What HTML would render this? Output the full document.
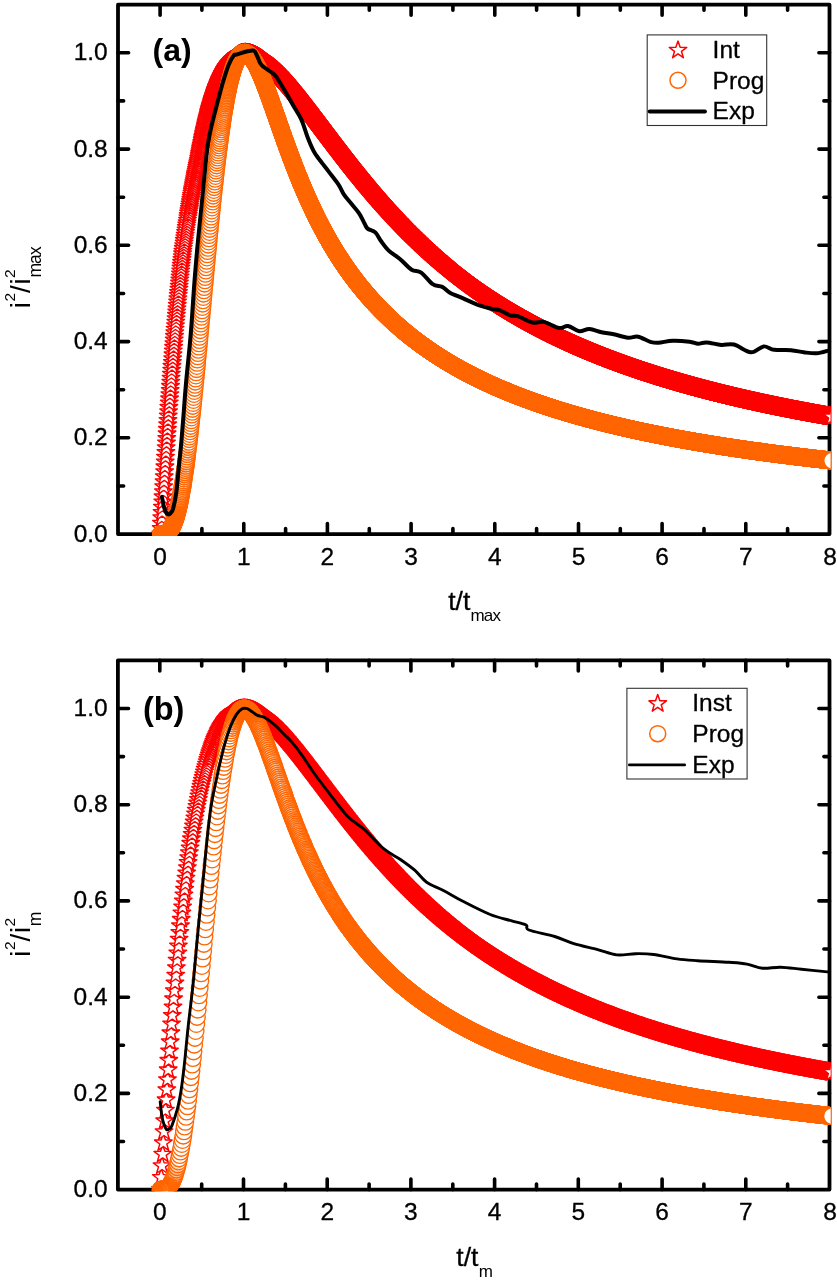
<!DOCTYPE html>
<html lang="en"><head><meta charset="utf-8"><title>Figure</title>
<style>html,body{margin:0;padding:0;background:#fff}svg{display:block}text{font-family:"Liberation Sans", Arial, sans-serif}.mi{fill:none;stroke:none;marker-start:url(#ms);marker-mid:url(#ms);marker-end:url(#ms)}.mp{fill:none;stroke:none;marker-start:url(#mc);marker-mid:url(#mc);marker-end:url(#mc)}.mi2{fill:none;stroke:none;marker-start:url(#ms2);marker-mid:url(#ms2);marker-end:url(#ms2)}.mp2{fill:none;stroke:none;marker-start:url(#mc2);marker-mid:url(#mc2);marker-end:url(#mc2)}.mi3{fill:none;stroke:none;marker-start:url(#ms3);marker-mid:url(#ms3);marker-end:url(#ms3)}.mp3{fill:none;stroke:none;marker-start:url(#mc3);marker-mid:url(#mc3);marker-end:url(#mc3)}</style></head><body>
<svg width="837" height="1280" viewBox="0 0 837 1280">
<rect width="837" height="1280" fill="#fff"/>
<defs>
<g id="gs"><path d="M0.00 -9.20L2.16 -2.98L8.75 -2.84L3.50 1.14L5.41 7.44L0.00 3.68L-5.41 7.44L-3.50 1.14L-8.75 -2.84L-2.16 -2.98Z" fill="#fff" stroke="#f00" stroke-width="1.45" stroke-linejoin="round"/></g>
<g id="gc"><circle r="8.3" fill="#fff" stroke="#f60" stroke-width="1.35"/></g>
<marker id="ms" markerUnits="userSpaceOnUse" markerWidth="24" markerHeight="24" refX="12" refY="12" viewBox="0 0 24 24"><path d="M12.00 2.80L14.16 9.02L20.75 9.16L15.50 13.14L17.41 19.44L12.00 15.68L6.59 19.44L8.50 13.14L3.25 9.16L9.84 9.02Z" fill="#fff" stroke="#f00" stroke-width="1.45" stroke-linejoin="round"/></marker>
<marker id="mc" markerUnits="userSpaceOnUse" markerWidth="24" markerHeight="24" refX="12" refY="12" viewBox="0 0 24 24"><circle cx="12" cy="12" r="8.3" fill="#fff" stroke="#f60" stroke-width="1.35"/></marker>
<marker id="ms2" markerUnits="userSpaceOnUse" markerWidth="24" markerHeight="24" refX="12" refY="12" viewBox="0 0 24 24"><path d="M12.00 2.80L14.16 9.02L20.75 9.16L15.50 13.14L17.41 19.44L12.00 15.68L6.59 19.44L8.50 13.14L3.25 9.16L9.84 9.02Z" fill="none" stroke="#f00" stroke-opacity="0.85" stroke-width="1.45" stroke-linejoin="round"/></marker>
<marker id="mc2" markerUnits="userSpaceOnUse" markerWidth="24" markerHeight="24" refX="12" refY="12" viewBox="0 0 24 24"><circle cx="12" cy="12" r="8.3" fill="none" stroke="#f60" stroke-opacity="0.85" stroke-width="1.35"/></marker>
<marker id="ms3" markerUnits="userSpaceOnUse" markerWidth="24" markerHeight="24" refX="12" refY="12" viewBox="0 0 24 24"><path d="M12.00 2.80L14.16 9.02L20.75 9.16L15.50 13.14L17.41 19.44L12.00 15.68L6.59 19.44L8.50 13.14L3.25 9.16L9.84 9.02Z" fill="none" stroke="#f00" stroke-opacity="0.4" stroke-width="1.45" stroke-linejoin="round"/></marker>
<marker id="mc3" markerUnits="userSpaceOnUse" markerWidth="24" markerHeight="24" refX="12" refY="12" viewBox="0 0 24 24"><circle cx="12" cy="12" r="8.3" fill="none" stroke="#f60" stroke-opacity="0.4" stroke-width="1.35"/></marker>
<path id="star" d="M12.00 2.80L14.16 9.02L20.75 9.16L15.50 13.14L17.41 19.44L12.00 15.68L6.59 19.44L8.50 13.14L3.25 9.16L9.84 9.02Z" fill="#fff" stroke="#f00" stroke-width="1.5" stroke-linejoin="round"/>
</defs>
<rect x="118.0" y="4.7" width="711.5" height="529.4" fill="none" stroke="#000" stroke-width="3.8" stroke-linejoin="round"/>
<path d="M160.1 534.1v-10.6M160.1 4.7v10.6M201.9 534.1v-5.6M201.9 4.7v5.6M243.8 534.1v-10.6M243.8 4.7v10.6M285.6 534.1v-5.6M285.6 4.7v5.6M327.4 534.1v-10.6M327.4 4.7v10.6M369.3 534.1v-5.6M369.3 4.7v5.6M411.1 534.1v-10.6M411.1 4.7v10.6M452.9 534.1v-5.6M452.9 4.7v5.6M494.8 534.1v-10.6M494.8 4.7v10.6M536.6 534.1v-5.6M536.6 4.7v5.6M578.5 534.1v-10.6M578.5 4.7v10.6M620.3 534.1v-5.6M620.3 4.7v5.6M662.1 534.1v-10.6M662.1 4.7v10.6M704.0 534.1v-5.6M704.0 4.7v5.6M745.8 534.1v-10.6M745.8 4.7v10.6M787.6 534.1v-5.6M787.6 4.7v5.6M118.0 486.0h5.6M829.5 486.0h-5.6M118.0 437.8h10.6M829.5 437.8h-10.6M118.0 389.7h5.6M829.5 389.7h-5.6M118.0 341.6h10.6M829.5 341.6h-10.6M118.0 293.5h5.6M829.5 293.5h-5.6M118.0 245.3h10.6M829.5 245.3h-10.6M118.0 197.2h5.6M829.5 197.2h-5.6M118.0 149.1h10.6M829.5 149.1h-10.6M118.0 100.9h5.6M829.5 100.9h-5.6M118.0 52.8h10.6M829.5 52.8h-10.6" stroke="#000" stroke-width="3.6" stroke-linecap="round" fill="none"/>
<g font-size="24.5" fill="#000" stroke="#000" stroke-width="0.3">
<text x="160.1" y="564.8" text-anchor="middle">0</text>
<text x="243.8" y="564.8" text-anchor="middle">1</text>
<text x="327.4" y="564.8" text-anchor="middle">2</text>
<text x="411.1" y="564.8" text-anchor="middle">3</text>
<text x="494.8" y="564.8" text-anchor="middle">4</text>
<text x="578.5" y="564.8" text-anchor="middle">5</text>
<text x="662.1" y="564.8" text-anchor="middle">6</text>
<text x="745.8" y="564.8" text-anchor="middle">7</text>
<text x="830.1" y="564.8" text-anchor="middle">8</text>
<text x="107.7" y="541.5" text-anchor="end">0.0</text>
<text x="107.7" y="445.2" text-anchor="end">0.2</text>
<text x="107.7" y="349.0" text-anchor="end">0.4</text>
<text x="107.7" y="252.7" text-anchor="end">0.6</text>
<text x="107.7" y="156.5" text-anchor="end">0.8</text>
<text x="107.7" y="60.2" text-anchor="end">1.0</text>
</g>
<clipPath id="clip1"><rect x="118.0" y="4.7" width="712.5" height="531.1"/></clipPath>
<g clip-path="url(#clip1)">
<polyline class="mi" points="160.9,534.1 161.2,528.6 161.5,523.2 161.8,517.8 162.1,512.5 162.4,507.3 162.8,502 163.1,496.9 163.4,491.8 163.7,486.7 164,481.7 164.3,476.7 164.6,471.7 164.9,466.9 165.2,462 165.5,457.2 165.9,452.5 166.2,447.8 166.5,443.1 166.8,438.5 167.1,433.9 167.4,429.4 167.7,424.9 168,420.5 168.3,416.1 168.6,411.7 168.9,407.4 169.3,403.1 169.6,398.9 169.9,394.7 170.2,390.5 170.5,386.4 170.8,382.3 171.1,378.3 171.4,374.3 171.7,370.3 172,366.4 172.4,362.5 172.7,358.7 173,354.9 173.3,351.1 173.6,347.4 173.9,343.7 174.2,340 174.5,336.4 174.8,332.8 175.1,329.3 175.5,325.8 175.8,322.3 176.1,318.8 176.4,315.4 176.7,312 177,308.7 177.3,305.4 177.6,302.1 177.9,298.8 178.2,295.6 178.5,292.5 178.9,289.3 179.2,286.2 179.5,283.1 179.8,280 180.1,277 180.4,274 180.7,271.1 181,268.1 181.3,265.2 181.6,262.4 182,259.5 182.3,256.7 182.6,253.9 182.9,251.2 183.3,248.4 183.7,245.7 184.1,243.1 184.4,240.4 184.8,237.8 185.2,235.2 185.6,232.6 186,230.1 186.3,227.6 186.7,225.1 187.1,222.7 187.5,220.2 187.9,217.8 188.2,215.5 188.6,213.1 189,210.8 189.4,208.5 189.8,206.2 190.1,204 190.5,201.7 190.9,199.5 191.3,197.3 191.6,195.2 192,193.1 192.4,190.9 192.8,188.9 193.2,186.8 193.5,184.8 193.9,182.7 194.3,180.7 194.7,178.8 195.1,176.8 195.4,174.9 195.8,173 196.2,171.1 196.6,169.2 197,167.4 197.3,165.6 197.7,163.8 198.1,162 198.5,160.2 198.8,158.5 199.2,156.8 199.5,155.1 199.8,153.4 200.1,151.7 200.4,150.1 200.7,148.5 201,146.9 201.4,145.3 201.7,143.7 202,142.2 202.3,140.6 202.6,139.1 202.9,137.6 203.2,136.2 203.5,134.7 203.8,133.3 204.1,131.8 204.5,130.4 204.8,129.1 205.1,127.7 205.4,126.3 205.7,125 206,123.7 206.3,122.4 206.6,121.1 206.9,119.8 207.2,118.6 207.6,117.3 207.9,116.1 208.2,114.9 208.5,113.7 208.8,112.5 209.1,111.4 209.4,110.2 209.7,109.1 210,108 210.3,106.9 210.6,105.8 211,104.8 211.3,103.7 211.6,102.7 211.9,101.6 212.2,100.6 212.5,99.6 212.8,98.6 213.1,97.7 213.4,96.7 213.7,95.8 214.1,94.8 214.4,93.9 214.7,93 215,92.1 215.3,91.2 215.6,90.4 215.9,89.5 216.2,88.7 216.5,87.9 216.8,87 217.1,86.2 217.5,85.5 217.8,84.7 218.1,83.9 218.4,83.2 218.7,82.4 219,81.7 219.3,81 219.6,80.3 219.9,79.6 220.2,78.9 220.6,78.2 220.9,77.5 221.2,76.9 221.5,76.2 221.8,75.6 222.1,75 222.4,74.4 222.7,73.8 223,73.2 223.3,72.6 223.6,72 224,71.5 224.3,70.9 224.6,70.4 224.9,69.9 225.2,69.4 225.5,68.8 225.8,68.3 226.1,67.9 226.4,67.4 226.7,66.9 227.1,66.4 227.4,66 227.7,65.5 228,65.1 228.3,64.7 228.6,64.3 228.9,63.9 229.2,63.5 229.5,63.1 229.8,62.7 230.1,62.3 230.5,62 230.8,61.6 231.1,61.3 231.4,60.9 231.7,60.6 232,60.3 232.3,59.9 232.6,59.6 232.9,59.3 233.2,59 233.6,58.8 233.9,58.5 234.2,58.2 234.5,57.9 234.8,57.7 235.1,57.4 235.3,57.2 235.6,57 235.9,56.7 236.1,56.5 236.4,56.3 236.6,56.1 236.9,55.9 237.1,55.7 237.4,55.5 237.6,55.3 237.9,55.2 238.1,55 238.4,54.9 238.6,54.7 238.9,54.6 239.2,54.4 239.4,54.3 239.7,54.2 239.9,54 240.2,53.9 240.4,53.8 240.7,53.7 240.9,53.6 241.2,53.5 241.4,53.4 241.7,53.4 241.9,53.3 242.2,53.2 242.5,53.2 242.7,53.1 243,53.1 243.2,53 243.5,53 243.7,52.9 244,52.9 244.2,52.9 244.5,52.9 244.7,52.8 245,52.8 245.3,52.8 245.5,52.8 245.8,52.8 246,52.8 246.3,52.9 246.5,52.9 246.8,52.9 247,52.9 247.3,53 247.5,53 247.8,53.1 248,53.1 248.3,53.2 248.6,53.2 248.8,53.3 249.1,53.3 249.4,53.4 249.7,53.5 250.1,53.6 250.4,53.7 250.7,53.7 251,53.8 251.3,53.9 251.6,54 251.9,54.1 252.2,54.2 252.5,54.3 252.8,54.5 253.2,54.6 253.5,54.7 253.8,54.8 254.1,55 254.4,55.1 254.7,55.2 255,55.4 255.3,55.5 255.6,55.7 255.9,55.8 256.3,56 256.6,56.1 256.9,56.3 257.2,56.5 257.5,56.6 257.8,56.8 258.1,57 258.4,57.2 258.7,57.3 259,57.5 259.3,57.7 259.7,57.9 260,58.1 260.3,58.3 260.6,58.5 260.9,58.7 261.2,58.9 261.5,59.1 261.8,59.3 262.1,59.5 262.4,59.8 262.8,60 263.1,60.2 263.4,60.4 263.7,60.7 264,60.9 264.3,61.1 264.6,61.4 264.9,61.6 265.2,61.8 265.5,62.1 265.8,62.3 266.2,62.6 266.5,62.8 266.8,63.1 267.1,63.3 267.4,63.6 267.7,63.9 268,64.1 268.3,64.4 268.6,64.7 268.9,64.9 269.3,65.2 269.6,65.5 269.9,65.8 270.2,66 270.5,66.3 270.8,66.6 271.1,66.9 271.4,67.2 271.7,67.5 272,67.8 272.3,68 272.7,68.3 273,68.6 273.3,68.9 273.6,69.2 273.9,69.5 274.2,69.8 274.5,70.2 274.8,70.5 275.1,70.8 275.4,71.1 275.8,71.4 276.1,71.7 276.4,72 276.7,72.3 277,72.7 277.3,73 277.6,73.3 277.9,73.6 278.2,74 278.5,74.3 278.8,74.6 279.2,74.9 279.5,75.3 279.8,75.6 280.1,75.9 280.4,76.3 280.7,76.6 281,77 281.3,77.3 281.6,77.6 281.9,78 282.3,78.3 282.6,78.7 282.9,79 283.2,79.4 283.5,79.7 283.8,80.1 284.1,80.4 284.4,80.8 284.7,81.1 285,81.5 285.4,81.9 285.7,82.2 286,82.6 286.3,82.9 286.6,83.3 286.9,83.7 287.2,84 287.5,84.4 287.8,84.7 288.1,85.1 288.4,85.5 288.8,85.9 289.1,86.2 289.4,86.6 289.7,87 290,87.3 290.3,87.7 290.6,88.1 290.9,88.5 291.2,88.8 291.5,89.2 291.9,89.6 292.2,90 292.5,90.4 292.8,90.7 293.1,91.1 293.4,91.5 293.7,91.9 294,92.3 294.3,92.6 294.6,93 294.9,93.4 295.3,93.8 295.6,94.2 295.9,94.6 296.2,95 296.5,95.4 296.8,95.7 297.1,96.1 297.4,96.5 297.7,96.9 298,97.3 298.4,97.7 298.7,98.1 299,98.5 299.3,98.9 299.6,99.3 299.9,99.7 300.2,100.1 300.5,100.5 300.8,100.9 301.1,101.3 301.4,101.7 301.8,102.1 302.1,102.5 302.4,102.9 302.7,103.3 303,103.7 303.3,104.1 303.6,104.5 303.9,104.9 304.2,105.3 304.5,105.7 304.9,106.1 305.2,106.5 305.5,106.9 305.8,107.3 306.1,107.7 306.4,108.1 306.7,108.5 307,108.9 307.3,109.3 307.6,109.7 308,110.1 308.3,110.5 308.6,110.9 308.9,111.3 309.2,111.7 309.5,112.1 309.8,112.5 310.1,113 310.4,113.4 310.7,113.8 311,114.2 311.4,114.6 311.7,115 312,115.4 312.3,115.8 312.6,116.2 312.9,116.6 313.2,117 313.5,117.4 313.8,117.9 314.1,118.3 314.5,118.7 314.8,119.1 315.1,119.5 315.4,119.9 315.7,120.3 316,120.7 316.3,121.1 316.6,121.5 316.9,122 317.2,122.4 317.5,122.8 317.9,123.2 318.2,123.6 318.5,124 318.8,124.4 319.1,124.8 319.4,125.2 319.7,125.7 320,126.1 320.3,126.5 320.6,126.9 321,127.3 321.3,127.7 321.6,128.1 321.9,128.5 322.2,128.9 322.5,129.4 322.8,129.8 323.1,130.2 323.4,130.6 323.7,131 324,131.4 324.4,131.8 324.7,132.2 325,132.6 325.3,133 325.6,133.5 325.9,133.9 326.2,134.3 326.5,134.7 326.8,135.1 327.1,135.5 327.5,135.9 327.8,136.3 328.1,136.7 328.4,137.1 328.7,137.6 329,138 329.3,138.4 329.6,138.8 329.9,139.2 330.2,139.6 330.5,140 330.9,140.4 331.2,140.8 331.5,141.2 331.8,141.6 332.1,142 332.4,142.4 332.7,142.9 333,143.3 333.3,143.7 333.6,144.1 334,144.5 334.3,144.9 334.6,145.3 334.9,145.7 335.2,146.1 335.5,146.5 335.8,146.9 336.1,147.3 336.4,147.7 336.7,148.1 337.1,148.5 337.4,148.9 337.7,149.3 338,149.7 338.3,150.1 338.6,150.5 338.9,150.9 339.2,151.3 339.5,151.8 339.8,152.2 340.1,152.6 340.5,153 340.8,153.4 341.1,153.8 341.4,154.2 341.7,154.6 342,155 342.3,155.4 342.6,155.8 342.9,156.2 343.2,156.6 343.6,156.9 343.9,157.3 344.2,157.7 344.5,158.1 344.8,158.5 345.1,158.9 345.4,159.3 345.7,159.7 346,160.1 346.3,160.5 346.6,160.9 347,161.3 347.3,161.7 347.6,162.1 347.9,162.5 348.2,162.9 348.5,163.3 348.8,163.7 349.1,164.1 349.4,164.5 349.7,164.8 350.1,165.2 350.4,165.6 350.7,166 351,166.4 351.3,166.8 351.6,167.2 351.9,167.6 352.2,168 352.5,168.3 352.8,168.7 353.1,169.1 353.5,169.5 353.8,169.9 354.1,170.3 354.4,170.7 354.7,171.1 355,171.4 355.3,171.8 355.6,172.2 355.9,172.6 356.2,173 356.6,173.4 356.9,173.7 357.2,174.1 357.5,174.5 357.8,174.9 358.1,175.3 358.4,175.7 358.7,176 359,176.4 359.3,176.8 359.6,177.2 360,177.6 360.3,177.9 360.6,178.3 360.9,178.7 361.2,179.1 361.5,179.4 361.8,179.8 362.1,180.2 362.4,180.6 362.7,180.9 363.1,181.3 363.4,181.7 363.7,182.1 364,182.4 364.3,182.8 364.6,183.2 364.9,183.6 365.2,183.9 365.5,184.3 365.8,184.7 366.2,185 366.5,185.4 366.8,185.8 367.1,186.2 367.4,186.5 367.7,186.9 368,187.3 368.3,187.6 368.6,188 368.9,188.4 369.2,188.7 369.6,189.1 369.9,189.5 370.2,189.8 370.5,190.2 370.8,190.6 371.1,190.9 371.4,191.3 371.7,191.6 372,192 372.3,192.4 372.7,192.7 373,193.1 373.3,193.5 373.6,193.8 373.9,194.2 374.2,194.5 374.5,194.9 374.8,195.3 375.1,195.6 375.4,196 375.7,196.3 376.1,196.7 376.4,197 376.7,197.4 377,197.7 377.3,198.1 377.6,198.5 377.9,198.8 378.2,199.2 378.5,199.5 378.8,199.9 379.2,200.2 379.5,200.6 379.8,200.9 380.1,201.3 380.4,201.6 380.7,202 381,202.3 381.3,202.7 381.6,203 381.9,203.4 382.2,203.7 382.6,204.1 382.9,204.4 383.2,204.8 383.5,205.1 383.8,205.4 384.1,205.8 384.4,206.1 384.7,206.5 385,206.8 385.3,207.2 385.7,207.5 386,207.9 386.3,208.2 386.6,208.5 386.9,208.9 387.2,209.2 387.5,209.6 387.8,209.9 388.1,210.2 388.4,210.6 388.8,210.9 389.1,211.2 389.4,211.6 389.7,211.9 390,212.3 390.3,212.6 390.6,212.9 390.9,213.3 391.2,213.6 391.5,213.9 391.8,214.3 392.2,214.6 392.5,214.9 392.8,215.3 393.1,215.6 393.4,215.9 393.7,216.3 394,216.6 394.3,216.9 394.6,217.2 394.9,217.6 395.3,217.9 395.6,218.2 395.9,218.6 396.2,218.9 396.5,219.2 396.8,219.5 397.1,219.9 397.4,220.2 397.7,220.5 398,220.8 398.3,221.2 398.7,221.5 399,221.8 399.3,222.1 399.6,222.4 399.9,222.8 400.2,223.1 400.5,223.4 400.8,223.7 401.1,224 401.4,224.4 401.8,224.7 402.1,225 402.4,225.3 402.7,225.6 403,226 403.3,226.3 403.6,226.6 403.9,226.9 404.2,227.2 404.5,227.5 404.8,227.8 405.2,228.2 405.5,228.5 405.8,228.8 406.1,229.1 406.4,229.4 406.7,229.7 407,230 407.3,230.3 407.6,230.6 407.9,231 408.3,231.3 408.6,231.6 408.9,231.9 409.2,232.2 409.5,232.5 409.8,232.8 410.1,233.1 410.4,233.4 410.7,233.7 411,234 411.3,234.3 411.7,234.6 412,234.9 412.3,235.2 412.6,235.5 412.9,235.8 413.2,236.1 413.5,236.4 413.8,236.7 414.1,237 414.4,237.3 414.8,237.6 415.1,237.9 415.4,238.2 415.7,238.5 416,238.8 416.3,239.1 416.6,239.4 416.9,239.7 417.2,240 417.5,240.3 417.9,240.6 418.2,240.9 418.5,241.2 418.8,241.5 419.1,241.8 419.4,242.1 419.7,242.4 420,242.7 420.3,243 420.6,243.3 420.9,243.5 421.3,243.8 421.6,244.1 421.9,244.4 422.2,244.7 422.5,245 422.8,245.3 423.1,245.6 423.4,245.9 423.7,246.1 424,246.4 424.4,246.7 424.7,247 425,247.3 425.3,247.6 425.6,247.9 425.9,248.1 426.2,248.4 426.5,248.7 426.8,249 427.1,249.3 427.4,249.5 427.8,249.8 428.1,250.1 428.4,250.4 428.7,250.7 429,250.9 429.3,251.2 429.6,251.5 429.9,251.8 430.2,252.1 430.5,252.3 430.9,252.6 431.2,252.9 431.5,253.2 431.8,253.4 432.1,253.7 432.4,254 432.7,254.3 433,254.5 433.3,254.8 433.6,255.1 433.9,255.4 434.3,255.6 434.6,255.9 434.9,256.2 435.2,256.4 435.5,256.7 435.8,257 436.1,257.3 436.4,257.5 436.7,257.8 437,258.1 437.4,258.3 437.7,258.6 438,258.9 438.3,259.1 438.6,259.4 438.9,259.7 439.2,259.9 439.5,260.2 439.8,260.5 440.1,260.7 440.4,261 440.8,261.3 441.1,261.5 441.4,261.8 441.7,262 442,262.3 442.3,262.6 442.6,262.8 442.9,263.1 443.2,263.3 443.5,263.6 443.9,263.9 444.2,264.1 444.5,264.4 444.8,264.6 445.1,264.9 445.4,265.2 445.7,265.4 446,265.7 446.3,265.9 446.6,266.2 447,266.4 447.3,266.7 447.6,266.9 447.9,267.2 448.2,267.5 448.5,267.7 448.8,268 449.1,268.2 449.4,268.5 449.7,268.7 450,269 450.4,269.2 450.7,269.5 451,269.7 451.3,270 451.6,270.2 451.9,270.5 452.2,270.7 452.5,271 452.8,271.2 453.1,271.5 453.5,271.7 453.8,272 454.1,272.2 454.4,272.5 454.7,272.7 455,272.9 455.3,273.2 455.6,273.4 455.9,273.7 456.2,273.9 456.5,274.2 456.9,274.4 457.2,274.6 457.5,274.9 457.8,275.1 458.1,275.4 458.4,275.6 458.7,275.9 459,276.1 459.3,276.3 459.6,276.6 460,276.8 460.3,277.1 460.6,277.3 460.9,277.5 461.2,277.8 461.5,278 461.8,278.2 462.1,278.5 462.4,278.7 462.7,279 463,279.2 463.4,279.4 463.7,279.7 464,279.9 464.3,280.1 464.6,280.4 464.9,280.6 465.2,280.8 465.5,281.1 465.8,281.3 466.1,281.5 466.5,281.8 466.8,282 467.1,282.2 467.4,282.5 467.7,282.7 468,282.9 468.3,283.1 468.6,283.4 468.9,283.6 469.2,283.8 469.6,284.1 469.9,284.3 470.2,284.5 470.5,284.7 470.8,285 471.1,285.2 471.4,285.4 471.7,285.6 472,285.9 472.3,286.1 472.6,286.3 473,286.5 473.3,286.8 473.6,287 473.9,287.2 474.2,287.4 474.5,287.7 474.8,287.9 475.1,288.1 475.4,288.3 475.7,288.5 476.1,288.8 476.4,289 476.7,289.2 477,289.4 477.3,289.6 477.6,289.9 477.9,290.1 478.2,290.3 478.5,290.5 478.8,290.7 479.1,291 479.5,291.2 479.8,291.4 480.1,291.6 480.4,291.8 480.7,292 481,292.3 481.3,292.5 481.6,292.7 481.9,292.9 482.2,293.1 482.6,293.3 482.9,293.5 483.2,293.8 483.5,294 483.8,294.2 484.1,294.4 484.4,294.6 484.7,294.8 485,295 485.3,295.2 485.6,295.5 486,295.7 486.3,295.9 486.6,296.1 486.9,296.3 487.2,296.5 487.5,296.7 487.8,296.9 488.1,297.1 488.4,297.3 488.7,297.5 489.1,297.7 489.4,298 489.7,298.2 490,298.4 490.3,298.6 490.6,298.8 490.9,299 491.2,299.2 491.5,299.4 491.8,299.6 492.1,299.8 492.5,300 492.8,300.2 493.1,300.4 493.4,300.6 493.7,300.8 494,301 494.3,301.2 494.6,301.4 494.9,301.6 495.2,301.8 495.6,302 495.9,302.2 496.2,302.4 496.5,302.6 496.8,302.8 497.1,303 497.4,303.2 497.7,303.4 498,303.6 498.3,303.8 498.7,304 499,304.2 499.3,304.4 499.6,304.6 499.9,304.8 500.2,305 500.5,305.2 500.8,305.4 501.1,305.6 501.4,305.8 501.7,306 502.1,306.2 502.4,306.4 502.7,306.6 503,306.7 503.3,306.9 503.6,307.1 503.9,307.3 504.2,307.5 504.5,307.7 504.8,307.9 505.2,308.1 505.5,308.3 505.8,308.5 506.1,308.7 506.4,308.9 506.7,309 507,309.2 507.3,309.4 507.6,309.6 507.9,309.8 508.2,310 508.6,310.2 508.9,310.4 509.2,310.6 509.5,310.7 509.8,310.9 510.1,311.1 510.4,311.3 510.7,311.5 511,311.7 511.3,311.9 511.7,312 512,312.2 512.3,312.4 512.6,312.6 512.9,312.8 513.2,313 513.5,313.2 513.8,313.3 514.1,313.5 514.4,313.7 514.7,313.9 515.1,314.1 515.4,314.2 515.7,314.4 516,314.6 516.3,314.8 516.6,315 516.9,315.2 517.2,315.3 517.5,315.5 517.8,315.7 518.2,315.9 518.5,316.1 518.8,316.2 519.1,316.4 519.4,316.6 519.7,316.8 520,316.9 520.3,317.1 520.6,317.3 520.9,317.5 521.2,317.7 521.6,317.8 521.9,318 522.2,318.2 522.5,318.4 522.8,318.5 523.1,318.7 523.4,318.9 523.7,319.1 524,319.2 524.3,319.4 524.7,319.6 525,319.8 525.3,319.9 525.6,320.1 525.9,320.3 526.2,320.5 526.5,320.6 526.8,320.8 527.1,321 527.4,321.1 527.8,321.3 528.1,321.5 528.4,321.7 528.7,321.8 529,322 529.3,322.2 529.6,322.3 529.9,322.5 530.2,322.7 530.5,322.8 530.8,323 531.2,323.2 531.5,323.4 531.8,323.5 532.1,323.7 532.4,323.9 532.7,324 533,324.2 533.3,324.4 533.6,324.5 533.9,324.7 534.3,324.9 534.6,325 534.9,325.2 535.2,325.4 535.5,325.5 535.8,325.7 536.1,325.9 536.4,326 536.7,326.2 537,326.4 537.3,326.5 537.7,326.7 538,326.8 538.3,327 538.6,327.2 538.9,327.3 539.2,327.5 539.5,327.7 539.8,327.8 540.1,328 540.4,328.1 540.8,328.3 541.1,328.5 541.4,328.6 541.7,328.8 542,328.9 542.3,329.1 542.6,329.3 542.9,329.4 543.2,329.6 543.5,329.7 543.8,329.9 544.2,330.1 544.5,330.2 544.8,330.4 545.1,330.5 545.4,330.7 545.7,330.9 546,331 546.3,331.2 546.6,331.3 546.9,331.5 547.3,331.6 547.6,331.8 547.9,332 548.2,332.1 548.5,332.3 548.8,332.4 549.1,332.6 549.4,332.7 549.7,332.9 550,333 550.4,333.2 550.7,333.3 551,333.5 551.3,333.7 551.6,333.8 551.9,334 552.2,334.1 552.5,334.3 552.8,334.4 553.1,334.6 553.4,334.7 553.8,334.9 554.1,335 554.4,335.2 554.7,335.3 555,335.5 555.3,335.6 555.6,335.8 555.9,335.9 556.2,336.1 556.5,336.2 556.9,336.4 557.2,336.5 557.5,336.7 557.8,336.8 558.1,337 558.4,337.1 558.7,337.3 559,337.4 559.3,337.6 559.6,337.7 559.9,337.9 560.3,338 560.6,338.2 560.9,338.3 561.2,338.5 561.5,338.6 561.8,338.8 562.1,338.9 562.4,339 562.7,339.2 563,339.3 563.4,339.5 563.7,339.6 564,339.8 564.3,339.9 564.6,340.1 564.9,340.2 565.2,340.4 565.5,340.5 565.8,340.6 566.1,340.8 566.4,340.9 566.8,341.1 567.1,341.2 567.4,341.4 567.7,341.5 568,341.6 568.3,341.8 568.6,341.9 568.9,342.1 569.2,342.2 569.5,342.4 569.9,342.5 570.2,342.6 570.5,342.8 570.8,342.9 571.1,343.1 571.4,343.2 571.7,343.3 572,343.5 572.3,343.6 572.6,343.8 572.9,343.9 573.3,344 573.6,344.2 573.9,344.3 574.2,344.5 574.5,344.6 574.8,344.7 575.1,344.9 575.4,345 575.7,345.1 576,345.3 576.4,345.4 576.7,345.6 577,345.7 577.3,345.8 577.6,346 577.9,346.1 578.2,346.2 578.5,346.4 578.8,346.5 579.1,346.6 579.5,346.8 579.8,346.9 580.1,347 580.4,347.2 580.7,347.3 581,347.5 581.3,347.6 581.6,347.7 581.9,347.9 582.2,348 582.5,348.1 582.9,348.3 583.2,348.4 583.5,348.5 583.8,348.7 584.1,348.8 584.4,348.9 584.7,349.1 585,349.2 585.3,349.3 585.6,349.4 586,349.6 586.3,349.7 586.6,349.8 586.9,350 587.2,350.1 587.5,350.2 587.8,350.4 588.1,350.5 588.4,350.6 588.7,350.8 589,350.9 589.4,351 589.7,351.1 590,351.3 590.3,351.4 590.6,351.5 590.9,351.7 591.2,351.8 591.5,351.9 591.8,352 592.1,352.2 592.5,352.3 592.8,352.4 593.1,352.6 593.4,352.7 593.7,352.8 594,352.9 594.3,353.1 594.6,353.2 594.9,353.3 595.2,353.4 595.5,353.6 595.9,353.7 596.2,353.8 596.5,353.9 596.8,354.1 597.1,354.2 597.4,354.3 597.7,354.5 598,354.6 598.3,354.7 598.6,354.8 599,354.9 599.3,355.1 599.6,355.2 599.9,355.3 600.2,355.4 600.5,355.6 600.8,355.7 601.1,355.8 601.4,355.9 601.7,356.1 602.1,356.2 602.4,356.3 602.7,356.4 603,356.6 603.3,356.7 603.6,356.8 603.9,356.9 604.2,357 604.5,357.2 604.8,357.3 605.1,357.4 605.5,357.5 605.8,357.6 606.1,357.8 606.4,357.9 606.7,358 607,358.1 607.3,358.2 607.6,358.4 607.9,358.5 608.2,358.6 608.6,358.7 608.9,358.8 609.2,359 609.5,359.1 609.8,359.2 610.1,359.3 610.4,359.4 610.7,359.6 611,359.7 611.3,359.8 611.6,359.9 612,360 612.3,360.1 612.6,360.3 612.9,360.4 613.2,360.5 613.5,360.6 613.8,360.7 614.1,360.8 614.4,361 614.7,361.1 615.1,361.2 615.4,361.3 615.7,361.4 616,361.5 616.3,361.7 616.6,361.8 616.9,361.9 617.2,362 617.5,362.1 617.8,362.2 618.1,362.4 618.5,362.5 618.8,362.6 619.1,362.7 619.4,362.8 619.7,362.9 620,363 620.3,363.1 620.6,363.3 620.9,363.4 621.2,363.5 621.6,363.6 621.9,363.7 622.2,363.8 622.5,363.9 622.8,364.1 623.1,364.2 623.4,364.3 623.7,364.4 624,364.5 624.3,364.6 624.6,364.7 625,364.8 625.3,364.9 625.6,365.1 625.9,365.2 626.2,365.3 626.5,365.4 626.8,365.5 627.1,365.6 627.4,365.7 627.7,365.8 628.1,365.9 628.4,366.1 628.7,366.2 629,366.3 629.3,366.4 629.6,366.5 629.9,366.6 630.2,366.7 630.5,366.8 630.8,366.9 631.2,367 631.5,367.1 631.8,367.3 632.1,367.4 632.4,367.5 632.7,367.6 633,367.7 633.3,367.8 633.6,367.9 633.9,368 634.2,368.1 634.6,368.2 634.9,368.3 635.2,368.4 635.5,368.5 635.8,368.7 636.1,368.8 636.4,368.9 636.7,369 637,369.1 637.3,369.2 637.7,369.3 638,369.4 638.3,369.5 638.6,369.6 638.9,369.7 639.2,369.8 639.5,369.9 639.8,370 640.1,370.1 640.4,370.2 640.7,370.3 641.1,370.4 641.4,370.5 641.7,370.7 642,370.8 642.3,370.9 642.6,371 642.9,371.1 643.2,371.2 643.5,371.3 643.8,371.4 644.2,371.5 644.5,371.6 644.8,371.7 645.1,371.8 645.4,371.9 645.7,372 646,372.1 646.3,372.2 646.6,372.3 646.9,372.4 647.2,372.5 647.6,372.6 647.9,372.7 648.2,372.8 648.5,372.9 648.8,373 649.1,373.1 649.4,373.2 649.7,373.3 650,373.4 650.3,373.5 650.7,373.6 651,373.7 651.3,373.8 651.6,373.9 651.9,374 652.2,374.1 652.5,374.2 652.8,374.3 653.1,374.4 653.4,374.5 653.7,374.6 654.1,374.7 654.4,374.8 654.7,374.9 655,375 655.3,375.1 655.6,375.2 655.9,375.3 656.2,375.4 656.5,375.5 656.8,375.6 657.2,375.7 657.5,375.8 657.8,375.9 658.1,376 658.4,376.1 658.7,376.2 659,376.3 659.3,376.4 659.6,376.5 659.9,376.6 660.3,376.7 660.6,376.8 660.9,376.9 661.2,377 661.5,377.1 661.8,377.2 662.1,377.3 662.4,377.4 662.7,377.4 663,377.5 663.3,377.6 663.7,377.7 664,377.8 664.3,377.9 664.6,378 664.9,378.1 665.2,378.2 665.5,378.3 665.8,378.4 666.1,378.5 666.4,378.6 666.8,378.7 667.1,378.8 667.4,378.9 667.7,379 668,379.1 668.3,379.2 668.6,379.2 668.9,379.3 669.2,379.4 669.5,379.5 669.8,379.6 670.2,379.7 670.5,379.8 670.8,379.9 671.1,380 671.4,380.1 671.7,380.2 672,380.3 672.3,380.4 672.6,380.5 672.9,380.5 673.3,380.6 673.6,380.7 673.9,380.8 674.2,380.9 674.5,381 674.8,381.1 675.1,381.2 675.4,381.3 675.7,381.4 676,381.5 676.3,381.6 676.7,381.6 677,381.7 677.3,381.8 677.6,381.9 677.9,382 678.2,382.1 678.5,382.2 678.8,382.3 679.1,382.4 679.4,382.5 679.8,382.6 680.1,382.6 680.4,382.7 680.7,382.8 681,382.9 681.3,383 681.6,383.1 681.9,383.2 682.2,383.3 682.5,383.4 682.9,383.4 683.2,383.5 683.5,383.6 683.8,383.7 684.1,383.8 684.4,383.9 684.7,384 685,384.1 685.3,384.2 685.6,384.2 685.9,384.3 686.3,384.4 686.6,384.5 686.9,384.6 687.2,384.7 687.5,384.8 687.8,384.9 688.1,384.9 688.4,385 688.7,385.1 689,385.2 689.4,385.3 689.7,385.4 690,385.5 690.3,385.5 690.6,385.6 690.9,385.7 691.2,385.8 691.5,385.9 691.8,386 692.1,386.1 692.4,386.1 692.8,386.2 693.1,386.3 693.4,386.4 693.7,386.5 694,386.6 694.3,386.7 694.6,386.7 694.9,386.8 695.2,386.9 695.5,387 695.9,387.1 696.2,387.2 696.5,387.3 696.8,387.3 697.1,387.4 697.4,387.5 697.7,387.6 698,387.7 698.3,387.8 698.6,387.8 698.9,387.9 699.3,388 699.6,388.1 699.9,388.2 700.2,388.3 700.5,388.3 700.8,388.4 701.1,388.5 701.4,388.6 701.7,388.7 702,388.8 702.4,388.8 702.7,388.9 703,389 703.3,389.1 703.6,389.2 703.9,389.3 704.2,389.3 704.5,389.4 704.8,389.5 705.1,389.6 705.4,389.7 705.8,389.7 706.1,389.8 706.4,389.9 706.7,390 707,390.1 707.3,390.2 707.6,390.2 707.9,390.3 708.2,390.4 708.5,390.5 708.9,390.6 709.2,390.6 709.5,390.7 709.8,390.8 710.1,390.9 710.4,391 710.7,391 711,391.1 711.3,391.2 711.6,391.3 712,391.4 712.3,391.4 712.6,391.5 712.9,391.6 713.2,391.7 713.5,391.8 713.8,391.8 714.1,391.9 714.4,392 714.7,392.1 715,392.2 715.4,392.2 715.7,392.3 716,392.4 716.3,392.5 716.6,392.5 716.9,392.6 717.2,392.7 717.5,392.8 717.8,392.9 718.1,392.9 718.5,393 718.8,393.1 719.1,393.2 719.4,393.3 719.7,393.3 720,393.4 720.3,393.5 720.6,393.6 720.9,393.6 721.2,393.7 721.5,393.8 721.9,393.9 722.2,393.9 722.5,394 722.8,394.1 723.1,394.2 723.4,394.3 723.7,394.3 724,394.4 724.3,394.5 724.6,394.6 725,394.6 725.3,394.7 725.6,394.8 725.9,394.9 726.2,394.9 726.5,395 726.8,395.1 727.1,395.2 727.4,395.2 727.7,395.3 728,395.4 728.4,395.5 728.7,395.5 729,395.6 729.3,395.7 729.6,395.8 729.9,395.8 730.2,395.9 730.5,396 730.8,396.1 731.1,396.1 731.5,396.2 731.8,396.3 732.1,396.4 732.4,396.4 732.7,396.5 733,396.6 733.3,396.7 733.6,396.7 733.9,396.8 734.2,396.9 734.5,397 734.9,397 735.2,397.1 735.5,397.2 735.8,397.3 736.1,397.3 736.4,397.4 736.7,397.5 737,397.6 737.3,397.6 737.6,397.7 738,397.8 738.3,397.8 738.6,397.9 738.9,398 739.2,398.1 739.5,398.1 739.8,398.2 740.1,398.3 740.4,398.4 740.7,398.4 741.1,398.5 741.4,398.6 741.7,398.6 742,398.7 742.3,398.8 742.6,398.9 742.9,398.9 743.2,399 743.5,399.1 743.8,399.1 744.1,399.2 744.5,399.3 744.8,399.4 745.1,399.4 745.4,399.5 745.7,399.6 746,399.6 746.3,399.7 746.6,399.8 746.9,399.9 747.2,399.9 747.6,400 747.9,400.1 748.2,400.1 748.5,400.2 748.8,400.3 749.1,400.3 749.4,400.4 749.7,400.5 750,400.6 750.3,400.6 750.6,400.7 751,400.8 751.3,400.8 751.6,400.9 751.9,401 752.2,401 752.5,401.1 752.8,401.2 753.1,401.3 753.4,401.3 753.7,401.4 754.1,401.5 754.4,401.5 754.7,401.6 755,401.7 755.3,401.7 755.6,401.8 755.9,401.9 756.2,401.9 756.5,402 756.8,402.1 757.1,402.1 757.5,402.2 757.8,402.3 758.1,402.4 758.4,402.4 758.7,402.5 759,402.6 759.3,402.6 759.6,402.7 759.9,402.8 760.2,402.8 760.6,402.9 760.9,403 761.2,403 761.5,403.1 761.8,403.2 762.1,403.2 762.4,403.3 762.7,403.4 763,403.4 763.3,403.5 763.7,403.6 764,403.6 764.3,403.7 764.6,403.8 764.9,403.8 765.2,403.9 765.5,404 765.8,404 766.1,404.1 766.4,404.2 766.7,404.2 767.1,404.3 767.4,404.4 767.7,404.4 768,404.5 768.3,404.6 768.6,404.6 768.9,404.7 769.2,404.8 769.5,404.8 769.8,404.9 770.2,405 770.5,405 770.8,405.1 771.1,405.2 771.4,405.2 771.7,405.3 772,405.4 772.3,405.4 772.6,405.5 772.9,405.5 773.2,405.6 773.6,405.7 773.9,405.7 774.2,405.8 774.5,405.9 774.8,405.9 775.1,406 775.4,406.1 775.7,406.1 776,406.2 776.3,406.3 776.7,406.3 777,406.4 777.3,406.4 777.6,406.5 777.9,406.6 778.2,406.6 778.5,406.7 778.8,406.8 779.1,406.8 779.4,406.9 779.7,407 780.1,407 780.4,407.1 780.7,407.1 781,407.2 781.3,407.3 781.6,407.3 781.9,407.4 782.2,407.5 782.5,407.5 782.8,407.6 783.2,407.7 783.5,407.7 783.8,407.8 784.1,407.8 784.4,407.9 784.7,408 785,408 785.3,408.1 785.6,408.2 785.9,408.2 786.2,408.3 786.6,408.3 786.9,408.4 787.2,408.5 787.5,408.5 787.8,408.6 788.1,408.6 788.4,408.7 788.7,408.8 789,408.8 789.3,408.9 789.7,409 790,409 790.3,409.1 790.6,409.1 790.9,409.2 791.2,409.3 791.5,409.3 791.8,409.4 792.1,409.4 792.4,409.5 792.8,409.6 793.1,409.6 793.4,409.7 793.7,409.8 794,409.8 794.3,409.9 794.6,409.9 794.9,410 795.2,410.1 795.5,410.1 795.8,410.2 796.2,410.2 796.5,410.3 796.8,410.4 797.1,410.4 797.4,410.5 797.7,410.5 798,410.6 798.3,410.7 798.6,410.7 798.9,410.8 799.3,410.8 799.6,410.9 799.9,411 800.2,411 800.5,411.1 800.8,411.1 801.1,411.2 801.4,411.3 801.7,411.3 802,411.4 802.3,411.4 802.7,411.5 803,411.5 803.3,411.6 803.6,411.7 803.9,411.7 804.2,411.8 804.5,411.8 804.8,411.9 805.1,412 805.4,412 805.8,412.1 806.1,412.1 806.4,412.2 806.7,412.3 807,412.3 807.3,412.4 807.6,412.4 807.9,412.5 808.2,412.5 808.5,412.6 808.8,412.7 809.2,412.7 809.5,412.8 809.8,412.8 810.1,412.9 810.4,412.9 810.7,413 811,413.1 811.3,413.1 811.6,413.2 811.9,413.2 812.3,413.3 812.6,413.4 812.9,413.4 813.2,413.5 813.5,413.5 813.8,413.6 814.1,413.6 814.4,413.7 814.7,413.8 815,413.8 815.4,413.9 815.7,413.9 816,414 816.3,414 816.6,414.1 816.9,414.1 817.2,414.2 817.5,414.3 817.8,414.3 818.1,414.4 818.4,414.4 818.8,414.5 819.1,414.5 819.4,414.6 819.7,414.7 820,414.7 820.3,414.8 820.6,414.8 820.9,414.9 821.2,414.9 821.5,415 821.9,415 822.2,415.1 822.5,415.2 822.8,415.2 823.1,415.3 823.4,415.3 823.7,415.4 824,415.4 824.3,415.5 824.6,415.5 824.9,415.6 825.3,415.7 825.6,415.7 825.9,415.8 826.2,415.8 826.5,415.9 826.8,415.9 827.1,416 827.4,416 827.7,416.1 828,416.2 828.4,416.2 828.7,416.3 829,416.3 829.3,416.4 829.6,416.4 829.9,416.5 830.2,416.5 830.5,416.6 830.8,416.6 831.1,416.7 831.4,416.7 831.8,416.8 832.1,416.9"/>
<polyline class="mi2" points="208.8,112.5 209.1,111.4 209.4,110.2 209.7,109.1 210,108 210.3,106.9 210.6,105.8 211,104.8 211.3,103.7 211.6,102.7 211.9,101.6 212.2,100.6 212.5,99.6 212.8,98.6 213.1,97.7 213.4,96.7 213.7,95.8 214.1,94.8 214.4,93.9 214.7,93 215,92.1 215.3,91.2 215.6,90.4 215.9,89.5 216.2,88.7 216.5,87.9 216.8,87 217.1,86.2 217.5,85.5 217.8,84.7 218.1,83.9 218.4,83.2 218.7,82.4 219,81.7 219.3,81 219.6,80.3 219.9,79.6 220.2,78.9 220.6,78.2 220.9,77.5 221.2,76.9 221.5,76.2 221.8,75.6 222.1,75 222.4,74.4 222.7,73.8 223,73.2 223.3,72.6 223.6,72 224,71.5 224.3,70.9 224.6,70.4 224.9,69.9 225.2,69.4 225.5,68.8 225.8,68.3 226.1,67.9 226.4,67.4 226.7,66.9 227.1,66.4 227.4,66 227.7,65.5 228,65.1 228.3,64.7 228.6,64.3 228.9,63.9 229.2,63.5 229.5,63.1 229.8,62.7 230.1,62.3 230.5,62 230.8,61.6 231.1,61.3 231.4,60.9 231.7,60.6 232,60.3 232.3,59.9 232.6,59.6 232.9,59.3 233.2,59 233.6,58.8 233.9,58.5 234.2,58.2 234.5,57.9 234.8,57.7 235.1,57.4 235.3,57.2 235.6,57 235.9,56.7 236.1,56.5 236.4,56.3 236.6,56.1 236.9,55.9 237.1,55.7 237.4,55.5 237.6,55.3 237.9,55.2 238.1,55 238.4,54.9 238.6,54.7 238.9,54.6 239.2,54.4 239.4,54.3 239.7,54.2 239.9,54 240.2,53.9 240.4,53.8 240.7,53.7 240.9,53.6 241.2,53.5 241.4,53.4 241.7,53.4 241.9,53.3 242.2,53.2 242.5,53.2 242.7,53.1 243,53.1 243.2,53 243.5,53 243.7,52.9 244,52.9 244.2,52.9 244.5,52.9 244.7,52.8 245,52.8 245.3,52.8 245.5,52.8 245.8,52.8 246,52.8 246.3,52.9 246.5,52.9 246.8,52.9 247,52.9 247.3,53 247.5,53 247.8,53.1 248,53.1 248.3,53.2 248.6,53.2 248.8,53.3 249.1,53.3 249.4,53.4 249.7,53.5 250.1,53.6 250.4,53.7 250.7,53.7 251,53.8 251.3,53.9 251.6,54 251.9,54.1 252.2,54.2 252.5,54.3 252.8,54.5 253.2,54.6 253.5,54.7 253.8,54.8 254.1,55 254.4,55.1 254.7,55.2 255,55.4 255.3,55.5 255.6,55.7 255.9,55.8 256.3,56 256.6,56.1 256.9,56.3 257.2,56.5 257.5,56.6 257.8,56.8 258.1,57 258.4,57.2 258.7,57.3 259,57.5 259.3,57.7 259.7,57.9 260,58.1 260.3,58.3 260.6,58.5 260.9,58.7 261.2,58.9 261.5,59.1 261.8,59.3 262.1,59.5 262.4,59.8 262.8,60 263.1,60.2 263.4,60.4 263.7,60.7 264,60.9 264.3,61.1 264.6,61.4 264.9,61.6 265.2,61.8 265.5,62.1 265.8,62.3 266.2,62.6 266.5,62.8 266.8,63.1 267.1,63.3 267.4,63.6 267.7,63.9 268,64.1 268.3,64.4 268.6,64.7 268.9,64.9 269.3,65.2 269.6,65.5 269.9,65.8 270.2,66 270.5,66.3 270.8,66.6 271.1,66.9 271.4,67.2 271.7,67.5 272,67.8 272.3,68 272.7,68.3 273,68.6 273.3,68.9 273.6,69.2 273.9,69.5 274.2,69.8 274.5,70.2 274.8,70.5 275.1,70.8 275.4,71.1 275.8,71.4 276.1,71.7 276.4,72 276.7,72.3 277,72.7 277.3,73 277.6,73.3 277.9,73.6 278.2,74 278.5,74.3 278.8,74.6 279.2,74.9 279.5,75.3 279.8,75.6 280.1,75.9 280.4,76.3 280.7,76.6 281,77 281.3,77.3 281.6,77.6 281.9,78 282.3,78.3 282.6,78.7 282.9,79 283.2,79.4 283.5,79.7 283.8,80.1 284.1,80.4 284.4,80.8 284.7,81.1 285,81.5 285.4,81.9 285.7,82.2 286,82.6 286.3,82.9 286.6,83.3 286.9,83.7 287.2,84 287.5,84.4 287.8,84.7 288.1,85.1 288.4,85.5 288.8,85.9 289.1,86.2 289.4,86.6 289.7,87 290,87.3 290.3,87.7 290.6,88.1 290.9,88.5 291.2,88.8 291.5,89.2 291.9,89.6 292.2,90 292.5,90.4 292.8,90.7 293.1,91.1 293.4,91.5 293.7,91.9 294,92.3 294.3,92.6 294.6,93 294.9,93.4 295.3,93.8 295.6,94.2 295.9,94.6 296.2,95 296.5,95.4 296.8,95.7 297.1,96.1 297.4,96.5 297.7,96.9 298,97.3 298.4,97.7 298.7,98.1 299,98.5 299.3,98.9 299.6,99.3 299.9,99.7 300.2,100.1 300.5,100.5 300.8,100.9 301.1,101.3 301.4,101.7 301.8,102.1 302.1,102.5 302.4,102.9 302.7,103.3 303,103.7 303.3,104.1 303.6,104.5 303.9,104.9 304.2,105.3 304.5,105.7 304.9,106.1 305.2,106.5 305.5,106.9 305.8,107.3 306.1,107.7 306.4,108.1 306.7,108.5 307,108.9 307.3,109.3 307.6,109.7 308,110.1 308.3,110.5 308.6,110.9 308.9,111.3 309.2,111.7 309.5,112.1 309.8,112.5 310.1,113 310.4,113.4 310.7,113.8 311,114.2 311.4,114.6 311.7,115 312,115.4 312.3,115.8 312.6,116.2 312.9,116.6 313.2,117 313.5,117.4 313.8,117.9 314.1,118.3 314.5,118.7 314.8,119.1 315.1,119.5 315.4,119.9 315.7,120.3 316,120.7 316.3,121.1 316.6,121.5 316.9,122 317.2,122.4 317.5,122.8 317.9,123.2 318.2,123.6 318.5,124 318.8,124.4 319.1,124.8 319.4,125.2 319.7,125.7 320,126.1 320.3,126.5 320.6,126.9 321,127.3 321.3,127.7 321.6,128.1 321.9,128.5 322.2,128.9 322.5,129.4 322.8,129.8 323.1,130.2 323.4,130.6 323.7,131 324,131.4 324.4,131.8 324.7,132.2 325,132.6 325.3,133 325.6,133.5 325.9,133.9 326.2,134.3 326.5,134.7 326.8,135.1 327.1,135.5 327.5,135.9 327.8,136.3 328.1,136.7 328.4,137.1 328.7,137.6 329,138 329.3,138.4 329.6,138.8 329.9,139.2 330.2,139.6 330.5,140 330.9,140.4 331.2,140.8 331.5,141.2 331.8,141.6 332.1,142 332.4,142.4 332.7,142.9 333,143.3 333.3,143.7 333.6,144.1 334,144.5 334.3,144.9 334.6,145.3 334.9,145.7 335.2,146.1 335.5,146.5 335.8,146.9 336.1,147.3 336.4,147.7 336.7,148.1 337.1,148.5 337.4,148.9 337.7,149.3 338,149.7 338.3,150.1 338.6,150.5 338.9,150.9 339.2,151.3 339.5,151.8 339.8,152.2 340.1,152.6 340.5,153 340.8,153.4 341.1,153.8 341.4,154.2 341.7,154.6 342,155 342.3,155.4 342.6,155.8 342.9,156.2 343.2,156.6 343.6,156.9 343.9,157.3 344.2,157.7 344.5,158.1 344.8,158.5 345.1,158.9 345.4,159.3 345.7,159.7 346,160.1 346.3,160.5 346.6,160.9 347,161.3 347.3,161.7 347.6,162.1 347.9,162.5 348.2,162.9 348.5,163.3 348.8,163.7 349.1,164.1 349.4,164.5 349.7,164.8 350.1,165.2 350.4,165.6 350.7,166 351,166.4 351.3,166.8 351.6,167.2 351.9,167.6 352.2,168 352.5,168.3 352.8,168.7 353.1,169.1 353.5,169.5 353.8,169.9 354.1,170.3 354.4,170.7 354.7,171.1 355,171.4 355.3,171.8 355.6,172.2 355.9,172.6 356.2,173 356.6,173.4 356.9,173.7 357.2,174.1 357.5,174.5 357.8,174.9 358.1,175.3 358.4,175.7 358.7,176 359,176.4 359.3,176.8 359.6,177.2 360,177.6 360.3,177.9 360.6,178.3 360.9,178.7 361.2,179.1 361.5,179.4 361.8,179.8 362.1,180.2 362.4,180.6 362.7,180.9 363.1,181.3 363.4,181.7 363.7,182.1 364,182.4 364.3,182.8 364.6,183.2 364.9,183.6 365.2,183.9 365.5,184.3 365.8,184.7 366.2,185 366.5,185.4 366.8,185.8 367.1,186.2 367.4,186.5 367.7,186.9 368,187.3 368.3,187.6 368.6,188 368.9,188.4 369.2,188.7 369.6,189.1 369.9,189.5 370.2,189.8 370.5,190.2 370.8,190.6 371.1,190.9 371.4,191.3 371.7,191.6 372,192 372.3,192.4 372.7,192.7 373,193.1 373.3,193.5 373.6,193.8 373.9,194.2 374.2,194.5 374.5,194.9 374.8,195.3 375.1,195.6 375.4,196 375.7,196.3 376.1,196.7 376.4,197 376.7,197.4 377,197.7 377.3,198.1 377.6,198.5 377.9,198.8 378.2,199.2 378.5,199.5 378.8,199.9 379.2,200.2 379.5,200.6 379.8,200.9 380.1,201.3 380.4,201.6 380.7,202 381,202.3 381.3,202.7 381.6,203 381.9,203.4 382.2,203.7 382.6,204.1 382.9,204.4 383.2,204.8 383.5,205.1 383.8,205.4 384.1,205.8 384.4,206.1 384.7,206.5 385,206.8 385.3,207.2 385.7,207.5 386,207.9 386.3,208.2 386.6,208.5 386.9,208.9 387.2,209.2 387.5,209.6 387.8,209.9 388.1,210.2 388.4,210.6 388.8,210.9 389.1,211.2 389.4,211.6 389.7,211.9 390,212.3 390.3,212.6 390.6,212.9 390.9,213.3 391.2,213.6 391.5,213.9 391.8,214.3 392.2,214.6 392.5,214.9 392.8,215.3 393.1,215.6 393.4,215.9 393.7,216.3 394,216.6 394.3,216.9 394.6,217.2 394.9,217.6 395.3,217.9 395.6,218.2 395.9,218.6 396.2,218.9 396.5,219.2 396.8,219.5 397.1,219.9 397.4,220.2 397.7,220.5 398,220.8 398.3,221.2 398.7,221.5 399,221.8 399.3,222.1 399.6,222.4 399.9,222.8 400.2,223.1 400.5,223.4 400.8,223.7 401.1,224 401.4,224.4 401.8,224.7 402.1,225 402.4,225.3 402.7,225.6 403,226 403.3,226.3 403.6,226.6 403.9,226.9 404.2,227.2 404.5,227.5 404.8,227.8 405.2,228.2 405.5,228.5 405.8,228.8 406.1,229.1 406.4,229.4 406.7,229.7 407,230 407.3,230.3 407.6,230.6 407.9,231 408.3,231.3 408.6,231.6 408.9,231.9 409.2,232.2 409.5,232.5 409.8,232.8 410.1,233.1 410.4,233.4 410.7,233.7 411,234 411.3,234.3 411.7,234.6 412,234.9 412.3,235.2 412.6,235.5 412.9,235.8 413.2,236.1 413.5,236.4 413.8,236.7 414.1,237 414.4,237.3 414.8,237.6 415.1,237.9 415.4,238.2 415.7,238.5 416,238.8 416.3,239.1 416.6,239.4 416.9,239.7 417.2,240 417.5,240.3 417.9,240.6 418.2,240.9 418.5,241.2 418.8,241.5 419.1,241.8 419.4,242.1 419.7,242.4 420,242.7 420.3,243 420.6,243.3 420.9,243.5 421.3,243.8 421.6,244.1 421.9,244.4 422.2,244.7 422.5,245 422.8,245.3 423.1,245.6 423.4,245.9 423.7,246.1 424,246.4 424.4,246.7 424.7,247 425,247.3 425.3,247.6 425.6,247.9 425.9,248.1 426.2,248.4 426.5,248.7 426.8,249 427.1,249.3 427.4,249.5 427.8,249.8 428.1,250.1 428.4,250.4 428.7,250.7 429,250.9 429.3,251.2 429.6,251.5 429.9,251.8 430.2,252.1 430.5,252.3 430.9,252.6 431.2,252.9 431.5,253.2 431.8,253.4 432.1,253.7 432.4,254 432.7,254.3 433,254.5 433.3,254.8 433.6,255.1 433.9,255.4 434.3,255.6 434.6,255.9 434.9,256.2 435.2,256.4 435.5,256.7 435.8,257 436.1,257.3 436.4,257.5 436.7,257.8 437,258.1 437.4,258.3 437.7,258.6 438,258.9 438.3,259.1 438.6,259.4 438.9,259.7 439.2,259.9 439.5,260.2 439.8,260.5 440.1,260.7 440.4,261 440.8,261.3 441.1,261.5 441.4,261.8 441.7,262 442,262.3 442.3,262.6 442.6,262.8 442.9,263.1 443.2,263.3 443.5,263.6 443.9,263.9 444.2,264.1 444.5,264.4 444.8,264.6 445.1,264.9 445.4,265.2 445.7,265.4 446,265.7 446.3,265.9 446.6,266.2 447,266.4 447.3,266.7 447.6,266.9 447.9,267.2 448.2,267.5 448.5,267.7 448.8,268 449.1,268.2 449.4,268.5 449.7,268.7 450,269 450.4,269.2 450.7,269.5 451,269.7 451.3,270 451.6,270.2 451.9,270.5 452.2,270.7 452.5,271 452.8,271.2 453.1,271.5 453.5,271.7 453.8,272 454.1,272.2 454.4,272.5 454.7,272.7 455,272.9 455.3,273.2 455.6,273.4 455.9,273.7 456.2,273.9 456.5,274.2 456.9,274.4 457.2,274.6 457.5,274.9 457.8,275.1 458.1,275.4 458.4,275.6 458.7,275.9 459,276.1 459.3,276.3 459.6,276.6 460,276.8 460.3,277.1 460.6,277.3 460.9,277.5 461.2,277.8 461.5,278 461.8,278.2 462.1,278.5 462.4,278.7 462.7,279 463,279.2 463.4,279.4 463.7,279.7 464,279.9 464.3,280.1 464.6,280.4 464.9,280.6 465.2,280.8 465.5,281.1 465.8,281.3 466.1,281.5 466.5,281.8 466.8,282 467.1,282.2 467.4,282.5 467.7,282.7 468,282.9 468.3,283.1 468.6,283.4 468.9,283.6 469.2,283.8 469.6,284.1 469.9,284.3 470.2,284.5 470.5,284.7 470.8,285 471.1,285.2 471.4,285.4 471.7,285.6 472,285.9 472.3,286.1 472.6,286.3 473,286.5 473.3,286.8 473.6,287 473.9,287.2 474.2,287.4 474.5,287.7 474.8,287.9 475.1,288.1 475.4,288.3 475.7,288.5 476.1,288.8 476.4,289 476.7,289.2 477,289.4 477.3,289.6 477.6,289.9 477.9,290.1 478.2,290.3 478.5,290.5 478.8,290.7 479.1,291 479.5,291.2 479.8,291.4 480.1,291.6 480.4,291.8 480.7,292 481,292.3 481.3,292.5 481.6,292.7 481.9,292.9 482.2,293.1 482.6,293.3 482.9,293.5 483.2,293.8 483.5,294 483.8,294.2 484.1,294.4 484.4,294.6 484.7,294.8 485,295 485.3,295.2 485.6,295.5 486,295.7 486.3,295.9 486.6,296.1 486.9,296.3 487.2,296.5 487.5,296.7 487.8,296.9 488.1,297.1 488.4,297.3 488.7,297.5 489.1,297.7 489.4,298 489.7,298.2 490,298.4 490.3,298.6 490.6,298.8 490.9,299 491.2,299.2 491.5,299.4 491.8,299.6 492.1,299.8 492.5,300 492.8,300.2 493.1,300.4 493.4,300.6 493.7,300.8 494,301 494.3,301.2 494.6,301.4 494.9,301.6 495.2,301.8 495.6,302 495.9,302.2 496.2,302.4 496.5,302.6 496.8,302.8 497.1,303 497.4,303.2 497.7,303.4 498,303.6 498.3,303.8 498.7,304 499,304.2 499.3,304.4 499.6,304.6 499.9,304.8 500.2,305 500.5,305.2 500.8,305.4 501.1,305.6 501.4,305.8 501.7,306 502.1,306.2 502.4,306.4 502.7,306.6 503,306.7 503.3,306.9 503.6,307.1 503.9,307.3 504.2,307.5 504.5,307.7 504.8,307.9 505.2,308.1 505.5,308.3 505.8,308.5 506.1,308.7 506.4,308.9 506.7,309 507,309.2 507.3,309.4 507.6,309.6 507.9,309.8 508.2,310 508.6,310.2 508.9,310.4 509.2,310.6 509.5,310.7 509.8,310.9 510.1,311.1 510.4,311.3 510.7,311.5 511,311.7 511.3,311.9 511.7,312 512,312.2 512.3,312.4 512.6,312.6 512.9,312.8 513.2,313 513.5,313.2 513.8,313.3 514.1,313.5 514.4,313.7 514.7,313.9 515.1,314.1 515.4,314.2 515.7,314.4 516,314.6 516.3,314.8 516.6,315 516.9,315.2 517.2,315.3 517.5,315.5 517.8,315.7 518.2,315.9 518.5,316.1 518.8,316.2 519.1,316.4 519.4,316.6 519.7,316.8 520,316.9 520.3,317.1 520.6,317.3 520.9,317.5 521.2,317.7 521.6,317.8 521.9,318 522.2,318.2 522.5,318.4 522.8,318.5 523.1,318.7 523.4,318.9 523.7,319.1 524,319.2 524.3,319.4 524.7,319.6 525,319.8 525.3,319.9 525.6,320.1 525.9,320.3 526.2,320.5 526.5,320.6 526.8,320.8 527.1,321 527.4,321.1 527.8,321.3 528.1,321.5 528.4,321.7 528.7,321.8 529,322 529.3,322.2 529.6,322.3 529.9,322.5 530.2,322.7 530.5,322.8 530.8,323 531.2,323.2 531.5,323.4 531.8,323.5 532.1,323.7 532.4,323.9 532.7,324 533,324.2 533.3,324.4 533.6,324.5 533.9,324.7 534.3,324.9 534.6,325 534.9,325.2 535.2,325.4 535.5,325.5 535.8,325.7 536.1,325.9 536.4,326 536.7,326.2 537,326.4 537.3,326.5 537.7,326.7 538,326.8 538.3,327 538.6,327.2 538.9,327.3 539.2,327.5 539.5,327.7 539.8,327.8 540.1,328 540.4,328.1 540.8,328.3 541.1,328.5 541.4,328.6 541.7,328.8 542,328.9 542.3,329.1 542.6,329.3 542.9,329.4 543.2,329.6 543.5,329.7 543.8,329.9 544.2,330.1 544.5,330.2 544.8,330.4 545.1,330.5 545.4,330.7 545.7,330.9 546,331 546.3,331.2 546.6,331.3 546.9,331.5 547.3,331.6 547.6,331.8 547.9,332 548.2,332.1 548.5,332.3 548.8,332.4 549.1,332.6 549.4,332.7 549.7,332.9 550,333 550.4,333.2 550.7,333.3 551,333.5 551.3,333.7 551.6,333.8 551.9,334 552.2,334.1 552.5,334.3 552.8,334.4 553.1,334.6 553.4,334.7 553.8,334.9 554.1,335 554.4,335.2 554.7,335.3 555,335.5 555.3,335.6 555.6,335.8 555.9,335.9 556.2,336.1 556.5,336.2 556.9,336.4 557.2,336.5 557.5,336.7 557.8,336.8 558.1,337 558.4,337.1 558.7,337.3 559,337.4 559.3,337.6 559.6,337.7 559.9,337.9 560.3,338 560.6,338.2 560.9,338.3 561.2,338.5 561.5,338.6 561.8,338.8 562.1,338.9 562.4,339 562.7,339.2 563,339.3 563.4,339.5 563.7,339.6 564,339.8 564.3,339.9 564.6,340.1 564.9,340.2 565.2,340.4 565.5,340.5 565.8,340.6 566.1,340.8 566.4,340.9 566.8,341.1 567.1,341.2 567.4,341.4 567.7,341.5 568,341.6 568.3,341.8 568.6,341.9 568.9,342.1 569.2,342.2 569.5,342.4 569.9,342.5 570.2,342.6 570.5,342.8 570.8,342.9 571.1,343.1 571.4,343.2 571.7,343.3 572,343.5 572.3,343.6 572.6,343.8 572.9,343.9 573.3,344 573.6,344.2 573.9,344.3 574.2,344.5 574.5,344.6 574.8,344.7 575.1,344.9 575.4,345 575.7,345.1 576,345.3 576.4,345.4 576.7,345.6 577,345.7 577.3,345.8 577.6,346 577.9,346.1 578.2,346.2 578.5,346.4 578.8,346.5 579.1,346.6 579.5,346.8 579.8,346.9 580.1,347 580.4,347.2 580.7,347.3 581,347.5 581.3,347.6 581.6,347.7 581.9,347.9 582.2,348 582.5,348.1 582.9,348.3 583.2,348.4 583.5,348.5 583.8,348.7 584.1,348.8 584.4,348.9 584.7,349.1 585,349.2 585.3,349.3 585.6,349.4 586,349.6 586.3,349.7 586.6,349.8 586.9,350 587.2,350.1 587.5,350.2 587.8,350.4 588.1,350.5 588.4,350.6 588.7,350.8 589,350.9 589.4,351 589.7,351.1 590,351.3 590.3,351.4 590.6,351.5 590.9,351.7 591.2,351.8 591.5,351.9 591.8,352 592.1,352.2 592.5,352.3 592.8,352.4 593.1,352.6 593.4,352.7 593.7,352.8 594,352.9 594.3,353.1 594.6,353.2 594.9,353.3 595.2,353.4 595.5,353.6 595.9,353.7 596.2,353.8 596.5,353.9 596.8,354.1 597.1,354.2 597.4,354.3 597.7,354.5 598,354.6 598.3,354.7 598.6,354.8 599,354.9 599.3,355.1 599.6,355.2 599.9,355.3 600.2,355.4 600.5,355.6 600.8,355.7 601.1,355.8 601.4,355.9 601.7,356.1 602.1,356.2 602.4,356.3 602.7,356.4 603,356.6 603.3,356.7 603.6,356.8 603.9,356.9 604.2,357 604.5,357.2 604.8,357.3 605.1,357.4 605.5,357.5 605.8,357.6 606.1,357.8 606.4,357.9 606.7,358 607,358.1 607.3,358.2 607.6,358.4 607.9,358.5 608.2,358.6 608.6,358.7 608.9,358.8 609.2,359 609.5,359.1 609.8,359.2 610.1,359.3 610.4,359.4 610.7,359.6 611,359.7 611.3,359.8 611.6,359.9 612,360 612.3,360.1 612.6,360.3 612.9,360.4 613.2,360.5 613.5,360.6 613.8,360.7 614.1,360.8 614.4,361 614.7,361.1 615.1,361.2 615.4,361.3 615.7,361.4 616,361.5 616.3,361.7 616.6,361.8 616.9,361.9 617.2,362 617.5,362.1 617.8,362.2 618.1,362.4 618.5,362.5 618.8,362.6 619.1,362.7 619.4,362.8 619.7,362.9 620,363 620.3,363.1 620.6,363.3 620.9,363.4 621.2,363.5 621.6,363.6 621.9,363.7 622.2,363.8 622.5,363.9 622.8,364.1 623.1,364.2 623.4,364.3 623.7,364.4 624,364.5 624.3,364.6 624.6,364.7 625,364.8 625.3,364.9 625.6,365.1 625.9,365.2 626.2,365.3 626.5,365.4 626.8,365.5 627.1,365.6 627.4,365.7 627.7,365.8 628.1,365.9 628.4,366.1 628.7,366.2 629,366.3 629.3,366.4 629.6,366.5 629.9,366.6 630.2,366.7 630.5,366.8 630.8,366.9 631.2,367 631.5,367.1 631.8,367.3 632.1,367.4 632.4,367.5 632.7,367.6 633,367.7 633.3,367.8 633.6,367.9 633.9,368 634.2,368.1 634.6,368.2 634.9,368.3 635.2,368.4 635.5,368.5 635.8,368.7 636.1,368.8 636.4,368.9 636.7,369 637,369.1 637.3,369.2 637.7,369.3 638,369.4 638.3,369.5 638.6,369.6 638.9,369.7 639.2,369.8 639.5,369.9 639.8,370 640.1,370.1 640.4,370.2 640.7,370.3 641.1,370.4 641.4,370.5 641.7,370.7 642,370.8 642.3,370.9 642.6,371 642.9,371.1 643.2,371.2 643.5,371.3 643.8,371.4 644.2,371.5 644.5,371.6 644.8,371.7 645.1,371.8 645.4,371.9 645.7,372 646,372.1 646.3,372.2 646.6,372.3 646.9,372.4 647.2,372.5 647.6,372.6 647.9,372.7 648.2,372.8 648.5,372.9 648.8,373 649.1,373.1 649.4,373.2 649.7,373.3 650,373.4 650.3,373.5 650.7,373.6 651,373.7 651.3,373.8 651.6,373.9 651.9,374 652.2,374.1 652.5,374.2 652.8,374.3 653.1,374.4 653.4,374.5 653.7,374.6 654.1,374.7 654.4,374.8 654.7,374.9 655,375 655.3,375.1 655.6,375.2 655.9,375.3 656.2,375.4 656.5,375.5 656.8,375.6 657.2,375.7 657.5,375.8 657.8,375.9 658.1,376 658.4,376.1 658.7,376.2 659,376.3 659.3,376.4 659.6,376.5 659.9,376.6 660.3,376.7 660.6,376.8 660.9,376.9 661.2,377 661.5,377.1 661.8,377.2 662.1,377.3 662.4,377.4 662.7,377.4 663,377.5 663.3,377.6 663.7,377.7 664,377.8 664.3,377.9 664.6,378 664.9,378.1 665.2,378.2 665.5,378.3 665.8,378.4 666.1,378.5 666.4,378.6 666.8,378.7 667.1,378.8 667.4,378.9 667.7,379 668,379.1 668.3,379.2 668.6,379.2 668.9,379.3 669.2,379.4 669.5,379.5 669.8,379.6 670.2,379.7 670.5,379.8 670.8,379.9 671.1,380 671.4,380.1 671.7,380.2 672,380.3 672.3,380.4 672.6,380.5 672.9,380.5 673.3,380.6 673.6,380.7 673.9,380.8 674.2,380.9 674.5,381 674.8,381.1 675.1,381.2 675.4,381.3 675.7,381.4 676,381.5 676.3,381.6 676.7,381.6 677,381.7 677.3,381.8 677.6,381.9 677.9,382 678.2,382.1 678.5,382.2 678.8,382.3 679.1,382.4 679.4,382.5 679.8,382.6 680.1,382.6 680.4,382.7 680.7,382.8 681,382.9 681.3,383 681.6,383.1 681.9,383.2 682.2,383.3 682.5,383.4 682.9,383.4 683.2,383.5 683.5,383.6 683.8,383.7 684.1,383.8 684.4,383.9 684.7,384 685,384.1 685.3,384.2 685.6,384.2 685.9,384.3 686.3,384.4 686.6,384.5 686.9,384.6 687.2,384.7 687.5,384.8 687.8,384.9 688.1,384.9 688.4,385 688.7,385.1 689,385.2 689.4,385.3 689.7,385.4 690,385.5 690.3,385.5 690.6,385.6 690.9,385.7 691.2,385.8 691.5,385.9 691.8,386 692.1,386.1 692.4,386.1 692.8,386.2 693.1,386.3 693.4,386.4 693.7,386.5 694,386.6 694.3,386.7 694.6,386.7 694.9,386.8 695.2,386.9 695.5,387 695.9,387.1 696.2,387.2 696.5,387.3 696.8,387.3 697.1,387.4 697.4,387.5 697.7,387.6 698,387.7 698.3,387.8 698.6,387.8 698.9,387.9 699.3,388 699.6,388.1 699.9,388.2 700.2,388.3 700.5,388.3 700.8,388.4 701.1,388.5 701.4,388.6 701.7,388.7 702,388.8 702.4,388.8 702.7,388.9 703,389 703.3,389.1 703.6,389.2 703.9,389.3 704.2,389.3 704.5,389.4 704.8,389.5 705.1,389.6 705.4,389.7 705.8,389.7 706.1,389.8 706.4,389.9 706.7,390 707,390.1 707.3,390.2 707.6,390.2 707.9,390.3 708.2,390.4 708.5,390.5 708.9,390.6 709.2,390.6 709.5,390.7 709.8,390.8 710.1,390.9 710.4,391 710.7,391 711,391.1 711.3,391.2 711.6,391.3 712,391.4 712.3,391.4 712.6,391.5 712.9,391.6 713.2,391.7 713.5,391.8 713.8,391.8 714.1,391.9 714.4,392 714.7,392.1 715,392.2 715.4,392.2 715.7,392.3 716,392.4 716.3,392.5 716.6,392.5 716.9,392.6 717.2,392.7 717.5,392.8 717.8,392.9 718.1,392.9 718.5,393 718.8,393.1 719.1,393.2 719.4,393.3 719.7,393.3 720,393.4 720.3,393.5 720.6,393.6 720.9,393.6 721.2,393.7 721.5,393.8 721.9,393.9 722.2,393.9 722.5,394 722.8,394.1 723.1,394.2 723.4,394.3 723.7,394.3 724,394.4 724.3,394.5 724.6,394.6 725,394.6 725.3,394.7 725.6,394.8 725.9,394.9 726.2,394.9 726.5,395 726.8,395.1 727.1,395.2 727.4,395.2 727.7,395.3 728,395.4 728.4,395.5 728.7,395.5 729,395.6 729.3,395.7 729.6,395.8 729.9,395.8 730.2,395.9 730.5,396 730.8,396.1 731.1,396.1 731.5,396.2 731.8,396.3 732.1,396.4 732.4,396.4 732.7,396.5 733,396.6 733.3,396.7 733.6,396.7 733.9,396.8 734.2,396.9 734.5,397 734.9,397 735.2,397.1 735.5,397.2 735.8,397.3 736.1,397.3 736.4,397.4 736.7,397.5 737,397.6 737.3,397.6 737.6,397.7 738,397.8 738.3,397.8 738.6,397.9 738.9,398 739.2,398.1 739.5,398.1 739.8,398.2 740.1,398.3 740.4,398.4 740.7,398.4 741.1,398.5 741.4,398.6 741.7,398.6 742,398.7 742.3,398.8 742.6,398.9 742.9,398.9 743.2,399 743.5,399.1 743.8,399.1 744.1,399.2 744.5,399.3 744.8,399.4 745.1,399.4 745.4,399.5 745.7,399.6 746,399.6 746.3,399.7 746.6,399.8 746.9,399.9 747.2,399.9 747.6,400 747.9,400.1 748.2,400.1 748.5,400.2 748.8,400.3 749.1,400.3 749.4,400.4 749.7,400.5 750,400.6 750.3,400.6 750.6,400.7 751,400.8 751.3,400.8 751.6,400.9 751.9,401 752.2,401 752.5,401.1 752.8,401.2 753.1,401.3 753.4,401.3 753.7,401.4 754.1,401.5 754.4,401.5 754.7,401.6 755,401.7 755.3,401.7 755.6,401.8 755.9,401.9 756.2,401.9 756.5,402 756.8,402.1 757.1,402.1 757.5,402.2 757.8,402.3 758.1,402.4 758.4,402.4 758.7,402.5 759,402.6 759.3,402.6 759.6,402.7 759.9,402.8 760.2,402.8 760.6,402.9 760.9,403 761.2,403 761.5,403.1 761.8,403.2 762.1,403.2 762.4,403.3 762.7,403.4 763,403.4 763.3,403.5 763.7,403.6 764,403.6 764.3,403.7 764.6,403.8 764.9,403.8 765.2,403.9 765.5,404 765.8,404 766.1,404.1 766.4,404.2 766.7,404.2 767.1,404.3 767.4,404.4 767.7,404.4 768,404.5 768.3,404.6 768.6,404.6 768.9,404.7 769.2,404.8 769.5,404.8 769.8,404.9 770.2,405 770.5,405 770.8,405.1 771.1,405.2 771.4,405.2 771.7,405.3 772,405.4 772.3,405.4 772.6,405.5 772.9,405.5 773.2,405.6 773.6,405.7 773.9,405.7 774.2,405.8 774.5,405.9 774.8,405.9 775.1,406 775.4,406.1 775.7,406.1 776,406.2 776.3,406.3 776.7,406.3 777,406.4 777.3,406.4 777.6,406.5 777.9,406.6 778.2,406.6 778.5,406.7 778.8,406.8 779.1,406.8 779.4,406.9 779.7,407 780.1,407 780.4,407.1 780.7,407.1 781,407.2 781.3,407.3 781.6,407.3 781.9,407.4 782.2,407.5 782.5,407.5 782.8,407.6 783.2,407.7 783.5,407.7 783.8,407.8 784.1,407.8 784.4,407.9 784.7,408 785,408 785.3,408.1 785.6,408.2 785.9,408.2 786.2,408.3 786.6,408.3 786.9,408.4 787.2,408.5 787.5,408.5 787.8,408.6 788.1,408.6 788.4,408.7 788.7,408.8 789,408.8 789.3,408.9 789.7,409 790,409 790.3,409.1 790.6,409.1 790.9,409.2 791.2,409.3 791.5,409.3 791.8,409.4 792.1,409.4 792.4,409.5 792.8,409.6 793.1,409.6 793.4,409.7 793.7,409.8 794,409.8 794.3,409.9 794.6,409.9 794.9,410 795.2,410.1 795.5,410.1 795.8,410.2 796.2,410.2 796.5,410.3 796.8,410.4 797.1,410.4 797.4,410.5 797.7,410.5 798,410.6 798.3,410.7 798.6,410.7 798.9,410.8 799.3,410.8 799.6,410.9 799.9,411 800.2,411 800.5,411.1 800.8,411.1 801.1,411.2 801.4,411.3 801.7,411.3 802,411.4 802.3,411.4 802.7,411.5 803,411.5 803.3,411.6 803.6,411.7 803.9,411.7 804.2,411.8 804.5,411.8 804.8,411.9 805.1,412 805.4,412 805.8,412.1 806.1,412.1 806.4,412.2 806.7,412.3 807,412.3 807.3,412.4 807.6,412.4 807.9,412.5 808.2,412.5 808.5,412.6 808.8,412.7 809.2,412.7 809.5,412.8 809.8,412.8 810.1,412.9 810.4,412.9 810.7,413 811,413.1 811.3,413.1 811.6,413.2 811.9,413.2 812.3,413.3 812.6,413.4 812.9,413.4 813.2,413.5 813.5,413.5 813.8,413.6 814.1,413.6 814.4,413.7 814.7,413.8 815,413.8 815.4,413.9 815.7,413.9 816,414 816.3,414 816.6,414.1 816.9,414.1 817.2,414.2 817.5,414.3 817.8,414.3 818.1,414.4 818.4,414.4 818.8,414.5 819.1,414.5 819.4,414.6 819.7,414.7 820,414.7 820.3,414.8 820.6,414.8 820.9,414.9 821.2,414.9 821.5,415 821.9,415 822.2,415.1 822.5,415.2 822.8,415.2 823.1,415.3 823.4,415.3 823.7,415.4 824,415.4 824.3,415.5 824.6,415.5 824.9,415.6 825.3,415.7 825.6,415.7 825.9,415.8 826.2,415.8 826.5,415.9 826.8,415.9 827.1,416 827.4,416 827.7,416.1 828,416.2 828.4,416.2 828.7,416.3 829,416.3 829.3,416.4 829.6,416.4 829.9,416.5 830.2,416.5 830.5,416.6 830.8,416.6 831.1,416.7 831.4,416.7 831.8,416.8"/>
<polyline class="mi3" points="188.2,215.5 188.6,213.1 189,210.8 189.4,208.5 189.8,206.2 190.1,204 190.5,201.7 190.9,199.5 191.3,197.3 191.6,195.2 192,193.1 192.4,190.9 192.8,188.9 193.2,186.8 193.5,184.8 193.9,182.7 194.3,180.7 194.7,178.8 195.1,176.8 195.4,174.9 195.8,173 196.2,171.1 196.6,169.2 197,167.4 197.3,165.6 197.7,163.8 198.1,162 198.5,160.2 198.8,158.5 199.2,156.8 199.5,155.1 199.8,153.4 200.1,151.7 200.4,150.1 200.7,148.5 201,146.9 201.4,145.3 201.7,143.7 202,142.2 202.3,140.6 202.6,139.1 202.9,137.6 203.2,136.2 203.5,134.7 203.8,133.3 204.1,131.8 204.5,130.4 204.8,129.1 205.1,127.7 205.4,126.3 205.7,125 206,123.7 206.3,122.4 206.6,121.1 206.9,119.8 207.2,118.6 207.6,117.3 207.9,116.1 208.2,114.9 208.5,113.7"/>
<use href="#gs" x="832.1" y="416.9"/>
<polyline class="mp" points="160.9,534.1 161.2,534.1 161.5,534.1 161.8,534.1 162.1,534.1 162.4,534.1 162.8,534.1 163.1,534 163.4,534 163.7,534 164,533.9 164.3,533.9 164.6,533.8 164.9,533.7 165.2,533.7 165.5,533.6 165.9,533.4 166.2,533.3 166.5,533.2 166.8,533 167.1,532.8 167.4,532.6 167.7,532.4 168,532.1 168.3,531.9 168.6,531.6 168.9,531.3 169.3,531 169.6,530.6 169.9,530.2 170.2,529.8 170.5,529.4 170.8,528.9 171.1,528.4 171.4,527.9 171.7,527.4 172,526.8 172.4,526.2 172.7,525.6 173,524.9 173.3,524.2 173.6,523.4 173.9,522.7 174.2,521.9 174.5,521 174.8,520.2 175.1,519.3 175.5,518.3 175.8,517.3 176.1,516.3 176.4,515.3 176.7,514.2 177,513.1 177.3,511.9 177.6,510.7 177.9,509.4 178.2,508.2 178.5,506.8 178.9,505.5 179.2,504.1 179.5,502.7 179.8,501.2 180.1,499.7 180.4,498.1 180.7,496.5 181,494.9 181.3,493.2 181.6,491.5 182,489.8 182.3,488 182.6,486.2 182.9,484.3 183.2,482.4 183.5,480.5 183.8,478.5 184.1,476.5 184.4,474.4 184.7,472.3 185,470.2 185.4,468 185.7,465.8 186,463.6 186.3,461.3 186.6,459 186.9,456.6 187.2,454.2 187.5,451.8 187.8,449.4 188.1,446.9 188.5,444.4 188.8,441.8 189.1,439.2 189.4,436.6 189.7,434 190,431.3 190.3,428.6 190.6,425.9 190.9,423.1 191.2,420.3 191.5,417.5 191.9,414.6 192.2,411.8 192.5,408.9 192.8,405.9 193.1,403 193.4,400 193.7,397 194,394 194.3,391 194.6,387.9 195,384.8 195.3,381.7 195.6,378.6 195.9,375.5 196.2,372.3 196.5,369.2 196.8,366 197.1,362.8 197.4,359.6 197.7,356.3 198,353.1 198.4,349.9 198.7,346.6 199,343.3 199.3,340.1 199.6,336.8 199.9,333.5 200.2,330.2 200.5,326.9 200.8,323.6 201.1,320.3 201.5,316.9 201.8,313.6 202.1,310.3 202.4,307 202.7,303.7 203,300.3 203.3,297 203.6,293.7 203.9,290.4 204.2,287.1 204.6,283.7 204.9,280.4 205.2,277.1 205.5,273.9 205.8,270.6 206.1,267.3 206.4,264 206.7,260.8 207,257.5 207.3,254.3 207.6,251.1 208,247.9 208.3,244.7 208.6,241.5 208.9,238.3 209.2,235.1 209.5,232 209.8,228.9 210.1,225.8 210.4,222.7 210.7,219.6 211.1,216.6 211.4,213.5 211.7,210.5 212,207.5 212.3,204.5 212.6,201.6 212.9,198.7 213.2,195.7 213.5,192.9 213.8,190 214.1,187.2 214.5,184.3 214.8,181.6 215.1,178.8 215.4,176 215.7,173.3 216,170.6 216.3,168 216.6,165.4 216.9,162.7 217.2,160.2 217.6,157.6 217.9,155.1 218.2,152.6 218.5,150.1 218.8,147.7 219.1,145.3 219.4,142.9 219.7,140.6 220,138.3 220.3,136 220.6,133.7 221,131.5 221.3,129.3 221.6,127.1 221.9,125 222.2,122.9 222.5,120.8 222.8,118.8 223.1,116.8 223.4,114.8 223.7,112.9 224.1,111 224.4,109.1 224.7,107.3 225,105.5 225.3,103.7 225.6,101.9 225.9,100.2 226.2,98.6 226.5,96.9 226.8,95.3 227.1,93.7 227.5,92.2 227.8,90.6 228.1,89.2 228.4,87.7 228.7,86.3 229,84.9 229.3,83.5 229.6,82.2 229.9,80.9 230.2,79.7 230.6,78.4 230.9,77.2 231.2,76.1 231.5,74.9 231.8,73.8 232.1,72.7 232.4,71.7 232.7,70.7 233,69.7 233.3,68.8 233.7,67.8 234,66.9 234.3,66.1 234.6,65.3 234.9,64.5 235.2,63.7 235.5,62.9 235.8,62.2 236.1,61.5 236.4,60.9 236.7,60.2 237.1,59.6 237.4,59.1 237.7,58.5 238,58 238.3,57.5 238.6,57 238.9,56.6 239.2,56.2 239.5,55.8 239.8,55.4 240.2,55.1 240.5,54.8 240.8,54.5 241.1,54.2 241.4,54 241.7,53.7 242,53.5 242.3,53.4 242.6,53.2 242.9,53.1 243.2,53 243.6,52.9 243.9,52.9 244.2,52.8 244.5,52.8 244.8,52.8 245.1,52.8 245.4,52.9 245.7,52.9 246,53 246.3,53.1 246.7,53.3 247,53.4 247.3,53.6 247.6,53.8 247.9,54 248.2,54.2 248.5,54.4 248.8,54.7 249.1,54.9 249.4,55.2 249.7,55.5 250.1,55.8 250.4,56.2 250.7,56.5 251,56.9 251.3,57.3 251.6,57.6 251.9,58.1 252.2,58.5 252.5,58.9 252.8,59.4 253.2,59.8 253.5,60.3 253.8,60.8 254.1,61.3 254.4,61.8 254.7,62.3 255,62.9 255.3,63.4 255.6,64 255.9,64.6 256.3,65.1 256.6,65.7 256.9,66.3 257.2,67 257.5,67.6 257.8,68.2 258.1,68.9 258.4,69.5 258.7,70.2 259,70.8 259.3,71.5 259.7,72.2 260,72.9 260.3,73.6 260.6,74.3 260.9,75 261.2,75.8 261.5,76.5 261.8,77.2 262.1,78 262.4,78.7 262.8,79.5 263.1,80.3 263.4,81 263.7,81.8 264,82.6 264.3,83.4 264.6,84.2 264.9,85 265.2,85.8 265.5,86.6 265.8,87.4 266.2,88.2 266.5,89 266.8,89.9 267.1,90.7 267.4,91.5 267.7,92.4 268,93.2 268.3,94 268.6,94.9 268.9,95.7 269.3,96.6 269.6,97.4 269.9,98.3 270.2,99.2 270.5,100 270.8,100.9 271.1,101.7 271.4,102.6 271.7,103.5 272,104.4 272.3,105.2 272.7,106.1 273,107 273.3,107.9 273.6,108.7 273.9,109.6 274.2,110.5 274.5,111.4 274.8,112.3 275.1,113.1 275.4,114 275.8,114.9 276.1,115.8 276.4,116.7 276.7,117.6 277,118.4 277.3,119.3 277.6,120.2 277.9,121.1 278.2,122 278.5,122.9 278.8,123.7 279.2,124.6 279.5,125.5 279.8,126.4 280.1,127.3 280.4,128.1 280.7,129 281,129.9 281.3,130.8 281.6,131.7 281.9,132.5 282.3,133.4 282.6,134.3 282.9,135.1 283.2,136 283.5,136.9 283.8,137.8 284.1,138.6 284.4,139.5 284.7,140.4 285,141.2 285.4,142.1 285.7,142.9 286,143.8 286.3,144.6 286.6,145.5 286.9,146.4 287.2,147.2 287.5,148.1 287.8,148.9 288.1,149.7 288.4,150.6 288.8,151.4 289.1,152.3 289.4,153.1 289.7,153.9 290,154.8 290.3,155.6 290.6,156.4 290.9,157.3 291.2,158.1 291.5,158.9 291.9,159.7 292.2,160.5 292.5,161.4 292.8,162.2 293.1,163 293.4,163.8 293.7,164.6 294,165.4 294.3,166.2 294.6,167 294.9,167.8 295.3,168.6 295.6,169.4 295.9,170.2 296.2,171 296.5,171.7 296.8,172.5 297.1,173.3 297.4,174.1 297.7,174.9 298,175.6 298.4,176.4 298.7,177.2 299,177.9 299.3,178.7 299.6,179.5 299.9,180.2 300.2,181 300.5,181.7 300.8,182.5 301.1,183.2 301.4,184 301.8,184.7 302.1,185.4 302.4,186.2 302.7,186.9 303,187.6 303.3,188.4 303.6,189.1 303.9,189.8 304.2,190.5 304.5,191.3 304.9,192 305.2,192.7 305.5,193.4 305.8,194.1 306.1,194.8 306.4,195.5 306.7,196.2 307,196.9 307.3,197.6 307.6,198.3 308,199 308.3,199.7 308.6,200.4 308.9,201.1 309.2,201.8 309.5,202.4 309.8,203.1 310.1,203.8 310.4,204.5 310.7,205.1 311,205.8 311.4,206.5 311.7,207.1 312,207.8 312.3,208.4 312.6,209.1 312.9,209.7 313.2,210.4 313.5,211 313.8,211.7 314.1,212.3 314.5,213 314.8,213.6 315.1,214.2 315.4,214.9 315.7,215.5 316,216.1 316.3,216.8 316.6,217.4 316.9,218 317.2,218.6 317.5,219.3 317.9,219.9 318.2,220.5 318.5,221.1 318.8,221.7 319.1,222.3 319.4,222.9 319.7,223.5 320,224.1 320.3,224.7 320.6,225.3 321,225.9 321.3,226.5 321.6,227.1 321.9,227.7 322.2,228.3 322.5,228.8 322.8,229.4 323.1,230 323.4,230.6 323.7,231.1 324,231.7 324.4,232.3 324.7,232.9 325,233.4 325.3,234 325.6,234.5 325.9,235.1 326.2,235.7 326.5,236.2 326.8,236.8 327.1,237.3 327.5,237.9 327.8,238.4 328.1,239 328.4,239.5 328.7,240.1 329,240.6 329.3,241.1 329.6,241.7 329.9,242.2 330.2,242.7 330.5,243.3 330.9,243.8 331.2,244.3 331.5,244.8 331.8,245.4 332.1,245.9 332.4,246.4 332.7,246.9 333,247.4 333.3,247.9 333.6,248.5 334,249 334.3,249.5 334.6,250 334.9,250.5 335.2,251 335.5,251.5 335.8,252 336.1,252.5 336.4,253 336.7,253.5 337.1,254 337.4,254.5 337.7,255 338,255.4 338.3,255.9 338.6,256.4 338.9,256.9 339.2,257.4 339.5,257.9 339.8,258.3 340.1,258.8 340.5,259.3 340.8,259.8 341.1,260.2 341.4,260.7 341.7,261.2 342,261.6 342.3,262.1 342.6,262.6 342.9,263 343.2,263.5 343.6,263.9 343.9,264.4 344.2,264.8 344.5,265.3 344.8,265.8 345.1,266.2 345.4,266.7 345.7,267.1 346,267.5 346.3,268 346.6,268.4 347,268.9 347.3,269.3 347.6,269.8 347.9,270.2 348.2,270.6 348.5,271.1 348.8,271.5 349.1,271.9 349.4,272.4 349.7,272.8 350.1,273.2 350.4,273.6 350.7,274.1 351,274.5 351.3,274.9 351.6,275.3 351.9,275.8 352.2,276.2 352.5,276.6 352.8,277 353.1,277.4 353.5,277.8 353.8,278.2 354.1,278.7 354.4,279.1 354.7,279.5 355,279.9 355.3,280.3 355.6,280.7 355.9,281.1 356.2,281.5 356.6,281.9 356.9,282.3 357.2,282.7 357.5,283.1 357.8,283.5 358.1,283.9 358.4,284.3 358.7,284.6 359,285 359.3,285.4 359.6,285.8 360,286.2 360.3,286.6 360.6,287 360.9,287.3 361.2,287.7 361.5,288.1 361.8,288.5 362.1,288.9 362.4,289.2 362.7,289.6 363.1,290 363.4,290.4 363.7,290.7 364,291.1 364.3,291.5 364.6,291.8 364.9,292.2 365.2,292.6 365.5,292.9 365.8,293.3 366.2,293.7 366.5,294 366.8,294.4 367.1,294.8 367.4,295.1 367.7,295.5 368,295.8 368.3,296.2 368.6,296.5 368.9,296.9 369.2,297.2 369.6,297.6 369.9,298 370.2,298.3 370.5,298.6 370.8,299 371.1,299.3 371.4,299.7 371.7,300 372,300.4 372.3,300.7 372.7,301.1 373,301.4 373.3,301.7 373.6,302.1 373.9,302.4 374.2,302.7 374.5,303.1 374.8,303.4 375.1,303.8 375.4,304.1 375.7,304.4 376.1,304.7 376.4,305.1 376.7,305.4 377,305.7 377.3,306.1 377.6,306.4 377.9,306.7 378.2,307 378.5,307.4 378.8,307.7 379.2,308 379.5,308.3 379.8,308.6 380.1,309 380.4,309.3 380.7,309.6 381,309.9 381.3,310.2 381.6,310.5 381.9,310.8 382.2,311.2 382.6,311.5 382.9,311.8 383.2,312.1 383.5,312.4 383.8,312.7 384.1,313 384.4,313.3 384.7,313.6 385,313.9 385.3,314.2 385.7,314.5 386,314.8 386.3,315.1 386.6,315.4 386.9,315.7 387.2,316 387.5,316.3 387.8,316.6 388.1,316.9 388.4,317.2 388.8,317.5 389.1,317.8 389.4,318.1 389.7,318.4 390,318.7 390.3,319 390.6,319.3 390.9,319.6 391.2,319.9 391.5,320.1 391.8,320.4 392.2,320.7 392.5,321 392.8,321.3 393.1,321.6 393.4,321.8 393.7,322.1 394,322.4 394.3,322.7 394.6,323 394.9,323.3 395.3,323.5 395.6,323.8 395.9,324.1 396.2,324.4 396.5,324.6 396.8,324.9 397.1,325.2 397.4,325.5 397.7,325.7 398,326 398.3,326.3 398.7,326.5 399,326.8 399.3,327.1 399.6,327.4 399.9,327.6 400.2,327.9 400.5,328.2 400.8,328.4 401.1,328.7 401.4,329 401.8,329.2 402.1,329.5 402.4,329.7 402.7,330 403,330.3 403.3,330.5 403.6,330.8 403.9,331 404.2,331.3 404.5,331.6 404.8,331.8 405.2,332.1 405.5,332.3 405.8,332.6 406.1,332.8 406.4,333.1 406.7,333.3 407,333.6 407.3,333.8 407.6,334.1 407.9,334.3 408.3,334.6 408.6,334.8 408.9,335.1 409.2,335.3 409.5,335.6 409.8,335.8 410.1,336.1 410.4,336.3 410.7,336.6 411,336.8 411.3,337.1 411.7,337.3 412,337.6 412.3,337.8 412.6,338 412.9,338.3 413.2,338.5 413.5,338.8 413.8,339 414.1,339.2 414.4,339.5 414.8,339.7 415.1,339.9 415.4,340.2 415.7,340.4 416,340.7 416.3,340.9 416.6,341.1 416.9,341.4 417.2,341.6 417.5,341.8 417.9,342.1 418.2,342.3 418.5,342.5 418.8,342.7 419.1,343 419.4,343.2 419.7,343.4 420,343.7 420.3,343.9 420.6,344.1 420.9,344.3 421.3,344.6 421.6,344.8 421.9,345 422.2,345.2 422.5,345.5 422.8,345.7 423.1,345.9 423.4,346.1 423.7,346.3 424,346.6 424.4,346.8 424.7,347 425,347.2 425.3,347.4 425.6,347.7 425.9,347.9 426.2,348.1 426.5,348.3 426.8,348.5 427.1,348.7 427.4,349 427.8,349.2 428.1,349.4 428.4,349.6 428.7,349.8 429,350 429.3,350.2 429.6,350.5 429.9,350.7 430.2,350.9 430.5,351.1 430.9,351.3 431.2,351.5 431.5,351.7 431.8,351.9 432.1,352.1 432.4,352.3 432.7,352.5 433,352.8 433.3,353 433.6,353.2 433.9,353.4 434.3,353.6 434.6,353.8 434.9,354 435.2,354.2 435.5,354.4 435.8,354.6 436.1,354.8 436.4,355 436.7,355.2 437,355.4 437.4,355.6 437.7,355.8 438,356 438.3,356.2 438.6,356.4 438.9,356.6 439.2,356.8 439.5,357 439.8,357.2 440.1,357.4 440.4,357.6 440.8,357.8 441.1,358 441.4,358.2 441.7,358.4 442,358.5 442.3,358.7 442.6,358.9 442.9,359.1 443.2,359.3 443.5,359.5 443.9,359.7 444.2,359.9 444.5,360.1 444.8,360.3 445.1,360.5 445.4,360.6 445.7,360.8 446,361 446.3,361.2 446.6,361.4 447,361.6 447.3,361.8 447.6,362 447.9,362.1 448.2,362.3 448.5,362.5 448.8,362.7 449.1,362.9 449.4,363.1 449.7,363.3 450,363.4 450.4,363.6 450.7,363.8 451,364 451.3,364.2 451.6,364.3 451.9,364.5 452.2,364.7 452.5,364.9 452.8,365.1 453.1,365.2 453.5,365.4 453.8,365.6 454.1,365.8 454.4,366 454.7,366.1 455,366.3 455.3,366.5 455.6,366.7 455.9,366.8 456.2,367 456.5,367.2 456.9,367.4 457.2,367.5 457.5,367.7 457.8,367.9 458.1,368.1 458.4,368.2 458.7,368.4 459,368.6 459.3,368.7 459.6,368.9 460,369.1 460.3,369.3 460.6,369.4 460.9,369.6 461.2,369.8 461.5,369.9 461.8,370.1 462.1,370.3 462.4,370.4 462.7,370.6 463,370.8 463.4,370.9 463.7,371.1 464,371.3 464.3,371.4 464.6,371.6 464.9,371.8 465.2,371.9 465.5,372.1 465.8,372.3 466.1,372.4 466.5,372.6 466.8,372.8 467.1,372.9 467.4,373.1 467.7,373.3 468,373.4 468.3,373.6 468.6,373.7 468.9,373.9 469.2,374.1 469.6,374.2 469.9,374.4 470.2,374.5 470.5,374.7 470.8,374.9 471.1,375 471.4,375.2 471.7,375.3 472,375.5 472.3,375.6 472.6,375.8 473,376 473.3,376.1 473.6,376.3 473.9,376.4 474.2,376.6 474.5,376.7 474.8,376.9 475.1,377.1 475.4,377.2 475.7,377.4 476.1,377.5 476.4,377.7 476.7,377.8 477,378 477.3,378.1 477.6,378.3 477.9,378.4 478.2,378.6 478.5,378.7 478.8,378.9 479.1,379 479.5,379.2 479.8,379.3 480.1,379.5 480.4,379.6 480.7,379.8 481,379.9 481.3,380.1 481.6,380.2 481.9,380.4 482.2,380.5 482.6,380.7 482.9,380.8 483.2,381 483.5,381.1 483.8,381.3 484.1,381.4 484.4,381.6 484.7,381.7 485,381.9 485.3,382 485.6,382.1 486,382.3 486.3,382.4 486.6,382.6 486.9,382.7 487.2,382.9 487.5,383 487.8,383.2 488.1,383.3 488.4,383.4 488.7,383.6 489.1,383.7 489.4,383.9 489.7,384 490,384.1 490.3,384.3 490.6,384.4 490.9,384.6 491.2,384.7 491.5,384.8 491.8,385 492.1,385.1 492.5,385.3 492.8,385.4 493.1,385.5 493.4,385.7 493.7,385.8 494,386 494.3,386.1 494.6,386.2 494.9,386.4 495.2,386.5 495.6,386.6 495.9,386.8 496.2,386.9 496.5,387.1 496.8,387.2 497.1,387.3 497.4,387.5 497.7,387.6 498,387.7 498.3,387.9 498.7,388 499,388.1 499.3,388.3 499.6,388.4 499.9,388.5 500.2,388.7 500.5,388.8 500.8,388.9 501.1,389.1 501.4,389.2 501.7,389.3 502.1,389.5 502.4,389.6 502.7,389.7 503,389.8 503.3,390 503.6,390.1 503.9,390.2 504.2,390.4 504.5,390.5 504.8,390.6 505.2,390.8 505.5,390.9 505.8,391 506.1,391.1 506.4,391.3 506.7,391.4 507,391.5 507.3,391.7 507.6,391.8 507.9,391.9 508.2,392 508.6,392.2 508.9,392.3 509.2,392.4 509.5,392.5 509.8,392.7 510.1,392.8 510.4,392.9 510.7,393 511,393.2 511.3,393.3 511.7,393.4 512,393.5 512.3,393.7 512.6,393.8 512.9,393.9 513.2,394 513.5,394.2 513.8,394.3 514.1,394.4 514.4,394.5 514.7,394.6 515.1,394.8 515.4,394.9 515.7,395 516,395.1 516.3,395.2 516.6,395.4 516.9,395.5 517.2,395.6 517.5,395.7 517.8,395.9 518.2,396 518.5,396.1 518.8,396.2 519.1,396.3 519.4,396.4 519.7,396.6 520,396.7 520.3,396.8 520.6,396.9 520.9,397 521.2,397.2 521.6,397.3 521.9,397.4 522.2,397.5 522.5,397.6 522.8,397.7 523.1,397.9 523.4,398 523.7,398.1 524,398.2 524.3,398.3 524.7,398.4 525,398.6 525.3,398.7 525.6,398.8 525.9,398.9 526.2,399 526.5,399.1 526.8,399.2 527.1,399.4 527.4,399.5 527.8,399.6 528.1,399.7 528.4,399.8 528.7,399.9 529,400 529.3,400.1 529.6,400.3 529.9,400.4 530.2,400.5 530.5,400.6 530.8,400.7 531.2,400.8 531.5,400.9 531.8,401 532.1,401.2 532.4,401.3 532.7,401.4 533,401.5 533.3,401.6 533.6,401.7 533.9,401.8 534.3,401.9 534.6,402 534.9,402.1 535.2,402.3 535.5,402.4 535.8,402.5 536.1,402.6 536.4,402.7 536.7,402.8 537,402.9 537.3,403 537.7,403.1 538,403.2 538.3,403.3 538.6,403.4 538.9,403.6 539.2,403.7 539.5,403.8 539.8,403.9 540.1,404 540.4,404.1 540.8,404.2 541.1,404.3 541.4,404.4 541.7,404.5 542,404.6 542.3,404.7 542.6,404.8 542.9,404.9 543.2,405 543.5,405.1 543.8,405.2 544.2,405.3 544.5,405.4 544.8,405.6 545.1,405.7 545.4,405.8 545.7,405.9 546,406 546.3,406.1 546.6,406.2 546.9,406.3 547.3,406.4 547.6,406.5 547.9,406.6 548.2,406.7 548.5,406.8 548.8,406.9 549.1,407 549.4,407.1 549.7,407.2 550,407.3 550.4,407.4 550.7,407.5 551,407.6 551.3,407.7 551.6,407.8 551.9,407.9 552.2,408 552.5,408.1 552.8,408.2 553.1,408.3 553.4,408.4 553.8,408.5 554.1,408.6 554.4,408.7 554.7,408.8 555,408.9 555.3,409 555.6,409.1 555.9,409.2 556.2,409.3 556.5,409.4 556.9,409.5 557.2,409.6 557.5,409.7 557.8,409.8 558.1,409.9 558.4,410 558.7,410.1 559,410.1 559.3,410.2 559.6,410.3 559.9,410.4 560.3,410.5 560.6,410.6 560.9,410.7 561.2,410.8 561.5,410.9 561.8,411 562.1,411.1 562.4,411.2 562.7,411.3 563,411.4 563.4,411.5 563.7,411.6 564,411.7 564.3,411.8 564.6,411.9 564.9,412 565.2,412 565.5,412.1 565.8,412.2 566.1,412.3 566.4,412.4 566.8,412.5 567.1,412.6 567.4,412.7 567.7,412.8 568,412.9 568.3,413 568.6,413.1 568.9,413.2 569.2,413.2 569.5,413.3 569.9,413.4 570.2,413.5 570.5,413.6 570.8,413.7 571.1,413.8 571.4,413.9 571.7,414 572,414.1 572.3,414.2 572.6,414.2 572.9,414.3 573.3,414.4 573.6,414.5 573.9,414.6 574.2,414.7 574.5,414.8 574.8,414.9 575.1,415 575.4,415.1 575.7,415.1 576,415.2 576.4,415.3 576.7,415.4 577,415.5 577.3,415.6 577.6,415.7 577.9,415.8 578.2,415.8 578.5,415.9 578.8,416 579.1,416.1 579.5,416.2 579.8,416.3 580.1,416.4 580.4,416.5 580.7,416.5 581,416.6 581.3,416.7 581.6,416.8 581.9,416.9 582.2,417 582.5,417.1 582.9,417.2 583.2,417.2 583.5,417.3 583.8,417.4 584.1,417.5 584.4,417.6 584.7,417.7 585,417.7 585.3,417.8 585.6,417.9 586,418 586.3,418.1 586.6,418.2 586.9,418.3 587.2,418.3 587.5,418.4 587.8,418.5 588.1,418.6 588.4,418.7 588.7,418.8 589,418.8 589.4,418.9 589.7,419 590,419.1 590.3,419.2 590.6,419.3 590.9,419.3 591.2,419.4 591.5,419.5 591.8,419.6 592.1,419.7 592.5,419.8 592.8,419.8 593.1,419.9 593.4,420 593.7,420.1 594,420.2 594.3,420.2 594.6,420.3 594.9,420.4 595.2,420.5 595.5,420.6 595.9,420.6 596.2,420.7 596.5,420.8 596.8,420.9 597.1,421 597.4,421 597.7,421.1 598,421.2 598.3,421.3 598.6,421.4 599,421.4 599.3,421.5 599.6,421.6 599.9,421.7 600.2,421.8 600.5,421.8 600.8,421.9 601.1,422 601.4,422.1 601.7,422.2 602.1,422.2 602.4,422.3 602.7,422.4 603,422.5 603.3,422.6 603.6,422.6 603.9,422.7 604.2,422.8 604.5,422.9 604.8,422.9 605.1,423 605.5,423.1 605.8,423.2 606.1,423.3 606.4,423.3 606.7,423.4 607,423.5 607.3,423.6 607.6,423.6 607.9,423.7 608.2,423.8 608.6,423.9 608.9,423.9 609.2,424 609.5,424.1 609.8,424.2 610.1,424.2 610.4,424.3 610.7,424.4 611,424.5 611.3,424.5 611.6,424.6 612,424.7 612.3,424.8 612.6,424.8 612.9,424.9 613.2,425 613.5,425.1 613.8,425.1 614.1,425.2 614.4,425.3 614.7,425.4 615.1,425.4 615.4,425.5 615.7,425.6 616,425.7 616.3,425.7 616.6,425.8 616.9,425.9 617.2,426 617.5,426 617.8,426.1 618.1,426.2 618.5,426.3 618.8,426.3 619.1,426.4 619.4,426.5 619.7,426.5 620,426.6 620.3,426.7 620.6,426.8 620.9,426.8 621.2,426.9 621.6,427 621.9,427 622.2,427.1 622.5,427.2 622.8,427.3 623.1,427.3 623.4,427.4 623.7,427.5 624,427.5 624.3,427.6 624.6,427.7 625,427.8 625.3,427.8 625.6,427.9 625.9,428 626.2,428 626.5,428.1 626.8,428.2 627.1,428.3 627.4,428.3 627.7,428.4 628.1,428.5 628.4,428.5 628.7,428.6 629,428.7 629.3,428.7 629.6,428.8 629.9,428.9 630.2,429 630.5,429 630.8,429.1 631.2,429.2 631.5,429.2 631.8,429.3 632.1,429.4 632.4,429.4 632.7,429.5 633,429.6 633.3,429.6 633.6,429.7 633.9,429.8 634.2,429.8 634.6,429.9 634.9,430 635.2,430.1 635.5,430.1 635.8,430.2 636.1,430.3 636.4,430.3 636.7,430.4 637,430.5 637.3,430.5 637.7,430.6 638,430.7 638.3,430.7 638.6,430.8 638.9,430.9 639.2,430.9 639.5,431 639.8,431.1 640.1,431.1 640.4,431.2 640.7,431.3 641.1,431.3 641.4,431.4 641.7,431.5 642,431.5 642.3,431.6 642.6,431.7 642.9,431.7 643.2,431.8 643.5,431.9 643.8,431.9 644.2,432 644.5,432.1 644.8,432.1 645.1,432.2 645.4,432.2 645.7,432.3 646,432.4 646.3,432.4 646.6,432.5 646.9,432.6 647.2,432.6 647.6,432.7 647.9,432.8 648.2,432.8 648.5,432.9 648.8,433 649.1,433 649.4,433.1 649.7,433.1 650,433.2 650.3,433.3 650.7,433.3 651,433.4 651.3,433.5 651.6,433.5 651.9,433.6 652.2,433.7 652.5,433.7 652.8,433.8 653.1,433.8 653.4,433.9 653.7,434 654.1,434 654.4,434.1 654.7,434.2 655,434.2 655.3,434.3 655.6,434.3 655.9,434.4 656.2,434.5 656.5,434.5 656.8,434.6 657.2,434.7 657.5,434.7 657.8,434.8 658.1,434.8 658.4,434.9 658.7,435 659,435 659.3,435.1 659.6,435.2 659.9,435.2 660.3,435.3 660.6,435.3 660.9,435.4 661.2,435.5 661.5,435.5 661.8,435.6 662.1,435.6 662.4,435.7 662.7,435.8 663,435.8 663.3,435.9 663.7,435.9 664,436 664.3,436.1 664.6,436.1 664.9,436.2 665.2,436.2 665.5,436.3 665.8,436.4 666.1,436.4 666.4,436.5 666.8,436.5 667.1,436.6 667.4,436.7 667.7,436.7 668,436.8 668.3,436.8 668.6,436.9 668.9,437 669.2,437 669.5,437.1 669.8,437.1 670.2,437.2 670.5,437.3 670.8,437.3 671.1,437.4 671.4,437.4 671.7,437.5 672,437.6 672.3,437.6 672.6,437.7 672.9,437.7 673.3,437.8 673.6,437.8 673.9,437.9 674.2,438 674.5,438 674.8,438.1 675.1,438.1 675.4,438.2 675.7,438.2 676,438.3 676.3,438.4 676.7,438.4 677,438.5 677.3,438.5 677.6,438.6 677.9,438.7 678.2,438.7 678.5,438.8 678.8,438.8 679.1,438.9 679.4,438.9 679.8,439 680.1,439 680.4,439.1 680.7,439.2 681,439.2 681.3,439.3 681.6,439.3 681.9,439.4 682.2,439.4 682.5,439.5 682.9,439.6 683.2,439.6 683.5,439.7 683.8,439.7 684.1,439.8 684.4,439.8 684.7,439.9 685,439.9 685.3,440 685.6,440.1 685.9,440.1 686.3,440.2 686.6,440.2 686.9,440.3 687.2,440.3 687.5,440.4 687.8,440.4 688.1,440.5 688.4,440.6 688.7,440.6 689,440.7 689.4,440.7 689.7,440.8 690,440.8 690.3,440.9 690.6,440.9 690.9,441 691.2,441 691.5,441.1 691.8,441.2 692.1,441.2 692.4,441.3 692.8,441.3 693.1,441.4 693.4,441.4 693.7,441.5 694,441.5 694.3,441.6 694.6,441.6 694.9,441.7 695.2,441.7 695.5,441.8 695.9,441.9 696.2,441.9 696.5,442 696.8,442 697.1,442.1 697.4,442.1 697.7,442.2 698,442.2 698.3,442.3 698.6,442.3 698.9,442.4 699.3,442.4 699.6,442.5 699.9,442.5 700.2,442.6 700.5,442.6 700.8,442.7 701.1,442.8 701.4,442.8 701.7,442.9 702,442.9 702.4,443 702.7,443 703,443.1 703.3,443.1 703.6,443.2 703.9,443.2 704.2,443.3 704.5,443.3 704.8,443.4 705.1,443.4 705.4,443.5 705.8,443.5 706.1,443.6 706.4,443.6 706.7,443.7 707,443.7 707.3,443.8 707.6,443.8 707.9,443.9 708.2,443.9 708.5,444 708.9,444 709.2,444.1 709.5,444.1 709.8,444.2 710.1,444.2 710.4,444.3 710.7,444.3 711,444.4 711.3,444.4 711.6,444.5 712,444.5 712.3,444.6 712.6,444.6 712.9,444.7 713.2,444.7 713.5,444.8 713.8,444.8 714.1,444.9 714.4,444.9 714.7,445 715,445 715.4,445.1 715.7,445.1 716,445.2 716.3,445.2 716.6,445.3 716.9,445.3 717.2,445.4 717.5,445.4 717.8,445.5 718.1,445.5 718.5,445.6 718.8,445.6 719.1,445.7 719.4,445.7 719.7,445.8 720,445.8 720.3,445.9 720.6,445.9 720.9,446 721.2,446 721.5,446.1 721.9,446.1 722.2,446.2 722.5,446.2 722.8,446.3 723.1,446.3 723.4,446.4 723.7,446.4 724,446.5 724.3,446.5 724.6,446.6 725,446.6 725.3,446.7 725.6,446.7 725.9,446.8 726.2,446.8 726.5,446.9 726.8,446.9 727.1,446.9 727.4,447 727.7,447 728,447.1 728.4,447.1 728.7,447.2 729,447.2 729.3,447.3 729.6,447.3 729.9,447.4 730.2,447.4 730.5,447.5 730.8,447.5 731.1,447.6 731.5,447.6 731.8,447.7 732.1,447.7 732.4,447.8 732.7,447.8 733,447.8 733.3,447.9 733.6,447.9 733.9,448 734.2,448 734.5,448.1 734.9,448.1 735.2,448.2 735.5,448.2 735.8,448.3 736.1,448.3 736.4,448.4 736.7,448.4 737,448.4 737.3,448.5 737.6,448.5 738,448.6 738.3,448.6 738.6,448.7 738.9,448.7 739.2,448.8 739.5,448.8 739.8,448.9 740.1,448.9 740.4,448.9 740.7,449 741.1,449 741.4,449.1 741.7,449.1 742,449.2 742.3,449.2 742.6,449.3 742.9,449.3 743.2,449.4 743.5,449.4 743.8,449.4 744.1,449.5 744.5,449.5 744.8,449.6 745.1,449.6 745.4,449.7 745.7,449.7 746,449.8 746.3,449.8 746.6,449.8 746.9,449.9 747.2,449.9 747.6,450 747.9,450 748.2,450.1 748.5,450.1 748.8,450.2 749.1,450.2 749.4,450.2 749.7,450.3 750,450.3 750.3,450.4 750.6,450.4 751,450.5 751.3,450.5 751.6,450.6 751.9,450.6 752.2,450.6 752.5,450.7 752.8,450.7 753.1,450.8 753.4,450.8 753.7,450.9 754.1,450.9 754.4,450.9 754.7,451 755,451 755.3,451.1 755.6,451.1 755.9,451.2 756.2,451.2 756.5,451.3 756.8,451.3 757.1,451.3 757.5,451.4 757.8,451.4 758.1,451.5 758.4,451.5 758.7,451.6 759,451.6 759.3,451.6 759.6,451.7 759.9,451.7 760.2,451.8 760.6,451.8 760.9,451.8 761.2,451.9 761.5,451.9 761.8,452 762.1,452 762.4,452.1 762.7,452.1 763,452.1 763.3,452.2 763.7,452.2 764,452.3 764.3,452.3 764.6,452.4 764.9,452.4 765.2,452.4 765.5,452.5 765.8,452.5 766.1,452.6 766.4,452.6 766.7,452.6 767.1,452.7 767.4,452.7 767.7,452.8 768,452.8 768.3,452.9 768.6,452.9 768.9,452.9 769.2,453 769.5,453 769.8,453.1 770.2,453.1 770.5,453.1 770.8,453.2 771.1,453.2 771.4,453.3 771.7,453.3 772,453.3 772.3,453.4 772.6,453.4 772.9,453.5 773.2,453.5 773.6,453.6 773.9,453.6 774.2,453.6 774.5,453.7 774.8,453.7 775.1,453.8 775.4,453.8 775.7,453.8 776,453.9 776.3,453.9 776.7,454 777,454 777.3,454 777.6,454.1 777.9,454.1 778.2,454.2 778.5,454.2 778.8,454.2 779.1,454.3 779.4,454.3 779.7,454.4 780.1,454.4 780.4,454.4 780.7,454.5 781,454.5 781.3,454.6 781.6,454.6 781.9,454.6 782.2,454.7 782.5,454.7 782.8,454.8 783.2,454.8 783.5,454.8 783.8,454.9 784.1,454.9 784.4,455 784.7,455 785,455 785.3,455.1 785.6,455.1 785.9,455.1 786.2,455.2 786.6,455.2 786.9,455.3 787.2,455.3 787.5,455.3 787.8,455.4 788.1,455.4 788.4,455.5 788.7,455.5 789,455.5 789.3,455.6 789.7,455.6 790,455.7 790.3,455.7 790.6,455.7 790.9,455.8 791.2,455.8 791.5,455.8 791.8,455.9 792.1,455.9 792.4,456 792.8,456 793.1,456 793.4,456.1 793.7,456.1 794,456.2 794.3,456.2 794.6,456.2 794.9,456.3 795.2,456.3 795.5,456.3 795.8,456.4 796.2,456.4 796.5,456.5 796.8,456.5 797.1,456.5 797.4,456.6 797.7,456.6 798,456.6 798.3,456.7 798.6,456.7 798.9,456.8 799.3,456.8 799.6,456.8 799.9,456.9 800.2,456.9 800.5,456.9 800.8,457 801.1,457 801.4,457.1 801.7,457.1 802,457.1 802.3,457.2 802.7,457.2 803,457.2 803.3,457.3 803.6,457.3 803.9,457.4 804.2,457.4 804.5,457.4 804.8,457.5 805.1,457.5 805.4,457.5 805.8,457.6 806.1,457.6 806.4,457.6 806.7,457.7 807,457.7 807.3,457.8 807.6,457.8 807.9,457.8 808.2,457.9 808.5,457.9 808.8,457.9 809.2,458 809.5,458 809.8,458 810.1,458.1 810.4,458.1 810.7,458.2 811,458.2 811.3,458.2 811.6,458.3 811.9,458.3 812.3,458.3 812.6,458.4 812.9,458.4 813.2,458.4 813.5,458.5 813.8,458.5 814.1,458.6 814.4,458.6 814.7,458.6 815,458.7 815.4,458.7 815.7,458.7 816,458.8 816.3,458.8 816.6,458.8 816.9,458.9 817.2,458.9 817.5,458.9 817.8,459 818.1,459 818.4,459.1 818.8,459.1 819.1,459.1 819.4,459.2 819.7,459.2 820,459.2 820.3,459.3 820.6,459.3 820.9,459.3 821.2,459.4 821.5,459.4 821.9,459.4 822.2,459.5 822.5,459.5 822.8,459.5 823.1,459.6 823.4,459.6 823.7,459.6 824,459.7 824.3,459.7 824.6,459.8 824.9,459.8 825.3,459.8 825.6,459.9 825.9,459.9 826.2,459.9 826.5,460 826.8,460 827.1,460 827.4,460.1 827.7,460.1 828,460.1 828.4,460.2 828.7,460.2 829,460.2 829.3,460.3 829.6,460.3 829.9,460.3 830.2,460.4 830.5,460.4 830.8,460.4 831.1,460.5 831.4,460.5 831.8,460.5 832.1,460.6"/>
<polyline class="mp2" points="160.9,534.1 161.2,534.1 161.5,534.1 161.8,534.1 162.1,534.1 162.4,534.1 162.8,534.1 163.1,534 163.4,534 163.7,534 164,533.9 164.3,533.9 164.6,533.8 164.9,533.7 165.2,533.7 165.5,533.6 165.9,533.4 166.2,533.3 166.5,533.2 166.8,533 167.1,532.8 167.4,532.6 167.7,532.4 168,532.1 168.3,531.9 168.6,531.6 168.9,531.3 169.3,531 169.6,530.6 169.9,530.2 170.2,529.8 170.5,529.4 170.8,528.9 171.1,528.4 171.4,527.9 171.7,527.4 172,526.8 172.4,526.2 172.7,525.6 173,524.9 173.3,524.2 173.6,523.4 173.9,522.7 174.2,521.9 174.5,521 174.8,520.2 175.1,519.3 175.5,518.3 175.8,517.3 176.1,516.3 176.4,515.3 176.7,514.2"/>
<polyline class="mp2" points="231.2,76.1 231.5,74.9 231.8,73.8 232.1,72.7 232.4,71.7 232.7,70.7 233,69.7 233.3,68.8 233.7,67.8 234,66.9 234.3,66.1 234.6,65.3 234.9,64.5 235.2,63.7 235.5,62.9 235.8,62.2 236.1,61.5 236.4,60.9 236.7,60.2 237.1,59.6 237.4,59.1 237.7,58.5 238,58 238.3,57.5 238.6,57 238.9,56.6 239.2,56.2 239.5,55.8 239.8,55.4 240.2,55.1 240.5,54.8 240.8,54.5 241.1,54.2 241.4,54 241.7,53.7 242,53.5 242.3,53.4 242.6,53.2 242.9,53.1 243.2,53 243.6,52.9 243.9,52.9 244.2,52.8 244.5,52.8 244.8,52.8 245.1,52.8 245.4,52.9 245.7,52.9 246,53 246.3,53.1 246.7,53.3 247,53.4 247.3,53.6 247.6,53.8 247.9,54 248.2,54.2 248.5,54.4 248.8,54.7 249.1,54.9 249.4,55.2 249.7,55.5 250.1,55.8 250.4,56.2 250.7,56.5 251,56.9 251.3,57.3 251.6,57.6 251.9,58.1 252.2,58.5 252.5,58.9 252.8,59.4 253.2,59.8 253.5,60.3 253.8,60.8 254.1,61.3 254.4,61.8 254.7,62.3 255,62.9 255.3,63.4 255.6,64 255.9,64.6 256.3,65.1 256.6,65.7 256.9,66.3 257.2,67 257.5,67.6 257.8,68.2 258.1,68.9 258.4,69.5 258.7,70.2 259,70.8 259.3,71.5 259.7,72.2 260,72.9 260.3,73.6 260.6,74.3 260.9,75 261.2,75.8 261.5,76.5 261.8,77.2 262.1,78 262.4,78.7 262.8,79.5 263.1,80.3 263.4,81 263.7,81.8 264,82.6 264.3,83.4 264.6,84.2 264.9,85 265.2,85.8 265.5,86.6 265.8,87.4 266.2,88.2 266.5,89 266.8,89.9 267.1,90.7 267.4,91.5 267.7,92.4 268,93.2 268.3,94 268.6,94.9 268.9,95.7 269.3,96.6 269.6,97.4 269.9,98.3 270.2,99.2 270.5,100 270.8,100.9 271.1,101.7 271.4,102.6 271.7,103.5 272,104.4 272.3,105.2 272.7,106.1 273,107 273.3,107.9 273.6,108.7 273.9,109.6 274.2,110.5 274.5,111.4 274.8,112.3 275.1,113.1 275.4,114 275.8,114.9 276.1,115.8 276.4,116.7 276.7,117.6 277,118.4 277.3,119.3 277.6,120.2 277.9,121.1 278.2,122 278.5,122.9 278.8,123.7 279.2,124.6 279.5,125.5 279.8,126.4 280.1,127.3 280.4,128.1 280.7,129 281,129.9 281.3,130.8 281.6,131.7 281.9,132.5 282.3,133.4 282.6,134.3 282.9,135.1 283.2,136 283.5,136.9 283.8,137.8 284.1,138.6 284.4,139.5 284.7,140.4 285,141.2 285.4,142.1 285.7,142.9 286,143.8 286.3,144.6 286.6,145.5 286.9,146.4 287.2,147.2 287.5,148.1 287.8,148.9 288.1,149.7 288.4,150.6 288.8,151.4 289.1,152.3 289.4,153.1 289.7,153.9 290,154.8 290.3,155.6 290.6,156.4 290.9,157.3 291.2,158.1 291.5,158.9 291.9,159.7 292.2,160.5 292.5,161.4 292.8,162.2 293.1,163 293.4,163.8 293.7,164.6 294,165.4 294.3,166.2 294.6,167 294.9,167.8 295.3,168.6 295.6,169.4 295.9,170.2 296.2,171 296.5,171.7 296.8,172.5 297.1,173.3 297.4,174.1 297.7,174.9 298,175.6 298.4,176.4 298.7,177.2 299,177.9 299.3,178.7 299.6,179.5 299.9,180.2 300.2,181 300.5,181.7 300.8,182.5 301.1,183.2 301.4,184 301.8,184.7 302.1,185.4 302.4,186.2 302.7,186.9 303,187.6 303.3,188.4 303.6,189.1 303.9,189.8 304.2,190.5 304.5,191.3 304.9,192 305.2,192.7 305.5,193.4 305.8,194.1 306.1,194.8 306.4,195.5 306.7,196.2 307,196.9 307.3,197.6 307.6,198.3 308,199 308.3,199.7 308.6,200.4 308.9,201.1 309.2,201.8 309.5,202.4 309.8,203.1 310.1,203.8 310.4,204.5 310.7,205.1 311,205.8 311.4,206.5 311.7,207.1 312,207.8 312.3,208.4 312.6,209.1 312.9,209.7 313.2,210.4 313.5,211 313.8,211.7 314.1,212.3 314.5,213 314.8,213.6 315.1,214.2 315.4,214.9 315.7,215.5 316,216.1 316.3,216.8 316.6,217.4 316.9,218 317.2,218.6 317.5,219.3 317.9,219.9 318.2,220.5 318.5,221.1 318.8,221.7 319.1,222.3 319.4,222.9 319.7,223.5 320,224.1 320.3,224.7 320.6,225.3 321,225.9 321.3,226.5 321.6,227.1 321.9,227.7 322.2,228.3 322.5,228.8 322.8,229.4 323.1,230 323.4,230.6 323.7,231.1 324,231.7 324.4,232.3 324.7,232.9 325,233.4 325.3,234 325.6,234.5 325.9,235.1 326.2,235.7 326.5,236.2 326.8,236.8 327.1,237.3 327.5,237.9 327.8,238.4 328.1,239 328.4,239.5 328.7,240.1 329,240.6 329.3,241.1 329.6,241.7 329.9,242.2 330.2,242.7 330.5,243.3 330.9,243.8 331.2,244.3 331.5,244.8 331.8,245.4 332.1,245.9 332.4,246.4 332.7,246.9 333,247.4 333.3,247.9 333.6,248.5 334,249 334.3,249.5 334.6,250 334.9,250.5 335.2,251 335.5,251.5 335.8,252 336.1,252.5 336.4,253 336.7,253.5 337.1,254 337.4,254.5 337.7,255 338,255.4 338.3,255.9 338.6,256.4 338.9,256.9 339.2,257.4 339.5,257.9 339.8,258.3 340.1,258.8 340.5,259.3 340.8,259.8 341.1,260.2 341.4,260.7 341.7,261.2 342,261.6 342.3,262.1 342.6,262.6 342.9,263 343.2,263.5 343.6,263.9 343.9,264.4 344.2,264.8 344.5,265.3 344.8,265.8 345.1,266.2 345.4,266.7 345.7,267.1 346,267.5 346.3,268 346.6,268.4 347,268.9 347.3,269.3 347.6,269.8 347.9,270.2 348.2,270.6 348.5,271.1 348.8,271.5 349.1,271.9 349.4,272.4 349.7,272.8 350.1,273.2 350.4,273.6 350.7,274.1 351,274.5 351.3,274.9 351.6,275.3 351.9,275.8 352.2,276.2 352.5,276.6 352.8,277 353.1,277.4 353.5,277.8 353.8,278.2 354.1,278.7 354.4,279.1 354.7,279.5 355,279.9 355.3,280.3 355.6,280.7 355.9,281.1 356.2,281.5 356.6,281.9 356.9,282.3 357.2,282.7 357.5,283.1 357.8,283.5 358.1,283.9 358.4,284.3 358.7,284.6 359,285 359.3,285.4 359.6,285.8 360,286.2 360.3,286.6 360.6,287 360.9,287.3 361.2,287.7 361.5,288.1 361.8,288.5 362.1,288.9 362.4,289.2 362.7,289.6 363.1,290 363.4,290.4 363.7,290.7 364,291.1 364.3,291.5 364.6,291.8 364.9,292.2 365.2,292.6 365.5,292.9 365.8,293.3 366.2,293.7 366.5,294 366.8,294.4 367.1,294.8 367.4,295.1 367.7,295.5 368,295.8 368.3,296.2 368.6,296.5 368.9,296.9 369.2,297.2 369.6,297.6 369.9,298 370.2,298.3 370.5,298.6 370.8,299 371.1,299.3 371.4,299.7 371.7,300 372,300.4 372.3,300.7 372.7,301.1 373,301.4 373.3,301.7 373.6,302.1 373.9,302.4 374.2,302.7 374.5,303.1 374.8,303.4 375.1,303.8 375.4,304.1 375.7,304.4 376.1,304.7 376.4,305.1 376.7,305.4 377,305.7 377.3,306.1 377.6,306.4 377.9,306.7 378.2,307 378.5,307.4 378.8,307.7 379.2,308 379.5,308.3 379.8,308.6 380.1,309 380.4,309.3 380.7,309.6 381,309.9 381.3,310.2 381.6,310.5 381.9,310.8 382.2,311.2 382.6,311.5 382.9,311.8 383.2,312.1 383.5,312.4 383.8,312.7 384.1,313 384.4,313.3 384.7,313.6 385,313.9 385.3,314.2 385.7,314.5 386,314.8 386.3,315.1 386.6,315.4 386.9,315.7 387.2,316 387.5,316.3 387.8,316.6 388.1,316.9 388.4,317.2 388.8,317.5 389.1,317.8 389.4,318.1 389.7,318.4 390,318.7 390.3,319 390.6,319.3 390.9,319.6 391.2,319.9 391.5,320.1 391.8,320.4 392.2,320.7 392.5,321 392.8,321.3 393.1,321.6 393.4,321.8 393.7,322.1 394,322.4 394.3,322.7 394.6,323 394.9,323.3 395.3,323.5 395.6,323.8 395.9,324.1 396.2,324.4 396.5,324.6 396.8,324.9 397.1,325.2 397.4,325.5 397.7,325.7 398,326 398.3,326.3 398.7,326.5 399,326.8 399.3,327.1 399.6,327.4 399.9,327.6 400.2,327.9 400.5,328.2 400.8,328.4 401.1,328.7 401.4,329 401.8,329.2 402.1,329.5 402.4,329.7 402.7,330 403,330.3 403.3,330.5 403.6,330.8 403.9,331 404.2,331.3 404.5,331.6 404.8,331.8 405.2,332.1 405.5,332.3 405.8,332.6 406.1,332.8 406.4,333.1 406.7,333.3 407,333.6 407.3,333.8 407.6,334.1 407.9,334.3 408.3,334.6 408.6,334.8 408.9,335.1 409.2,335.3 409.5,335.6 409.8,335.8 410.1,336.1 410.4,336.3 410.7,336.6 411,336.8 411.3,337.1 411.7,337.3 412,337.6 412.3,337.8 412.6,338 412.9,338.3 413.2,338.5 413.5,338.8 413.8,339 414.1,339.2 414.4,339.5 414.8,339.7 415.1,339.9 415.4,340.2 415.7,340.4 416,340.7 416.3,340.9 416.6,341.1 416.9,341.4 417.2,341.6 417.5,341.8 417.9,342.1 418.2,342.3 418.5,342.5 418.8,342.7 419.1,343 419.4,343.2 419.7,343.4 420,343.7 420.3,343.9 420.6,344.1 420.9,344.3 421.3,344.6 421.6,344.8 421.9,345 422.2,345.2 422.5,345.5 422.8,345.7 423.1,345.9 423.4,346.1 423.7,346.3 424,346.6 424.4,346.8 424.7,347 425,347.2 425.3,347.4 425.6,347.7 425.9,347.9 426.2,348.1 426.5,348.3 426.8,348.5 427.1,348.7 427.4,349 427.8,349.2 428.1,349.4 428.4,349.6 428.7,349.8 429,350 429.3,350.2 429.6,350.5 429.9,350.7 430.2,350.9 430.5,351.1 430.9,351.3 431.2,351.5 431.5,351.7 431.8,351.9 432.1,352.1 432.4,352.3 432.7,352.5 433,352.8 433.3,353 433.6,353.2 433.9,353.4 434.3,353.6 434.6,353.8 434.9,354 435.2,354.2 435.5,354.4 435.8,354.6 436.1,354.8 436.4,355 436.7,355.2 437,355.4 437.4,355.6 437.7,355.8 438,356 438.3,356.2 438.6,356.4 438.9,356.6 439.2,356.8 439.5,357 439.8,357.2 440.1,357.4 440.4,357.6 440.8,357.8 441.1,358 441.4,358.2 441.7,358.4 442,358.5 442.3,358.7 442.6,358.9 442.9,359.1 443.2,359.3 443.5,359.5 443.9,359.7 444.2,359.9 444.5,360.1 444.8,360.3 445.1,360.5 445.4,360.6 445.7,360.8 446,361 446.3,361.2 446.6,361.4 447,361.6 447.3,361.8 447.6,362 447.9,362.1 448.2,362.3 448.5,362.5 448.8,362.7 449.1,362.9 449.4,363.1 449.7,363.3 450,363.4 450.4,363.6 450.7,363.8 451,364 451.3,364.2 451.6,364.3 451.9,364.5 452.2,364.7 452.5,364.9 452.8,365.1 453.1,365.2 453.5,365.4 453.8,365.6 454.1,365.8 454.4,366 454.7,366.1 455,366.3 455.3,366.5 455.6,366.7 455.9,366.8 456.2,367 456.5,367.2 456.9,367.4 457.2,367.5 457.5,367.7 457.8,367.9 458.1,368.1 458.4,368.2 458.7,368.4 459,368.6 459.3,368.7 459.6,368.9 460,369.1 460.3,369.3 460.6,369.4 460.9,369.6 461.2,369.8 461.5,369.9 461.8,370.1 462.1,370.3 462.4,370.4 462.7,370.6 463,370.8 463.4,370.9 463.7,371.1 464,371.3 464.3,371.4 464.6,371.6 464.9,371.8 465.2,371.9 465.5,372.1 465.8,372.3 466.1,372.4 466.5,372.6 466.8,372.8 467.1,372.9 467.4,373.1 467.7,373.3 468,373.4 468.3,373.6 468.6,373.7 468.9,373.9 469.2,374.1 469.6,374.2 469.9,374.4 470.2,374.5 470.5,374.7 470.8,374.9 471.1,375 471.4,375.2 471.7,375.3 472,375.5 472.3,375.6 472.6,375.8 473,376 473.3,376.1 473.6,376.3 473.9,376.4 474.2,376.6 474.5,376.7 474.8,376.9 475.1,377.1 475.4,377.2 475.7,377.4 476.1,377.5 476.4,377.7 476.7,377.8 477,378 477.3,378.1 477.6,378.3 477.9,378.4 478.2,378.6 478.5,378.7 478.8,378.9 479.1,379 479.5,379.2 479.8,379.3 480.1,379.5 480.4,379.6 480.7,379.8 481,379.9 481.3,380.1 481.6,380.2 481.9,380.4 482.2,380.5 482.6,380.7 482.9,380.8 483.2,381 483.5,381.1 483.8,381.3 484.1,381.4 484.4,381.6 484.7,381.7 485,381.9 485.3,382 485.6,382.1 486,382.3 486.3,382.4 486.6,382.6 486.9,382.7 487.2,382.9 487.5,383 487.8,383.2 488.1,383.3 488.4,383.4 488.7,383.6 489.1,383.7 489.4,383.9 489.7,384 490,384.1 490.3,384.3 490.6,384.4 490.9,384.6 491.2,384.7 491.5,384.8 491.8,385 492.1,385.1 492.5,385.3 492.8,385.4 493.1,385.5 493.4,385.7 493.7,385.8 494,386 494.3,386.1 494.6,386.2 494.9,386.4 495.2,386.5 495.6,386.6 495.9,386.8 496.2,386.9 496.5,387.1 496.8,387.2 497.1,387.3 497.4,387.5 497.7,387.6 498,387.7 498.3,387.9 498.7,388 499,388.1 499.3,388.3 499.6,388.4 499.9,388.5 500.2,388.7 500.5,388.8 500.8,388.9 501.1,389.1 501.4,389.2 501.7,389.3 502.1,389.5 502.4,389.6 502.7,389.7 503,389.8 503.3,390 503.6,390.1 503.9,390.2 504.2,390.4 504.5,390.5 504.8,390.6 505.2,390.8 505.5,390.9 505.8,391 506.1,391.1 506.4,391.3 506.7,391.4 507,391.5 507.3,391.7 507.6,391.8 507.9,391.9 508.2,392 508.6,392.2 508.9,392.3 509.2,392.4 509.5,392.5 509.8,392.7 510.1,392.8 510.4,392.9 510.7,393 511,393.2 511.3,393.3 511.7,393.4 512,393.5 512.3,393.7 512.6,393.8 512.9,393.9 513.2,394 513.5,394.2 513.8,394.3 514.1,394.4 514.4,394.5 514.7,394.6 515.1,394.8 515.4,394.9 515.7,395 516,395.1 516.3,395.2 516.6,395.4 516.9,395.5 517.2,395.6 517.5,395.7 517.8,395.9 518.2,396 518.5,396.1 518.8,396.2 519.1,396.3 519.4,396.4 519.7,396.6 520,396.7 520.3,396.8 520.6,396.9 520.9,397 521.2,397.2 521.6,397.3 521.9,397.4 522.2,397.5 522.5,397.6 522.8,397.7 523.1,397.9 523.4,398 523.7,398.1 524,398.2 524.3,398.3 524.7,398.4 525,398.6 525.3,398.7 525.6,398.8 525.9,398.9 526.2,399 526.5,399.1 526.8,399.2 527.1,399.4 527.4,399.5 527.8,399.6 528.1,399.7 528.4,399.8 528.7,399.9 529,400 529.3,400.1 529.6,400.3 529.9,400.4 530.2,400.5 530.5,400.6 530.8,400.7 531.2,400.8 531.5,400.9 531.8,401 532.1,401.2 532.4,401.3 532.7,401.4 533,401.5 533.3,401.6 533.6,401.7 533.9,401.8 534.3,401.9 534.6,402 534.9,402.1 535.2,402.3 535.5,402.4 535.8,402.5 536.1,402.6 536.4,402.7 536.7,402.8 537,402.9 537.3,403 537.7,403.1 538,403.2 538.3,403.3 538.6,403.4 538.9,403.6 539.2,403.7 539.5,403.8 539.8,403.9 540.1,404 540.4,404.1 540.8,404.2 541.1,404.3 541.4,404.4 541.7,404.5 542,404.6 542.3,404.7 542.6,404.8 542.9,404.9 543.2,405 543.5,405.1 543.8,405.2 544.2,405.3 544.5,405.4 544.8,405.6 545.1,405.7 545.4,405.8 545.7,405.9 546,406 546.3,406.1 546.6,406.2 546.9,406.3 547.3,406.4 547.6,406.5 547.9,406.6 548.2,406.7 548.5,406.8 548.8,406.9 549.1,407 549.4,407.1 549.7,407.2 550,407.3 550.4,407.4 550.7,407.5 551,407.6 551.3,407.7 551.6,407.8 551.9,407.9 552.2,408 552.5,408.1 552.8,408.2 553.1,408.3 553.4,408.4 553.8,408.5 554.1,408.6 554.4,408.7 554.7,408.8 555,408.9 555.3,409 555.6,409.1 555.9,409.2 556.2,409.3 556.5,409.4 556.9,409.5 557.2,409.6 557.5,409.7 557.8,409.8 558.1,409.9 558.4,410 558.7,410.1 559,410.1 559.3,410.2 559.6,410.3 559.9,410.4 560.3,410.5 560.6,410.6 560.9,410.7 561.2,410.8 561.5,410.9 561.8,411 562.1,411.1 562.4,411.2 562.7,411.3 563,411.4 563.4,411.5 563.7,411.6 564,411.7 564.3,411.8 564.6,411.9 564.9,412 565.2,412 565.5,412.1 565.8,412.2 566.1,412.3 566.4,412.4 566.8,412.5 567.1,412.6 567.4,412.7 567.7,412.8 568,412.9 568.3,413 568.6,413.1 568.9,413.2 569.2,413.2 569.5,413.3 569.9,413.4 570.2,413.5 570.5,413.6 570.8,413.7 571.1,413.8 571.4,413.9 571.7,414 572,414.1 572.3,414.2 572.6,414.2 572.9,414.3 573.3,414.4 573.6,414.5 573.9,414.6 574.2,414.7 574.5,414.8 574.8,414.9 575.1,415 575.4,415.1 575.7,415.1 576,415.2 576.4,415.3 576.7,415.4 577,415.5 577.3,415.6 577.6,415.7 577.9,415.8 578.2,415.8 578.5,415.9 578.8,416 579.1,416.1 579.5,416.2 579.8,416.3 580.1,416.4 580.4,416.5 580.7,416.5 581,416.6 581.3,416.7 581.6,416.8 581.9,416.9 582.2,417 582.5,417.1 582.9,417.2 583.2,417.2 583.5,417.3 583.8,417.4 584.1,417.5 584.4,417.6 584.7,417.7 585,417.7 585.3,417.8 585.6,417.9 586,418 586.3,418.1 586.6,418.2 586.9,418.3 587.2,418.3 587.5,418.4 587.8,418.5 588.1,418.6 588.4,418.7 588.7,418.8 589,418.8 589.4,418.9 589.7,419 590,419.1 590.3,419.2 590.6,419.3 590.9,419.3 591.2,419.4 591.5,419.5 591.8,419.6 592.1,419.7 592.5,419.8 592.8,419.8 593.1,419.9 593.4,420 593.7,420.1 594,420.2 594.3,420.2 594.6,420.3 594.9,420.4 595.2,420.5 595.5,420.6 595.9,420.6 596.2,420.7 596.5,420.8 596.8,420.9 597.1,421 597.4,421 597.7,421.1 598,421.2 598.3,421.3 598.6,421.4 599,421.4 599.3,421.5 599.6,421.6 599.9,421.7 600.2,421.8 600.5,421.8 600.8,421.9 601.1,422 601.4,422.1 601.7,422.2 602.1,422.2 602.4,422.3 602.7,422.4 603,422.5 603.3,422.6 603.6,422.6 603.9,422.7 604.2,422.8 604.5,422.9 604.8,422.9 605.1,423 605.5,423.1 605.8,423.2 606.1,423.3 606.4,423.3 606.7,423.4 607,423.5 607.3,423.6 607.6,423.6 607.9,423.7 608.2,423.8 608.6,423.9 608.9,423.9 609.2,424 609.5,424.1 609.8,424.2 610.1,424.2 610.4,424.3 610.7,424.4 611,424.5 611.3,424.5 611.6,424.6 612,424.7 612.3,424.8 612.6,424.8 612.9,424.9 613.2,425 613.5,425.1 613.8,425.1 614.1,425.2 614.4,425.3 614.7,425.4 615.1,425.4 615.4,425.5 615.7,425.6 616,425.7 616.3,425.7 616.6,425.8 616.9,425.9 617.2,426 617.5,426 617.8,426.1 618.1,426.2 618.5,426.3 618.8,426.3 619.1,426.4 619.4,426.5 619.7,426.5 620,426.6 620.3,426.7 620.6,426.8 620.9,426.8 621.2,426.9 621.6,427 621.9,427 622.2,427.1 622.5,427.2 622.8,427.3 623.1,427.3 623.4,427.4 623.7,427.5 624,427.5 624.3,427.6 624.6,427.7 625,427.8 625.3,427.8 625.6,427.9 625.9,428 626.2,428 626.5,428.1 626.8,428.2 627.1,428.3 627.4,428.3 627.7,428.4 628.1,428.5 628.4,428.5 628.7,428.6 629,428.7 629.3,428.7 629.6,428.8 629.9,428.9 630.2,429 630.5,429 630.8,429.1 631.2,429.2 631.5,429.2 631.8,429.3 632.1,429.4 632.4,429.4 632.7,429.5 633,429.6 633.3,429.6 633.6,429.7 633.9,429.8 634.2,429.8 634.6,429.9 634.9,430 635.2,430.1 635.5,430.1 635.8,430.2 636.1,430.3 636.4,430.3 636.7,430.4 637,430.5 637.3,430.5 637.7,430.6 638,430.7 638.3,430.7 638.6,430.8 638.9,430.9 639.2,430.9 639.5,431 639.8,431.1 640.1,431.1 640.4,431.2 640.7,431.3 641.1,431.3 641.4,431.4 641.7,431.5 642,431.5 642.3,431.6 642.6,431.7 642.9,431.7 643.2,431.8 643.5,431.9 643.8,431.9 644.2,432 644.5,432.1 644.8,432.1 645.1,432.2 645.4,432.2 645.7,432.3 646,432.4 646.3,432.4 646.6,432.5 646.9,432.6 647.2,432.6 647.6,432.7 647.9,432.8 648.2,432.8 648.5,432.9 648.8,433 649.1,433 649.4,433.1 649.7,433.1 650,433.2 650.3,433.3 650.7,433.3 651,433.4 651.3,433.5 651.6,433.5 651.9,433.6 652.2,433.7 652.5,433.7 652.8,433.8 653.1,433.8 653.4,433.9 653.7,434 654.1,434 654.4,434.1 654.7,434.2 655,434.2 655.3,434.3 655.6,434.3 655.9,434.4 656.2,434.5 656.5,434.5 656.8,434.6 657.2,434.7 657.5,434.7 657.8,434.8 658.1,434.8 658.4,434.9 658.7,435 659,435 659.3,435.1 659.6,435.2 659.9,435.2 660.3,435.3 660.6,435.3 660.9,435.4 661.2,435.5 661.5,435.5 661.8,435.6 662.1,435.6 662.4,435.7 662.7,435.8 663,435.8 663.3,435.9 663.7,435.9 664,436 664.3,436.1 664.6,436.1 664.9,436.2 665.2,436.2 665.5,436.3 665.8,436.4 666.1,436.4 666.4,436.5 666.8,436.5 667.1,436.6 667.4,436.7 667.7,436.7 668,436.8 668.3,436.8 668.6,436.9 668.9,437 669.2,437 669.5,437.1 669.8,437.1 670.2,437.2 670.5,437.3 670.8,437.3 671.1,437.4 671.4,437.4 671.7,437.5 672,437.6 672.3,437.6 672.6,437.7 672.9,437.7 673.3,437.8 673.6,437.8 673.9,437.9 674.2,438 674.5,438 674.8,438.1 675.1,438.1 675.4,438.2 675.7,438.2 676,438.3 676.3,438.4 676.7,438.4 677,438.5 677.3,438.5 677.6,438.6 677.9,438.7 678.2,438.7 678.5,438.8 678.8,438.8 679.1,438.9 679.4,438.9 679.8,439 680.1,439 680.4,439.1 680.7,439.2 681,439.2 681.3,439.3 681.6,439.3 681.9,439.4 682.2,439.4 682.5,439.5 682.9,439.6 683.2,439.6 683.5,439.7 683.8,439.7 684.1,439.8 684.4,439.8 684.7,439.9 685,439.9 685.3,440 685.6,440.1 685.9,440.1 686.3,440.2 686.6,440.2 686.9,440.3 687.2,440.3 687.5,440.4 687.8,440.4 688.1,440.5 688.4,440.6 688.7,440.6 689,440.7 689.4,440.7 689.7,440.8 690,440.8 690.3,440.9 690.6,440.9 690.9,441 691.2,441 691.5,441.1 691.8,441.2 692.1,441.2 692.4,441.3 692.8,441.3 693.1,441.4 693.4,441.4 693.7,441.5 694,441.5 694.3,441.6 694.6,441.6 694.9,441.7 695.2,441.7 695.5,441.8 695.9,441.9 696.2,441.9 696.5,442 696.8,442 697.1,442.1 697.4,442.1 697.7,442.2 698,442.2 698.3,442.3 698.6,442.3 698.9,442.4 699.3,442.4 699.6,442.5 699.9,442.5 700.2,442.6 700.5,442.6 700.8,442.7 701.1,442.8 701.4,442.8 701.7,442.9 702,442.9 702.4,443 702.7,443 703,443.1 703.3,443.1 703.6,443.2 703.9,443.2 704.2,443.3 704.5,443.3 704.8,443.4 705.1,443.4 705.4,443.5 705.8,443.5 706.1,443.6 706.4,443.6 706.7,443.7 707,443.7 707.3,443.8 707.6,443.8 707.9,443.9 708.2,443.9 708.5,444 708.9,444 709.2,444.1 709.5,444.1 709.8,444.2 710.1,444.2 710.4,444.3 710.7,444.3 711,444.4 711.3,444.4 711.6,444.5 712,444.5 712.3,444.6 712.6,444.6 712.9,444.7 713.2,444.7 713.5,444.8 713.8,444.8 714.1,444.9 714.4,444.9 714.7,445 715,445 715.4,445.1 715.7,445.1 716,445.2 716.3,445.2 716.6,445.3 716.9,445.3 717.2,445.4 717.5,445.4 717.8,445.5 718.1,445.5 718.5,445.6 718.8,445.6 719.1,445.7 719.4,445.7 719.7,445.8 720,445.8 720.3,445.9 720.6,445.9 720.9,446 721.2,446 721.5,446.1 721.9,446.1 722.2,446.2 722.5,446.2 722.8,446.3 723.1,446.3 723.4,446.4 723.7,446.4 724,446.5 724.3,446.5 724.6,446.6 725,446.6 725.3,446.7 725.6,446.7 725.9,446.8 726.2,446.8 726.5,446.9 726.8,446.9 727.1,446.9 727.4,447 727.7,447 728,447.1 728.4,447.1 728.7,447.2 729,447.2 729.3,447.3 729.6,447.3 729.9,447.4 730.2,447.4 730.5,447.5 730.8,447.5 731.1,447.6 731.5,447.6 731.8,447.7 732.1,447.7 732.4,447.8 732.7,447.8 733,447.8 733.3,447.9 733.6,447.9 733.9,448 734.2,448 734.5,448.1 734.9,448.1 735.2,448.2 735.5,448.2 735.8,448.3 736.1,448.3 736.4,448.4 736.7,448.4 737,448.4 737.3,448.5 737.6,448.5 738,448.6 738.3,448.6 738.6,448.7 738.9,448.7 739.2,448.8 739.5,448.8 739.8,448.9 740.1,448.9 740.4,448.9 740.7,449 741.1,449 741.4,449.1 741.7,449.1 742,449.2 742.3,449.2 742.6,449.3 742.9,449.3 743.2,449.4 743.5,449.4 743.8,449.4 744.1,449.5 744.5,449.5 744.8,449.6 745.1,449.6 745.4,449.7 745.7,449.7 746,449.8 746.3,449.8 746.6,449.8 746.9,449.9 747.2,449.9 747.6,450 747.9,450 748.2,450.1 748.5,450.1 748.8,450.2 749.1,450.2 749.4,450.2 749.7,450.3 750,450.3 750.3,450.4 750.6,450.4 751,450.5 751.3,450.5 751.6,450.6 751.9,450.6 752.2,450.6 752.5,450.7 752.8,450.7 753.1,450.8 753.4,450.8 753.7,450.9 754.1,450.9 754.4,450.9 754.7,451 755,451 755.3,451.1 755.6,451.1 755.9,451.2 756.2,451.2 756.5,451.3 756.8,451.3 757.1,451.3 757.5,451.4 757.8,451.4 758.1,451.5 758.4,451.5 758.7,451.6 759,451.6 759.3,451.6 759.6,451.7 759.9,451.7 760.2,451.8 760.6,451.8 760.9,451.8 761.2,451.9 761.5,451.9 761.8,452 762.1,452 762.4,452.1 762.7,452.1 763,452.1 763.3,452.2 763.7,452.2 764,452.3 764.3,452.3 764.6,452.4 764.9,452.4 765.2,452.4 765.5,452.5 765.8,452.5 766.1,452.6 766.4,452.6 766.7,452.6 767.1,452.7 767.4,452.7 767.7,452.8 768,452.8 768.3,452.9 768.6,452.9 768.9,452.9 769.2,453 769.5,453 769.8,453.1 770.2,453.1 770.5,453.1 770.8,453.2 771.1,453.2 771.4,453.3 771.7,453.3 772,453.3 772.3,453.4 772.6,453.4 772.9,453.5 773.2,453.5 773.6,453.6 773.9,453.6 774.2,453.6 774.5,453.7 774.8,453.7 775.1,453.8 775.4,453.8 775.7,453.8 776,453.9 776.3,453.9 776.7,454 777,454 777.3,454 777.6,454.1 777.9,454.1 778.2,454.2 778.5,454.2 778.8,454.2 779.1,454.3 779.4,454.3 779.7,454.4 780.1,454.4 780.4,454.4 780.7,454.5 781,454.5 781.3,454.6 781.6,454.6 781.9,454.6 782.2,454.7 782.5,454.7 782.8,454.8 783.2,454.8 783.5,454.8 783.8,454.9 784.1,454.9 784.4,455 784.7,455 785,455 785.3,455.1 785.6,455.1 785.9,455.1 786.2,455.2 786.6,455.2 786.9,455.3 787.2,455.3 787.5,455.3 787.8,455.4 788.1,455.4 788.4,455.5 788.7,455.5 789,455.5 789.3,455.6 789.7,455.6 790,455.7 790.3,455.7 790.6,455.7 790.9,455.8 791.2,455.8 791.5,455.8 791.8,455.9 792.1,455.9 792.4,456 792.8,456 793.1,456 793.4,456.1 793.7,456.1 794,456.2 794.3,456.2 794.6,456.2 794.9,456.3 795.2,456.3 795.5,456.3 795.8,456.4 796.2,456.4 796.5,456.5 796.8,456.5 797.1,456.5 797.4,456.6 797.7,456.6 798,456.6 798.3,456.7 798.6,456.7 798.9,456.8 799.3,456.8 799.6,456.8 799.9,456.9 800.2,456.9 800.5,456.9 800.8,457 801.1,457 801.4,457.1 801.7,457.1 802,457.1 802.3,457.2 802.7,457.2 803,457.2 803.3,457.3 803.6,457.3 803.9,457.4 804.2,457.4 804.5,457.4 804.8,457.5 805.1,457.5 805.4,457.5 805.8,457.6 806.1,457.6 806.4,457.6 806.7,457.7 807,457.7 807.3,457.8 807.6,457.8 807.9,457.8 808.2,457.9 808.5,457.9 808.8,457.9 809.2,458 809.5,458 809.8,458 810.1,458.1 810.4,458.1 810.7,458.2 811,458.2 811.3,458.2 811.6,458.3 811.9,458.3 812.3,458.3 812.6,458.4 812.9,458.4 813.2,458.4 813.5,458.5 813.8,458.5 814.1,458.6 814.4,458.6 814.7,458.6 815,458.7 815.4,458.7 815.7,458.7 816,458.8 816.3,458.8 816.6,458.8 816.9,458.9 817.2,458.9 817.5,458.9 817.8,459 818.1,459 818.4,459.1 818.8,459.1 819.1,459.1 819.4,459.2 819.7,459.2 820,459.2 820.3,459.3 820.6,459.3 820.9,459.3 821.2,459.4 821.5,459.4 821.9,459.4 822.2,459.5 822.5,459.5 822.8,459.5 823.1,459.6 823.4,459.6 823.7,459.6 824,459.7 824.3,459.7 824.6,459.8 824.9,459.8 825.3,459.8 825.6,459.9 825.9,459.9 826.2,459.9 826.5,460 826.8,460 827.1,460 827.4,460.1 827.7,460.1 828,460.1 828.4,460.2 828.7,460.2 829,460.2 829.3,460.3 829.6,460.3 829.9,460.3 830.2,460.4 830.5,460.4 830.8,460.4 831.1,460.5 831.4,460.5 831.8,460.5"/>
<polyline class="mp3" points="177,513.1 177.3,511.9 177.6,510.7 177.9,509.4 178.2,508.2 178.5,506.8 178.9,505.5 179.2,504.1 179.5,502.7 179.8,501.2 180.1,499.7 180.4,498.1 180.7,496.5 181,494.9 181.3,493.2 181.6,491.5 182,489.8 182.3,488 182.6,486.2 182.9,484.3 183.2,482.4 183.5,480.5 183.8,478.5 184.1,476.5 184.4,474.4 184.7,472.3 185,470.2 185.4,468 185.7,465.8 186,463.6 186.3,461.3 186.6,459"/>
<polyline class="mp3" points="219.1,145.3 219.4,142.9 219.7,140.6 220,138.3 220.3,136 220.6,133.7 221,131.5 221.3,129.3 221.6,127.1 221.9,125 222.2,122.9 222.5,120.8 222.8,118.8 223.1,116.8 223.4,114.8 223.7,112.9 224.1,111 224.4,109.1 224.7,107.3 225,105.5 225.3,103.7 225.6,101.9 225.9,100.2 226.2,98.6 226.5,96.9 226.8,95.3 227.1,93.7 227.5,92.2 227.8,90.6 228.1,89.2 228.4,87.7 228.7,86.3 229,84.9 229.3,83.5 229.6,82.2 229.9,80.9 230.2,79.7 230.6,78.4 230.9,77.2"/>
<use href="#gc" x="832.1" y="460.6"/>
<path d="M161.9 496.9C162.2 498.2 162.9 502.6 163.5 505.0C164.1 507.4 164.7 509.9 165.5 511.5C166.3 513.1 167.2 514.2 168.1 514.4C169.0 514.6 170.0 513.7 170.8 512.8C171.6 511.9 172.2 512.2 173.1 508.8C174.0 505.4 175.4 499.4 176.3 492.5C177.2 485.6 178.0 475.8 178.8 467.5C179.6 459.2 180.5 451.9 181.3 442.5C182.1 433.1 183.0 421.7 183.8 411.3C184.6 400.9 185.1 393.0 186.3 380.0C187.5 367.0 189.5 349.4 190.8 333.1C192.2 316.8 193.2 297.5 194.4 282.3C195.6 267.1 196.6 255.2 197.9 241.7C199.2 228.2 200.7 214.6 202.0 201.1C203.3 187.6 205.0 169.9 206.0 160.5C207.0 151.1 206.9 150.5 207.8 144.7C208.7 138.9 210.0 132.6 211.6 125.6C213.2 118.6 215.5 110.0 217.4 102.7C219.3 95.4 221.2 88.0 223.1 81.6C225.0 75.2 227.1 68.7 228.8 64.4C230.6 60.1 232.3 57.4 233.6 55.8C234.9 54.1 233.3 55.4 236.5 54.5C239.7 53.6 249.3 50.5 252.7 50.6C256.1 50.7 255.3 52.8 256.6 54.9C257.9 57.0 259.1 61.4 260.4 63.5C261.7 65.6 261.8 65.4 264.2 67.3C266.6 69.2 272.0 72.2 274.7 74.9C277.4 77.6 278.6 80.5 280.5 83.5C282.4 86.5 284.0 89.3 286.2 93.1C288.4 96.9 291.2 102.0 293.8 106.5C296.4 111.0 299.2 114.8 301.5 119.9C303.8 125.0 305.6 132.1 307.6 137.2C309.6 142.3 311.5 146.9 313.4 150.6C315.3 154.3 316.6 155.7 319.1 159.2C321.7 162.7 325.5 167.4 328.7 171.6C331.9 175.8 335.6 180.3 338.2 184.1C340.8 187.9 341.8 191.3 344.0 194.6C346.2 197.9 349.1 200.9 351.6 204.1C354.2 207.3 357.2 210.5 359.3 213.7C361.4 216.9 363.1 221.0 364.5 223.5C365.9 226.0 365.8 227.1 367.6 228.6C369.4 230.1 373.1 230.3 375.3 232.4C377.5 234.5 378.8 238.0 381.0 241.0C383.2 244.0 385.5 247.6 388.7 250.6C391.9 253.6 396.4 256.0 400.2 259.2C404.0 262.4 408.1 267.5 411.6 269.7C415.1 271.9 417.7 270.2 421.2 272.6C424.7 275.0 429.2 281.7 432.7 284.1C436.2 286.5 439.3 285.5 442.2 286.9C445.1 288.3 446.4 290.8 449.9 292.7C453.4 294.6 458.4 296.3 463.2 298.4C468.0 300.5 473.7 303.4 478.5 305.1C483.3 306.9 488.3 308.0 491.9 308.9C495.5 309.8 496.9 309.2 500.0 310.3C503.1 311.4 507.1 314.4 510.2 315.4C513.2 316.4 514.6 315.2 518.3 316.4C522.0 317.6 528.3 321.6 532.5 322.5C536.7 323.4 539.3 321.0 543.7 321.9C548.1 322.8 554.9 327.3 558.9 328.0C562.9 328.7 564.6 325.6 568.0 326.1C571.4 326.6 575.6 330.7 579.2 331.2C582.8 331.7 585.7 328.8 589.4 329.0C593.1 329.2 597.5 331.3 601.5 332.2C605.5 333.1 609.3 333.4 613.7 334.3C618.1 335.2 623.8 337.3 627.9 337.7C632.0 338.1 634.4 336.0 638.1 336.7C641.8 337.4 646.9 340.8 650.3 341.8C653.7 342.8 654.7 343.0 658.4 342.8C662.1 342.6 667.5 340.9 672.7 340.7C677.9 340.5 685.4 341.2 689.6 341.7C693.8 342.2 695.3 343.7 698.1 343.8C700.9 343.9 702.6 342.2 706.5 342.4C710.4 342.6 716.7 344.5 721.3 344.9C725.9 345.2 729.1 343.3 734.0 344.5C738.9 345.7 746.0 352.0 750.9 352.3C755.8 352.6 759.7 346.8 763.6 346.4C767.5 346.0 769.6 349.2 774.2 349.8C778.8 350.4 786.2 349.8 791.1 350.2C796.0 350.6 799.6 351.8 803.8 352.3C808.0 352.8 812.5 353.6 816.5 353.3C820.5 353.0 826.2 351.1 828.1 350.6" fill="none" stroke="#000" stroke-width="4.0" stroke-linejoin="round" stroke-linecap="round"/>
</g>
<rect x="117.9" y="660.4" width="711.6" height="529.2" fill="none" stroke="#000" stroke-width="3.8" stroke-linejoin="round"/>
<path d="M159.8 1189.6v-10.6M159.8 660.4v10.6M201.7 1189.6v-5.6M201.7 660.4v5.6M243.5 1189.6v-10.6M243.5 660.4v10.6M285.4 1189.6v-5.6M285.4 660.4v5.6M327.2 1189.6v-10.6M327.2 660.4v10.6M369.1 1189.6v-5.6M369.1 660.4v5.6M410.9 1189.6v-10.6M410.9 660.4v10.6M452.8 1189.6v-5.6M452.8 660.4v5.6M494.6 1189.6v-10.6M494.6 660.4v10.6M536.5 1189.6v-5.6M536.5 660.4v5.6M578.3 1189.6v-10.6M578.3 660.4v10.6M620.2 1189.6v-5.6M620.2 660.4v5.6M662.1 1189.6v-10.6M662.1 660.4v10.6M703.9 1189.6v-5.6M703.9 660.4v5.6M745.8 1189.6v-10.6M745.8 660.4v10.6M787.6 1189.6v-5.6M787.6 660.4v5.6M117.9 1141.5h5.6M829.5 1141.5h-5.6M117.9 1093.4h10.6M829.5 1093.4h-10.6M117.9 1045.3h5.6M829.5 1045.3h-5.6M117.9 997.2h10.6M829.5 997.2h-10.6M117.9 949.0h5.6M829.5 949.0h-5.6M117.9 900.9h10.6M829.5 900.9h-10.6M117.9 852.8h5.6M829.5 852.8h-5.6M117.9 804.7h10.6M829.5 804.7h-10.6M117.9 756.6h5.6M829.5 756.6h-5.6M117.9 708.5h10.6M829.5 708.5h-10.6" stroke="#000" stroke-width="3.6" stroke-linecap="round" fill="none"/>
<g font-size="24.5" fill="#000" stroke="#000" stroke-width="0.3">
<text x="159.8" y="1220.3" text-anchor="middle">0</text>
<text x="243.5" y="1220.3" text-anchor="middle">1</text>
<text x="327.2" y="1220.3" text-anchor="middle">2</text>
<text x="410.9" y="1220.3" text-anchor="middle">3</text>
<text x="494.6" y="1220.3" text-anchor="middle">4</text>
<text x="578.3" y="1220.3" text-anchor="middle">5</text>
<text x="662.1" y="1220.3" text-anchor="middle">6</text>
<text x="745.8" y="1220.3" text-anchor="middle">7</text>
<text x="830.1" y="1220.3" text-anchor="middle">8</text>
<text x="107.6" y="1197.0" text-anchor="end">0.0</text>
<text x="107.6" y="1100.8" text-anchor="end">0.2</text>
<text x="107.6" y="1004.6" text-anchor="end">0.4</text>
<text x="107.6" y="908.3" text-anchor="end">0.6</text>
<text x="107.6" y="812.1" text-anchor="end">0.8</text>
<text x="107.6" y="715.9" text-anchor="end">1.0</text>
</g>
<clipPath id="clip2"><rect x="117.9" y="660.4" width="712.6" height="530.9"/></clipPath>
<g clip-path="url(#clip2)">
<polyline class="mi" points="160.6,1189.6 161.3,1177.6 162,1165.8 162.7,1154.2 163.3,1142.9 164,1131.8 164.7,1120.9 165.4,1110.3 166.1,1099.9 166.8,1089.7 167.5,1079.7 168.2,1069.9 168.8,1060.4 169.5,1051 170.2,1041.9 170.9,1032.9 171.6,1024.1 172.3,1015.5 173,1007.1 173.6,998.9 174.3,990.8 175,983 175.7,975.3 176.4,967.7 177.1,960.3 177.8,953.1 178.4,946.1 179.1,939.2 179.8,932.5 180.5,925.9 181.2,919.4 181.9,913.1 182.6,907 183.3,901 183.9,895.1 184.6,889.4 185.3,883.8 186,878.3 186.7,873 187.4,867.7 188.1,862.6 188.7,857.7 189.4,852.8 190.1,848.1 190.8,843.4 191.5,838.9 192.2,834.5 192.9,830.2 193.5,826 194.2,822 194.9,818 195.6,814.1 196.3,810.3 197,806.6 197.7,803 198.4,799.5 199,796.1 199.7,792.8 200.4,789.6 201.1,786.4 201.8,783.4 202.5,780.4 203.2,777.5 203.8,774.7 204.5,772 205.2,769.3 205.9,766.8 206.6,764.3 207.3,761.8 208,759.5 208.6,757.2 209.3,755 210,752.8 210.7,750.7 211.4,748.7 212.1,746.7 212.8,744.9 213.5,743 214.1,741.2 214.8,739.5 215.5,737.9 216.2,736.3 216.9,734.7 217.6,733.3 218.3,731.8 218.9,730.4 219.6,729.1 220.3,727.8 221,726.6 221.7,725.4 222.4,724.3 223.1,723.2 223.8,722.2 224.4,721.2 225.1,720.2 225.8,719.3 226.5,718.5 227.2,717.7 227.9,716.9 228.6,716.1 229.2,715.4 229.9,714.8 230.6,714.2 231.3,713.6 232,713 232.7,712.5 233.4,712 234,711.6 234.7,711.2 235.4,710.8 236.1,710.4 236.8,710.1 237.5,709.8 238.2,709.6 238.9,709.3 239.5,709.2 240.2,709 240.9,708.8 241.6,708.7 242.3,708.6 243,708.6 243.7,708.5 244.3,708.5 245,708.5 245.7,708.6 246.4,708.6 247.1,708.7 247.8,708.8 248.5,709 249.1,709.1 249.8,709.3 250.5,709.5 251.2,709.7 251.9,709.9 252.6,710.2 253.3,710.4 254,710.7 254.6,711 255.3,711.3 256,711.7 256.7,712 257.4,712.4 258.1,712.8 258.8,713.2 259.4,713.6 260.1,714.1 260.8,714.5 261.5,715 262.2,715.5 262.9,716 263.6,716.5 264.2,717 264.9,717.5 265.6,718.1 266.3,718.6 267,719.2 267.7,719.8 268.4,720.3 269.1,720.9 269.7,721.6 270.4,722.2 271.1,722.8 271.8,723.5 272.5,724.1 273.2,724.8 273.9,725.4 274.5,726.1 275.2,726.8 275.9,727.5 276.6,728.2 277.3,728.9 278,729.6 278.7,730.4 279.4,731.1 280,731.8 280.7,732.6 281.4,733.4 282.1,734.1 282.8,734.9 283.5,735.7 284.2,736.4 284.8,737.2 285.5,738 286.2,738.8 286.9,739.6 287.6,740.4 288.3,741.3 289,742.1 289.6,742.9 290.3,743.7 291,744.6 291.7,745.4 292.4,746.2 293.1,747.1 293.8,747.9 294.5,748.8 295.1,749.6 295.8,750.5 296.5,751.4 297.2,752.2 297.9,753.1 298.6,754 299.3,754.8 299.9,755.7 300.6,756.6 301.3,757.5 302,758.3 302.7,759.2 303.4,760.1 304.1,761 304.7,761.9 305.4,762.8 306.1,763.7 306.8,764.6 307.5,765.5 308.2,766.4 308.9,767.3 309.6,768.2 310.2,769.1 310.9,770 311.6,770.9 312.3,771.8 313,772.7 313.7,773.6 314.4,774.5 315,775.4 315.7,776.3 316.4,777.3 317.1,778.2 317.8,779.1 318.5,780 319.2,780.9 319.8,781.8 320.5,782.7 321.2,783.6 321.9,784.5 322.6,785.4 323.3,786.4 324,787.3 324.7,788.2 325.3,789.1 326,790 326.7,790.9 327.4,791.8 328.1,792.7 328.8,793.6 329.5,794.5 330.1,795.4 330.8,796.3 331.5,797.2 332.2,798.1 332.9,799 333.6,799.9 334.3,800.8 335,801.7 335.6,802.6 336.3,803.5 337,804.4 337.7,805.3 338.4,806.2 339.1,807.1 339.8,808 340.4,808.9 341.1,809.8 341.8,810.6 342.5,811.5 343.2,812.4 343.9,813.3 344.6,814.2 345.2,815 345.9,815.9 346.6,816.8 347.3,817.7 348,818.5 348.7,819.4 349.4,820.3 350.1,821.2 350.7,822 351.4,822.9 352.1,823.7 352.8,824.6 353.5,825.5 354.2,826.3 354.9,827.2 355.5,828 356.2,828.9 356.9,829.7 357.6,830.6 358.3,831.4 359,832.2 359.7,833.1 360.3,833.9 361,834.8 361.7,835.6 362.4,836.4 363.1,837.3 363.8,838.1 364.5,838.9 365.2,839.7 365.8,840.6 366.5,841.4 367.2,842.2 367.9,843 368.6,843.8 369.3,844.6 370,845.5 370.6,846.3 371.3,847.1 372,847.9 372.7,848.7 373.4,849.5 374.1,850.3 374.8,851.1 375.5,851.8 376.1,852.6 376.8,853.4 377.5,854.2 378.2,855 378.9,855.8 379.6,856.6 380.3,857.3 380.9,858.1 381.6,858.9 382.3,859.6 383,860.4 383.7,861.2 384.4,861.9 385.1,862.7 385.7,863.5 386.4,864.2 387.1,865 387.8,865.7 388.5,866.5 389.2,867.2 389.9,868 390.6,868.7 391.2,869.4 391.9,870.2 392.6,870.9 393.3,871.7 394,872.4 394.7,873.1 395.4,873.8 396,874.6 396.7,875.3 397.4,876 398.1,876.7 398.8,877.4 399.5,878.2 400.2,878.9 400.8,879.6 401.5,880.3 402.2,881 402.9,881.7 403.6,882.4 404.3,883.1 405,883.8 405.7,884.5 406.3,885.2 407,885.8 407.7,886.5 408.4,887.2 409.1,887.9 409.8,888.6 410.5,889.3 411.1,889.9 411.8,890.6 412.5,891.3 413.2,891.9 413.9,892.6 414.6,893.3 415.3,893.9 415.9,894.6 416.6,895.3 417.3,895.9 418,896.6 418.7,897.2 419.4,897.9 420.1,898.5 420.8,899.1 421.4,899.8 422.1,900.4 422.8,901.1 423.5,901.7 424.2,902.3 424.9,903 425.6,903.6 426.2,904.2 426.9,904.9 427.6,905.5 428.3,906.1 429,906.7 429.7,907.3 430.4,907.9 431.1,908.6 431.7,909.2 432.4,909.8 433.1,910.4 433.8,911 434.5,911.6 435.2,912.2 435.9,912.8 436.5,913.4 437.2,914 437.9,914.6 438.6,915.2 439.3,915.8 440,916.3 440.7,916.9 441.3,917.5 442,918.1 442.7,918.7 443.4,919.2 444.1,919.8 444.8,920.4 445.5,921 446.2,921.5 446.8,922.1 447.5,922.7 448.2,923.2 448.9,923.8 449.6,924.3 450.3,924.9 451,925.4 451.6,926 452.3,926.6 453,927.1 453.7,927.6 454.4,928.2 455.1,928.7 455.8,929.3 456.4,929.8 457.1,930.4 457.8,930.9 458.5,931.4 459.2,932 459.9,932.5 460.6,933 461.3,933.5 461.9,934.1 462.6,934.6 463.3,935.1 464,935.6 464.7,936.2 465.4,936.7 466.1,937.2 466.7,937.7 467.4,938.2 468.1,938.7 468.8,939.2 469.5,939.7 470.2,940.2 470.9,940.7 471.5,941.2 472.2,941.7 472.9,942.2 473.6,942.7 474.3,943.2 475,943.7 475.7,944.2 476.4,944.7 477,945.2 477.7,945.7 478.4,946.1 479.1,946.6 479.8,947.1 480.5,947.6 481.2,948.1 481.8,948.5 482.5,949 483.2,949.5 483.9,950 484.6,950.4 485.3,950.9 486,951.4 486.7,951.8 487.3,952.3 488,952.8 488.7,953.2 489.4,953.7 490.1,954.1 490.8,954.6 491.5,955 492.1,955.5 492.8,955.9 493.5,956.4 494.2,956.8 494.9,957.3 495.6,957.7 496.3,958.2 496.9,958.6 497.6,959 498.3,959.5 499,959.9 499.7,960.4 500.4,960.8 501.1,961.2 501.8,961.7 502.4,962.1 503.1,962.5 503.8,962.9 504.5,963.4 505.2,963.8 505.9,964.2 506.6,964.6 507.2,965.1 507.9,965.5 508.6,965.9 509.3,966.3 510,966.7 510.7,967.1 511.4,967.5 512,968 512.7,968.4 513.4,968.8 514.1,969.2 514.8,969.6 515.5,970 516.2,970.4 516.9,970.8 517.5,971.2 518.2,971.6 518.9,972 519.6,972.4 520.3,972.8 521,973.2 521.7,973.6 522.3,973.9 523,974.3 523.7,974.7 524.4,975.1 525.1,975.5 525.8,975.9 526.5,976.3 527.1,976.6 527.8,977 528.5,977.4 529.2,977.8 529.9,978.2 530.6,978.5 531.3,978.9 532,979.3 532.6,979.6 533.3,980 534,980.4 534.7,980.8 535.4,981.1 536.1,981.5 536.8,981.9 537.4,982.2 538.1,982.6 538.8,982.9 539.5,983.3 540.2,983.7 540.9,984 541.6,984.4 542.3,984.7 542.9,985.1 543.6,985.4 544.3,985.8 545,986.1 545.7,986.5 546.4,986.8 547.1,987.2 547.7,987.5 548.4,987.9 549.1,988.2 549.8,988.6 550.5,988.9 551.2,989.2 551.9,989.6 552.5,989.9 553.2,990.3 553.9,990.6 554.6,990.9 555.3,991.3 556,991.6 556.7,991.9 557.4,992.3 558,992.6 558.7,992.9 559.4,993.3 560.1,993.6 560.8,993.9 561.5,994.2 562.2,994.6 562.8,994.9 563.5,995.2 564.2,995.5 564.9,995.8 565.6,996.2 566.3,996.5 567,996.8 567.6,997.1 568.3,997.4 569,997.7 569.7,998.1 570.4,998.4 571.1,998.7 571.8,999 572.5,999.3 573.1,999.6 573.8,999.9 574.5,1000.2 575.2,1000.5 575.9,1000.8 576.6,1001.1 577.3,1001.4 577.9,1001.7 578.6,1002 579.3,1002.3 580,1002.6 580.7,1002.9 581.4,1003.2 582.1,1003.5 582.7,1003.8 583.4,1004.1 584.1,1004.4 584.8,1004.7 585.5,1005 586.2,1005.3 586.9,1005.6 587.6,1005.9 588.2,1006.2 588.9,1006.5 589.6,1006.7 590.3,1007 591,1007.3 591.7,1007.6 592.4,1007.9 593,1008.2 593.7,1008.4 594.4,1008.7 595.1,1009 595.8,1009.3 596.5,1009.6 597.2,1009.8 597.9,1010.1 598.5,1010.4 599.2,1010.7 599.9,1010.9 600.6,1011.2 601.3,1011.5 602,1011.8 602.7,1012 603.3,1012.3 604,1012.6 604.7,1012.8 605.4,1013.1 606.1,1013.4 606.8,1013.6 607.5,1013.9 608.1,1014.2 608.8,1014.4 609.5,1014.7 610.2,1015 610.9,1015.2 611.6,1015.5 612.3,1015.7 613,1016 613.6,1016.3 614.3,1016.5 615,1016.8 615.7,1017 616.4,1017.3 617.1,1017.6 617.8,1017.8 618.4,1018.1 619.1,1018.3 619.8,1018.6 620.5,1018.8 621.2,1019.1 621.9,1019.3 622.6,1019.6 623.2,1019.8 623.9,1020.1 624.6,1020.3 625.3,1020.6 626,1020.8 626.7,1021.1 627.4,1021.3 628.1,1021.5 628.7,1021.8 629.4,1022 630.1,1022.3 630.8,1022.5 631.5,1022.8 632.2,1023 632.9,1023.2 633.5,1023.5 634.2,1023.7 634.9,1023.9 635.6,1024.2 636.3,1024.4 637,1024.7 637.7,1024.9 638.3,1025.1 639,1025.4 639.7,1025.6 640.4,1025.8 641.1,1026 641.8,1026.3 642.5,1026.5 643.2,1026.7 643.8,1027 644.5,1027.2 645.2,1027.4 645.9,1027.7 646.6,1027.9 647.3,1028.1 648,1028.3 648.6,1028.6 649.3,1028.8 650,1029 650.7,1029.2 651.4,1029.4 652.1,1029.7 652.8,1029.9 653.5,1030.1 654.1,1030.3 654.8,1030.5 655.5,1030.8 656.2,1031 656.9,1031.2 657.6,1031.4 658.3,1031.6 658.9,1031.9 659.6,1032.1 660.3,1032.3 661,1032.5 661.7,1032.7 662.4,1032.9 663.1,1033.1 663.7,1033.3 664.4,1033.6 665.1,1033.8 665.8,1034 666.5,1034.2 667.2,1034.4 667.9,1034.6 668.6,1034.8 669.2,1035 669.9,1035.2 670.6,1035.4 671.3,1035.6 672,1035.8 672.7,1036 673.4,1036.3 674,1036.5 674.7,1036.7 675.4,1036.9 676.1,1037.1 676.8,1037.3 677.5,1037.5 678.2,1037.7 678.8,1037.9 679.5,1038.1 680.2,1038.3 680.9,1038.5 681.6,1038.7 682.3,1038.9 683,1039.1 683.7,1039.3 684.3,1039.4 685,1039.6 685.7,1039.8 686.4,1040 687.1,1040.2 687.8,1040.4 688.5,1040.6 689.1,1040.8 689.8,1041 690.5,1041.2 691.2,1041.4 691.9,1041.6 692.6,1041.8 693.3,1041.9 693.9,1042.1 694.6,1042.3 695.3,1042.5 696,1042.7 696.7,1042.9 697.4,1043.1 698.1,1043.3 698.8,1043.4 699.4,1043.6 700.1,1043.8 700.8,1044 701.5,1044.2 702.2,1044.4 702.9,1044.6 703.6,1044.7 704.2,1044.9 704.9,1045.1 705.6,1045.3 706.3,1045.5 707,1045.6 707.7,1045.8 708.4,1046 709.1,1046.2 709.7,1046.4 710.4,1046.5 711.1,1046.7 711.8,1046.9 712.5,1047.1 713.2,1047.2 713.9,1047.4 714.5,1047.6 715.2,1047.8 715.9,1047.9 716.6,1048.1 717.3,1048.3 718,1048.5 718.7,1048.6 719.3,1048.8 720,1049 720.7,1049.2 721.4,1049.3 722.1,1049.5 722.8,1049.7 723.5,1049.8 724.2,1050 724.8,1050.2 725.5,1050.3 726.2,1050.5 726.9,1050.7 727.6,1050.8 728.3,1051 729,1051.2 729.6,1051.3 730.3,1051.5 731,1051.7 731.7,1051.8 732.4,1052 733.1,1052.2 733.8,1052.3 734.4,1052.5 735.1,1052.7 735.8,1052.8 736.5,1053 737.2,1053.2 737.9,1053.3 738.6,1053.5 739.3,1053.6 739.9,1053.8 740.6,1054 741.3,1054.1 742,1054.3 742.7,1054.4 743.4,1054.6 744.1,1054.8 744.7,1054.9 745.4,1055.1 746.1,1055.2 746.8,1055.4 747.5,1055.5 748.2,1055.7 748.9,1055.9 749.6,1056 750.2,1056.2 750.9,1056.3 751.6,1056.5 752.3,1056.6 753,1056.8 753.7,1056.9 754.4,1057.1 755,1057.2 755.7,1057.4 756.4,1057.5 757.1,1057.7 757.8,1057.8 758.5,1058 759.2,1058.1 759.8,1058.3 760.5,1058.4 761.2,1058.6 761.9,1058.7 762.6,1058.9 763.3,1059 764,1059.2 764.7,1059.3 765.3,1059.5 766,1059.6 766.7,1059.8 767.4,1059.9 768.1,1060.1 768.8,1060.2 769.5,1060.4 770.1,1060.5 770.8,1060.7 771.5,1060.8 772.2,1060.9 772.9,1061.1 773.6,1061.2 774.3,1061.4 774.9,1061.5 775.6,1061.7 776.3,1061.8 777,1061.9 777.7,1062.1 778.4,1062.2 779.1,1062.4 779.8,1062.5 780.4,1062.7 781.1,1062.8 781.8,1062.9 782.5,1063.1 783.2,1063.2 783.9,1063.4 784.6,1063.5 785.2,1063.6 785.9,1063.8 786.6,1063.9 787.3,1064 788,1064.2 788.7,1064.3 789.4,1064.5 790,1064.6 790.7,1064.7 791.4,1064.9 792.1,1065 792.8,1065.1 793.5,1065.3 794.2,1065.4 794.9,1065.5 795.5,1065.7 796.2,1065.8 796.9,1065.9 797.6,1066.1 798.3,1066.2 799,1066.3 799.7,1066.5 800.3,1066.6 801,1066.7 801.7,1066.9 802.4,1067 803.1,1067.1 803.8,1067.3 804.5,1067.4 805.2,1067.5 805.8,1067.6 806.5,1067.8 807.2,1067.9 807.9,1068 808.6,1068.2 809.3,1068.3 810,1068.4 810.6,1068.5 811.3,1068.7 812,1068.8 812.7,1068.9 813.4,1069.1 814.1,1069.2 814.8,1069.3 815.4,1069.4 816.1,1069.6 816.8,1069.7 817.5,1069.8 818.2,1069.9 818.9,1070.1 819.6,1070.2 820.3,1070.3 820.9,1070.4 821.6,1070.6 822.3,1070.7 823,1070.8 823.7,1070.9 824.4,1071 825.1,1071.2 825.7,1071.3 826.4,1071.4 827.1,1071.5 827.8,1071.7 828.5,1071.8 829.2,1071.9 829.9,1072 830.5,1072.1 831.2,1072.3 831.9,1072.4"/>
<polyline class="mi2" points="224.4,721.2 225.1,720.2 225.8,719.3 226.5,718.5 227.2,717.7 227.9,716.9 228.6,716.1 229.2,715.4 229.9,714.8 230.6,714.2 231.3,713.6 232,713 232.7,712.5 233.4,712 234,711.6 234.7,711.2 235.4,710.8 236.1,710.4 236.8,710.1 237.5,709.8 238.2,709.6 238.9,709.3 239.5,709.2 240.2,709 240.9,708.8 241.6,708.7 242.3,708.6 243,708.6 243.7,708.5 244.3,708.5 245,708.5 245.7,708.6 246.4,708.6 247.1,708.7 247.8,708.8 248.5,709 249.1,709.1 249.8,709.3 250.5,709.5 251.2,709.7 251.9,709.9 252.6,710.2 253.3,710.4 254,710.7 254.6,711 255.3,711.3 256,711.7 256.7,712 257.4,712.4 258.1,712.8 258.8,713.2 259.4,713.6 260.1,714.1 260.8,714.5 261.5,715 262.2,715.5 262.9,716 263.6,716.5 264.2,717 264.9,717.5 265.6,718.1 266.3,718.6 267,719.2 267.7,719.8 268.4,720.3 269.1,720.9 269.7,721.6 270.4,722.2 271.1,722.8 271.8,723.5 272.5,724.1 273.2,724.8 273.9,725.4 274.5,726.1 275.2,726.8 275.9,727.5 276.6,728.2 277.3,728.9 278,729.6 278.7,730.4 279.4,731.1 280,731.8 280.7,732.6 281.4,733.4 282.1,734.1 282.8,734.9 283.5,735.7 284.2,736.4 284.8,737.2 285.5,738 286.2,738.8 286.9,739.6 287.6,740.4 288.3,741.3 289,742.1 289.6,742.9 290.3,743.7 291,744.6 291.7,745.4 292.4,746.2 293.1,747.1 293.8,747.9 294.5,748.8 295.1,749.6 295.8,750.5 296.5,751.4 297.2,752.2 297.9,753.1 298.6,754 299.3,754.8 299.9,755.7 300.6,756.6 301.3,757.5 302,758.3 302.7,759.2 303.4,760.1 304.1,761 304.7,761.9 305.4,762.8 306.1,763.7 306.8,764.6 307.5,765.5 308.2,766.4 308.9,767.3 309.6,768.2 310.2,769.1 310.9,770 311.6,770.9 312.3,771.8 313,772.7 313.7,773.6 314.4,774.5 315,775.4 315.7,776.3 316.4,777.3 317.1,778.2 317.8,779.1 318.5,780 319.2,780.9 319.8,781.8 320.5,782.7 321.2,783.6 321.9,784.5 322.6,785.4 323.3,786.4 324,787.3 324.7,788.2 325.3,789.1 326,790 326.7,790.9 327.4,791.8 328.1,792.7 328.8,793.6 329.5,794.5 330.1,795.4 330.8,796.3 331.5,797.2 332.2,798.1 332.9,799 333.6,799.9 334.3,800.8 335,801.7 335.6,802.6 336.3,803.5 337,804.4 337.7,805.3 338.4,806.2 339.1,807.1 339.8,808 340.4,808.9 341.1,809.8 341.8,810.6 342.5,811.5 343.2,812.4 343.9,813.3 344.6,814.2 345.2,815 345.9,815.9 346.6,816.8 347.3,817.7 348,818.5 348.7,819.4 349.4,820.3 350.1,821.2 350.7,822 351.4,822.9 352.1,823.7 352.8,824.6 353.5,825.5 354.2,826.3 354.9,827.2 355.5,828 356.2,828.9 356.9,829.7 357.6,830.6 358.3,831.4 359,832.2 359.7,833.1 360.3,833.9 361,834.8 361.7,835.6 362.4,836.4 363.1,837.3 363.8,838.1 364.5,838.9 365.2,839.7 365.8,840.6 366.5,841.4 367.2,842.2 367.9,843 368.6,843.8 369.3,844.6 370,845.5 370.6,846.3 371.3,847.1 372,847.9 372.7,848.7 373.4,849.5 374.1,850.3 374.8,851.1 375.5,851.8 376.1,852.6 376.8,853.4 377.5,854.2 378.2,855 378.9,855.8 379.6,856.6 380.3,857.3 380.9,858.1 381.6,858.9 382.3,859.6 383,860.4 383.7,861.2 384.4,861.9 385.1,862.7 385.7,863.5 386.4,864.2 387.1,865 387.8,865.7 388.5,866.5 389.2,867.2 389.9,868 390.6,868.7 391.2,869.4 391.9,870.2 392.6,870.9 393.3,871.7 394,872.4 394.7,873.1 395.4,873.8 396,874.6 396.7,875.3 397.4,876 398.1,876.7 398.8,877.4 399.5,878.2 400.2,878.9 400.8,879.6 401.5,880.3 402.2,881 402.9,881.7 403.6,882.4 404.3,883.1 405,883.8 405.7,884.5 406.3,885.2 407,885.8 407.7,886.5 408.4,887.2 409.1,887.9 409.8,888.6 410.5,889.3 411.1,889.9 411.8,890.6 412.5,891.3 413.2,891.9 413.9,892.6 414.6,893.3 415.3,893.9 415.9,894.6 416.6,895.3 417.3,895.9 418,896.6 418.7,897.2 419.4,897.9 420.1,898.5 420.8,899.1 421.4,899.8 422.1,900.4 422.8,901.1 423.5,901.7 424.2,902.3 424.9,903 425.6,903.6 426.2,904.2 426.9,904.9 427.6,905.5 428.3,906.1 429,906.7 429.7,907.3 430.4,907.9 431.1,908.6 431.7,909.2 432.4,909.8 433.1,910.4 433.8,911 434.5,911.6 435.2,912.2 435.9,912.8 436.5,913.4 437.2,914 437.9,914.6 438.6,915.2 439.3,915.8 440,916.3 440.7,916.9 441.3,917.5 442,918.1 442.7,918.7 443.4,919.2 444.1,919.8 444.8,920.4 445.5,921 446.2,921.5 446.8,922.1 447.5,922.7 448.2,923.2 448.9,923.8 449.6,924.3 450.3,924.9 451,925.4 451.6,926 452.3,926.6 453,927.1 453.7,927.6 454.4,928.2 455.1,928.7 455.8,929.3 456.4,929.8 457.1,930.4 457.8,930.9 458.5,931.4 459.2,932 459.9,932.5 460.6,933 461.3,933.5 461.9,934.1 462.6,934.6 463.3,935.1 464,935.6 464.7,936.2 465.4,936.7 466.1,937.2 466.7,937.7 467.4,938.2 468.1,938.7 468.8,939.2 469.5,939.7 470.2,940.2 470.9,940.7 471.5,941.2 472.2,941.7 472.9,942.2 473.6,942.7 474.3,943.2 475,943.7 475.7,944.2 476.4,944.7 477,945.2 477.7,945.7 478.4,946.1 479.1,946.6 479.8,947.1 480.5,947.6 481.2,948.1 481.8,948.5 482.5,949 483.2,949.5 483.9,950 484.6,950.4 485.3,950.9 486,951.4 486.7,951.8 487.3,952.3 488,952.8 488.7,953.2 489.4,953.7 490.1,954.1 490.8,954.6 491.5,955 492.1,955.5 492.8,955.9 493.5,956.4 494.2,956.8 494.9,957.3 495.6,957.7 496.3,958.2 496.9,958.6 497.6,959 498.3,959.5 499,959.9 499.7,960.4 500.4,960.8 501.1,961.2 501.8,961.7 502.4,962.1 503.1,962.5 503.8,962.9 504.5,963.4 505.2,963.8 505.9,964.2 506.6,964.6 507.2,965.1 507.9,965.5 508.6,965.9 509.3,966.3 510,966.7 510.7,967.1 511.4,967.5 512,968 512.7,968.4 513.4,968.8 514.1,969.2 514.8,969.6 515.5,970 516.2,970.4 516.9,970.8 517.5,971.2 518.2,971.6 518.9,972 519.6,972.4 520.3,972.8 521,973.2 521.7,973.6 522.3,973.9 523,974.3 523.7,974.7 524.4,975.1 525.1,975.5 525.8,975.9 526.5,976.3 527.1,976.6 527.8,977 528.5,977.4 529.2,977.8 529.9,978.2 530.6,978.5 531.3,978.9 532,979.3 532.6,979.6 533.3,980 534,980.4 534.7,980.8 535.4,981.1 536.1,981.5 536.8,981.9 537.4,982.2 538.1,982.6 538.8,982.9 539.5,983.3 540.2,983.7 540.9,984 541.6,984.4 542.3,984.7 542.9,985.1 543.6,985.4 544.3,985.8 545,986.1 545.7,986.5 546.4,986.8 547.1,987.2 547.7,987.5 548.4,987.9 549.1,988.2 549.8,988.6 550.5,988.9 551.2,989.2 551.9,989.6 552.5,989.9 553.2,990.3 553.9,990.6 554.6,990.9 555.3,991.3 556,991.6 556.7,991.9 557.4,992.3 558,992.6 558.7,992.9 559.4,993.3 560.1,993.6 560.8,993.9 561.5,994.2 562.2,994.6 562.8,994.9 563.5,995.2 564.2,995.5 564.9,995.8 565.6,996.2 566.3,996.5 567,996.8 567.6,997.1 568.3,997.4 569,997.7 569.7,998.1 570.4,998.4 571.1,998.7 571.8,999 572.5,999.3 573.1,999.6 573.8,999.9 574.5,1000.2 575.2,1000.5 575.9,1000.8 576.6,1001.1 577.3,1001.4 577.9,1001.7 578.6,1002 579.3,1002.3 580,1002.6 580.7,1002.9 581.4,1003.2 582.1,1003.5 582.7,1003.8 583.4,1004.1 584.1,1004.4 584.8,1004.7 585.5,1005 586.2,1005.3 586.9,1005.6 587.6,1005.9 588.2,1006.2 588.9,1006.5 589.6,1006.7 590.3,1007 591,1007.3 591.7,1007.6 592.4,1007.9 593,1008.2 593.7,1008.4 594.4,1008.7 595.1,1009 595.8,1009.3 596.5,1009.6 597.2,1009.8 597.9,1010.1 598.5,1010.4 599.2,1010.7 599.9,1010.9 600.6,1011.2 601.3,1011.5 602,1011.8 602.7,1012 603.3,1012.3 604,1012.6 604.7,1012.8 605.4,1013.1 606.1,1013.4 606.8,1013.6 607.5,1013.9 608.1,1014.2 608.8,1014.4 609.5,1014.7 610.2,1015 610.9,1015.2 611.6,1015.5 612.3,1015.7 613,1016 613.6,1016.3 614.3,1016.5 615,1016.8 615.7,1017 616.4,1017.3 617.1,1017.6 617.8,1017.8 618.4,1018.1 619.1,1018.3 619.8,1018.6 620.5,1018.8 621.2,1019.1 621.9,1019.3 622.6,1019.6 623.2,1019.8 623.9,1020.1 624.6,1020.3 625.3,1020.6 626,1020.8 626.7,1021.1 627.4,1021.3 628.1,1021.5 628.7,1021.8 629.4,1022 630.1,1022.3 630.8,1022.5 631.5,1022.8 632.2,1023 632.9,1023.2 633.5,1023.5 634.2,1023.7 634.9,1023.9 635.6,1024.2 636.3,1024.4 637,1024.7 637.7,1024.9 638.3,1025.1 639,1025.4 639.7,1025.6 640.4,1025.8 641.1,1026 641.8,1026.3 642.5,1026.5 643.2,1026.7 643.8,1027 644.5,1027.2 645.2,1027.4 645.9,1027.7 646.6,1027.9 647.3,1028.1 648,1028.3 648.6,1028.6 649.3,1028.8 650,1029 650.7,1029.2 651.4,1029.4 652.1,1029.7 652.8,1029.9 653.5,1030.1 654.1,1030.3 654.8,1030.5 655.5,1030.8 656.2,1031 656.9,1031.2 657.6,1031.4 658.3,1031.6 658.9,1031.9 659.6,1032.1 660.3,1032.3 661,1032.5 661.7,1032.7 662.4,1032.9 663.1,1033.1 663.7,1033.3 664.4,1033.6 665.1,1033.8 665.8,1034 666.5,1034.2 667.2,1034.4 667.9,1034.6 668.6,1034.8 669.2,1035 669.9,1035.2 670.6,1035.4 671.3,1035.6 672,1035.8 672.7,1036 673.4,1036.3 674,1036.5 674.7,1036.7 675.4,1036.9 676.1,1037.1 676.8,1037.3 677.5,1037.5 678.2,1037.7 678.8,1037.9 679.5,1038.1 680.2,1038.3 680.9,1038.5 681.6,1038.7 682.3,1038.9 683,1039.1 683.7,1039.3 684.3,1039.4 685,1039.6 685.7,1039.8 686.4,1040 687.1,1040.2 687.8,1040.4 688.5,1040.6 689.1,1040.8 689.8,1041 690.5,1041.2 691.2,1041.4 691.9,1041.6 692.6,1041.8 693.3,1041.9 693.9,1042.1 694.6,1042.3 695.3,1042.5 696,1042.7 696.7,1042.9 697.4,1043.1 698.1,1043.3 698.8,1043.4 699.4,1043.6 700.1,1043.8 700.8,1044 701.5,1044.2 702.2,1044.4 702.9,1044.6 703.6,1044.7 704.2,1044.9 704.9,1045.1 705.6,1045.3 706.3,1045.5 707,1045.6 707.7,1045.8 708.4,1046 709.1,1046.2 709.7,1046.4 710.4,1046.5 711.1,1046.7 711.8,1046.9 712.5,1047.1 713.2,1047.2 713.9,1047.4 714.5,1047.6 715.2,1047.8 715.9,1047.9 716.6,1048.1 717.3,1048.3 718,1048.5 718.7,1048.6 719.3,1048.8 720,1049 720.7,1049.2 721.4,1049.3 722.1,1049.5 722.8,1049.7 723.5,1049.8 724.2,1050 724.8,1050.2 725.5,1050.3 726.2,1050.5 726.9,1050.7 727.6,1050.8 728.3,1051 729,1051.2 729.6,1051.3 730.3,1051.5 731,1051.7 731.7,1051.8 732.4,1052 733.1,1052.2 733.8,1052.3 734.4,1052.5 735.1,1052.7 735.8,1052.8 736.5,1053 737.2,1053.2 737.9,1053.3 738.6,1053.5 739.3,1053.6 739.9,1053.8 740.6,1054 741.3,1054.1 742,1054.3 742.7,1054.4 743.4,1054.6 744.1,1054.8 744.7,1054.9 745.4,1055.1 746.1,1055.2 746.8,1055.4 747.5,1055.5 748.2,1055.7 748.9,1055.9 749.6,1056 750.2,1056.2 750.9,1056.3 751.6,1056.5 752.3,1056.6 753,1056.8 753.7,1056.9 754.4,1057.1 755,1057.2 755.7,1057.4 756.4,1057.5 757.1,1057.7 757.8,1057.8 758.5,1058 759.2,1058.1 759.8,1058.3 760.5,1058.4 761.2,1058.6 761.9,1058.7 762.6,1058.9 763.3,1059 764,1059.2 764.7,1059.3 765.3,1059.5 766,1059.6 766.7,1059.8 767.4,1059.9 768.1,1060.1 768.8,1060.2 769.5,1060.4 770.1,1060.5 770.8,1060.7 771.5,1060.8 772.2,1060.9 772.9,1061.1 773.6,1061.2 774.3,1061.4 774.9,1061.5 775.6,1061.7 776.3,1061.8 777,1061.9 777.7,1062.1 778.4,1062.2 779.1,1062.4 779.8,1062.5 780.4,1062.7 781.1,1062.8 781.8,1062.9 782.5,1063.1 783.2,1063.2 783.9,1063.4 784.6,1063.5 785.2,1063.6 785.9,1063.8 786.6,1063.9 787.3,1064 788,1064.2 788.7,1064.3 789.4,1064.5 790,1064.6 790.7,1064.7 791.4,1064.9 792.1,1065 792.8,1065.1 793.5,1065.3 794.2,1065.4 794.9,1065.5 795.5,1065.7 796.2,1065.8 796.9,1065.9 797.6,1066.1 798.3,1066.2 799,1066.3 799.7,1066.5 800.3,1066.6 801,1066.7 801.7,1066.9 802.4,1067 803.1,1067.1 803.8,1067.3 804.5,1067.4 805.2,1067.5 805.8,1067.6 806.5,1067.8 807.2,1067.9 807.9,1068 808.6,1068.2 809.3,1068.3 810,1068.4 810.6,1068.5 811.3,1068.7 812,1068.8 812.7,1068.9 813.4,1069.1 814.1,1069.2 814.8,1069.3 815.4,1069.4 816.1,1069.6 816.8,1069.7 817.5,1069.8 818.2,1069.9 818.9,1070.1 819.6,1070.2 820.3,1070.3 820.9,1070.4 821.6,1070.6 822.3,1070.7 823,1070.8 823.7,1070.9 824.4,1071 825.1,1071.2 825.7,1071.3 826.4,1071.4 827.1,1071.5 827.8,1071.7 828.5,1071.8 829.2,1071.9 829.9,1072 830.5,1072.1 831.2,1072.3"/>
<polyline class="mi3" points="208,759.5 208.6,757.2 209.3,755 210,752.8 210.7,750.7 211.4,748.7 212.1,746.7 212.8,744.9 213.5,743 214.1,741.2 214.8,739.5 215.5,737.9 216.2,736.3 216.9,734.7 217.6,733.3 218.3,731.8 218.9,730.4 219.6,729.1 220.3,727.8 221,726.6 221.7,725.4 222.4,724.3 223.1,723.2 223.8,722.2"/>
<use href="#gs" x="831.9" y="1072.4"/>
<polyline class="mp" points="160.6,1189.6 161.3,1189.6 162,1189.6 162.7,1189.6 163.3,1189.5 164,1189.4 164.7,1189.2 165.4,1189 166.1,1188.7 166.8,1188.3 167.5,1187.9 168.2,1187.3 168.8,1186.6 169.5,1185.8 170.2,1184.9 170.9,1183.8 171.6,1182.6 172.3,1181.3 173,1179.8 173.6,1178.1 174.3,1176.3 175,1174.3 175.7,1172.1 176.4,1169.7 177.1,1167.2 177.8,1164.4 178.4,1161.5 179.1,1158.4 179.8,1155.1 180.5,1151.6 181.2,1147.9 181.9,1144 182.6,1140 183.3,1135.7 183.9,1131.3 184.6,1126.6 185.3,1121.8 186,1116.8 186.7,1111.6 187.4,1106.3 188.1,1100.8 188.7,1095.1 189.4,1089.3 190.1,1083.3 190.8,1077.2 191.5,1070.9 192.2,1064.6 192.9,1058.1 193.5,1051.4 194.2,1044.7 194.9,1037.9 195.6,1031 196.3,1024 197,1016.9 197.7,1009.7 198.4,1002.5 199,995.3 199.7,988 200.4,980.7 201.1,973.3 201.8,966 202.5,958.6 203.2,951.3 203.8,943.9 204.5,936.6 205.2,929.3 205.9,922 206.6,914.8 207.3,907.6 208,900.5 208.6,893.5 209.3,886.5 210,879.6 210.7,872.8 211.4,866.1 212.1,859.5 212.8,853 213.5,846.6 214.1,840.4 214.8,834.2 215.5,828.2 216.2,822.3 216.9,816.5 217.6,810.9 218.3,805.4 218.9,800.1 219.6,794.9 220.3,789.8 221,784.9 221.7,780.2 222.4,775.6 223.1,771.1 223.8,766.9 224.4,762.8 225.1,758.8 225.8,755 226.5,751.4 227.2,747.9 227.9,744.6 228.6,741.4 229.2,738.4 229.9,735.5 230.6,732.9 231.3,730.3 232,727.9 232.7,725.7 233.4,723.6 234,721.7 234.7,719.9 235.4,718.2 236.1,716.7 236.8,715.3 237.5,714.1 238.2,713 238.9,712 239.5,711.2 240.2,710.4 240.9,709.8 241.6,709.3 242.3,709 243,708.7 243.7,708.6 244.3,708.5 245,708.6 245.7,708.7 246.4,709 247.1,709.3 247.8,709.7 248.5,710.3 249.1,710.9 249.8,711.6 250.5,712.3 251.2,713.2 251.9,714.1 252.6,715 253.3,716.1 254,717.2 254.6,718.4 255.3,719.6 256,720.9 256.7,722.2 257.4,723.6 258.1,725 258.8,726.5 259.4,728 260.1,729.6 260.8,731.1 261.5,732.8 262.2,734.4 262.9,736.1 263.6,737.8 264.2,739.6 264.9,741.4 265.6,743.1 266.3,745 267,746.8 267.7,748.7 268.4,750.5 269.1,752.4 269.7,754.3 270.4,756.2 271.1,758.1 271.8,760.1 272.5,762 273.2,763.9 273.9,765.9 274.5,767.8 275.2,769.8 275.9,771.7 276.6,773.7 277.3,775.7 278,777.6 278.7,779.6 279.4,781.5 280,783.5 280.7,785.4 281.4,787.4 282.1,789.3 282.8,791.2 283.5,793.2 284.2,795.1 284.8,797 285.5,798.9 286.2,800.8 286.9,802.7 287.6,804.6 288.3,806.4 289,808.3 289.6,810.1 290.3,812 291,813.8 291.7,815.6 292.4,817.4 293.1,819.2 293.8,821 294.5,822.8 295.1,824.5 295.8,826.3 296.5,828 297.2,829.8 297.9,831.5 298.6,833.2 299.3,834.9 299.9,836.5 300.6,838.2 301.3,839.8 302,841.5 302.7,843.1 303.4,844.7 304.1,846.3 304.7,847.9 305.4,849.5 306.1,851.1 306.8,852.6 307.5,854.1 308.2,855.7 308.9,857.2 309.6,858.7 310.2,860.2 310.9,861.7 311.6,863.1 312.3,864.6 313,866 313.7,867.5 314.4,868.9 315,870.3 315.7,871.7 316.4,873.1 317.1,874.4 317.8,875.8 318.5,877.2 319.2,878.5 319.8,879.8 320.5,881.2 321.2,882.5 321.9,883.8 322.6,885.1 323.3,886.3 324,887.6 324.7,888.9 325.3,890.1 326,891.3 326.7,892.6 327.4,893.8 328.1,895 328.8,896.2 329.5,897.4 330.1,898.6 330.8,899.7 331.5,900.9 332.2,902.1 332.9,903.2 333.6,904.3 334.3,905.5 335,906.6 335.6,907.7 336.3,908.8 337,909.9 337.7,911 338.4,912 339.1,913.1 339.8,914.2 340.4,915.2 341.1,916.2 341.8,917.3 342.5,918.3 343.2,919.3 343.9,920.3 344.6,921.3 345.2,922.3 345.9,923.3 346.6,924.3 347.3,925.3 348,926.3 348.7,927.2 349.4,928.2 350.1,929.1 350.7,930.1 351.4,931 352.1,931.9 352.8,932.8 353.5,933.7 354.2,934.7 354.9,935.6 355.5,936.4 356.2,937.3 356.9,938.2 357.6,939.1 358.3,940 359,940.8 359.7,941.7 360.3,942.5 361,943.4 361.7,944.2 362.4,945.1 363.1,945.9 363.8,946.7 364.5,947.5 365.2,948.3 365.8,949.1 366.5,949.9 367.2,950.7 367.9,951.5 368.6,952.3 369.3,953.1 370,953.9 370.6,954.6 371.3,955.4 372,956.2 372.7,956.9 373.4,957.7 374.1,958.4 374.8,959.2 375.5,959.9 376.1,960.6 376.8,961.4 377.5,962.1 378.2,962.8 378.9,963.5 379.6,964.2 380.3,964.9 380.9,965.6 381.6,966.3 382.3,967 383,967.7 383.7,968.4 384.4,969.1 385.1,969.7 385.7,970.4 386.4,971.1 387.1,971.7 387.8,972.4 388.5,973 389.2,973.7 389.9,974.3 390.6,975 391.2,975.6 391.9,976.3 392.6,976.9 393.3,977.5 394,978.1 394.7,978.8 395.4,979.4 396,980 396.7,980.6 397.4,981.2 398.1,981.8 398.8,982.4 399.5,983 400.2,983.6 400.8,984.2 401.5,984.8 402.2,985.4 402.9,985.9 403.6,986.5 404.3,987.1 405,987.6 405.7,988.2 406.3,988.8 407,989.3 407.7,989.9 408.4,990.4 409.1,991 409.8,991.5 410.5,992.1 411.1,992.6 411.8,993.2 412.5,993.7 413.2,994.2 413.9,994.8 414.6,995.3 415.3,995.8 415.9,996.3 416.6,996.9 417.3,997.4 418,997.9 418.7,998.4 419.4,998.9 420.1,999.4 420.8,999.9 421.4,1000.4 422.1,1000.9 422.8,1001.4 423.5,1001.9 424.2,1002.4 424.9,1002.9 425.6,1003.3 426.2,1003.8 426.9,1004.3 427.6,1004.8 428.3,1005.3 429,1005.7 429.7,1006.2 430.4,1006.7 431.1,1007.1 431.7,1007.6 432.4,1008 433.1,1008.5 433.8,1009 434.5,1009.4 435.2,1009.9 435.9,1010.3 436.5,1010.8 437.2,1011.2 437.9,1011.6 438.6,1012.1 439.3,1012.5 440,1013 440.7,1013.4 441.3,1013.8 442,1014.2 442.7,1014.7 443.4,1015.1 444.1,1015.5 444.8,1015.9 445.5,1016.4 446.2,1016.8 446.8,1017.2 447.5,1017.6 448.2,1018 448.9,1018.4 449.6,1018.8 450.3,1019.2 451,1019.6 451.6,1020 452.3,1020.4 453,1020.8 453.7,1021.2 454.4,1021.6 455.1,1022 455.8,1022.4 456.4,1022.8 457.1,1023.2 457.8,1023.6 458.5,1023.9 459.2,1024.3 459.9,1024.7 460.6,1025.1 461.3,1025.5 461.9,1025.8 462.6,1026.2 463.3,1026.6 464,1026.9 464.7,1027.3 465.4,1027.7 466.1,1028 466.7,1028.4 467.4,1028.8 468.1,1029.1 468.8,1029.5 469.5,1029.8 470.2,1030.2 470.9,1030.5 471.5,1030.9 472.2,1031.2 472.9,1031.6 473.6,1031.9 474.3,1032.3 475,1032.6 475.7,1033 476.4,1033.3 477,1033.6 477.7,1034 478.4,1034.3 479.1,1034.7 479.8,1035 480.5,1035.3 481.2,1035.6 481.8,1036 482.5,1036.3 483.2,1036.6 483.9,1037 484.6,1037.3 485.3,1037.6 486,1037.9 486.7,1038.2 487.3,1038.6 488,1038.9 488.7,1039.2 489.4,1039.5 490.1,1039.8 490.8,1040.1 491.5,1040.4 492.1,1040.7 492.8,1041.1 493.5,1041.4 494.2,1041.7 494.9,1042 495.6,1042.3 496.3,1042.6 496.9,1042.9 497.6,1043.2 498.3,1043.5 499,1043.8 499.7,1044.1 500.4,1044.4 501.1,1044.7 501.8,1044.9 502.4,1045.2 503.1,1045.5 503.8,1045.8 504.5,1046.1 505.2,1046.4 505.9,1046.7 506.6,1047 507.2,1047.2 507.9,1047.5 508.6,1047.8 509.3,1048.1 510,1048.4 510.7,1048.6 511.4,1048.9 512,1049.2 512.7,1049.5 513.4,1049.7 514.1,1050 514.8,1050.3 515.5,1050.5 516.2,1050.8 516.9,1051.1 517.5,1051.3 518.2,1051.6 518.9,1051.9 519.6,1052.1 520.3,1052.4 521,1052.7 521.7,1052.9 522.3,1053.2 523,1053.4 523.7,1053.7 524.4,1053.9 525.1,1054.2 525.8,1054.5 526.5,1054.7 527.1,1055 527.8,1055.2 528.5,1055.5 529.2,1055.7 529.9,1056 530.6,1056.2 531.3,1056.5 532,1056.7 532.6,1057 533.3,1057.2 534,1057.4 534.7,1057.7 535.4,1057.9 536.1,1058.2 536.8,1058.4 537.4,1058.6 538.1,1058.9 538.8,1059.1 539.5,1059.4 540.2,1059.6 540.9,1059.8 541.6,1060.1 542.3,1060.3 542.9,1060.5 543.6,1060.8 544.3,1061 545,1061.2 545.7,1061.4 546.4,1061.7 547.1,1061.9 547.7,1062.1 548.4,1062.4 549.1,1062.6 549.8,1062.8 550.5,1063 551.2,1063.2 551.9,1063.5 552.5,1063.7 553.2,1063.9 553.9,1064.1 554.6,1064.3 555.3,1064.6 556,1064.8 556.7,1065 557.4,1065.2 558,1065.4 558.7,1065.6 559.4,1065.9 560.1,1066.1 560.8,1066.3 561.5,1066.5 562.2,1066.7 562.8,1066.9 563.5,1067.1 564.2,1067.3 564.9,1067.5 565.6,1067.7 566.3,1068 567,1068.2 567.6,1068.4 568.3,1068.6 569,1068.8 569.7,1069 570.4,1069.2 571.1,1069.4 571.8,1069.6 572.5,1069.8 573.1,1070 573.8,1070.2 574.5,1070.4 575.2,1070.6 575.9,1070.8 576.6,1071 577.3,1071.2 577.9,1071.4 578.6,1071.5 579.3,1071.7 580,1071.9 580.7,1072.1 581.4,1072.3 582.1,1072.5 582.7,1072.7 583.4,1072.9 584.1,1073.1 584.8,1073.3 585.5,1073.5 586.2,1073.6 586.9,1073.8 587.6,1074 588.2,1074.2 588.9,1074.4 589.6,1074.6 590.3,1074.8 591,1074.9 591.7,1075.1 592.4,1075.3 593,1075.5 593.7,1075.7 594.4,1075.8 595.1,1076 595.8,1076.2 596.5,1076.4 597.2,1076.6 597.9,1076.7 598.5,1076.9 599.2,1077.1 599.9,1077.3 600.6,1077.4 601.3,1077.6 602,1077.8 602.7,1078 603.3,1078.1 604,1078.3 604.7,1078.5 605.4,1078.7 606.1,1078.8 606.8,1079 607.5,1079.2 608.1,1079.3 608.8,1079.5 609.5,1079.7 610.2,1079.8 610.9,1080 611.6,1080.2 612.3,1080.3 613,1080.5 613.6,1080.7 614.3,1080.8 615,1081 615.7,1081.2 616.4,1081.3 617.1,1081.5 617.8,1081.6 618.4,1081.8 619.1,1082 619.8,1082.1 620.5,1082.3 621.2,1082.5 621.9,1082.6 622.6,1082.8 623.2,1082.9 623.9,1083.1 624.6,1083.2 625.3,1083.4 626,1083.6 626.7,1083.7 627.4,1083.9 628.1,1084 628.7,1084.2 629.4,1084.3 630.1,1084.5 630.8,1084.6 631.5,1084.8 632.2,1084.9 632.9,1085.1 633.5,1085.3 634.2,1085.4 634.9,1085.6 635.6,1085.7 636.3,1085.9 637,1086 637.7,1086.2 638.3,1086.3 639,1086.5 639.7,1086.6 640.4,1086.7 641.1,1086.9 641.8,1087 642.5,1087.2 643.2,1087.3 643.8,1087.5 644.5,1087.6 645.2,1087.8 645.9,1087.9 646.6,1088.1 647.3,1088.2 648,1088.3 648.6,1088.5 649.3,1088.6 650,1088.8 650.7,1088.9 651.4,1089 652.1,1089.2 652.8,1089.3 653.5,1089.5 654.1,1089.6 654.8,1089.7 655.5,1089.9 656.2,1090 656.9,1090.2 657.6,1090.3 658.3,1090.4 658.9,1090.6 659.6,1090.7 660.3,1090.8 661,1091 661.7,1091.1 662.4,1091.2 663.1,1091.4 663.7,1091.5 664.4,1091.7 665.1,1091.8 665.8,1091.9 666.5,1092 667.2,1092.2 667.9,1092.3 668.6,1092.4 669.2,1092.6 669.9,1092.7 670.6,1092.8 671.3,1093 672,1093.1 672.7,1093.2 673.4,1093.4 674,1093.5 674.7,1093.6 675.4,1093.7 676.1,1093.9 676.8,1094 677.5,1094.1 678.2,1094.2 678.8,1094.4 679.5,1094.5 680.2,1094.6 680.9,1094.8 681.6,1094.9 682.3,1095 683,1095.1 683.7,1095.2 684.3,1095.4 685,1095.5 685.7,1095.6 686.4,1095.7 687.1,1095.9 687.8,1096 688.5,1096.1 689.1,1096.2 689.8,1096.4 690.5,1096.5 691.2,1096.6 691.9,1096.7 692.6,1096.8 693.3,1097 693.9,1097.1 694.6,1097.2 695.3,1097.3 696,1097.4 696.7,1097.5 697.4,1097.7 698.1,1097.8 698.8,1097.9 699.4,1098 700.1,1098.1 700.8,1098.2 701.5,1098.4 702.2,1098.5 702.9,1098.6 703.6,1098.7 704.2,1098.8 704.9,1098.9 705.6,1099.1 706.3,1099.2 707,1099.3 707.7,1099.4 708.4,1099.5 709.1,1099.6 709.7,1099.7 710.4,1099.8 711.1,1100 711.8,1100.1 712.5,1100.2 713.2,1100.3 713.9,1100.4 714.5,1100.5 715.2,1100.6 715.9,1100.7 716.6,1100.8 717.3,1101 718,1101.1 718.7,1101.2 719.3,1101.3 720,1101.4 720.7,1101.5 721.4,1101.6 722.1,1101.7 722.8,1101.8 723.5,1101.9 724.2,1102 724.8,1102.1 725.5,1102.2 726.2,1102.3 726.9,1102.5 727.6,1102.6 728.3,1102.7 729,1102.8 729.6,1102.9 730.3,1103 731,1103.1 731.7,1103.2 732.4,1103.3 733.1,1103.4 733.8,1103.5 734.4,1103.6 735.1,1103.7 735.8,1103.8 736.5,1103.9 737.2,1104 737.9,1104.1 738.6,1104.2 739.3,1104.3 739.9,1104.4 740.6,1104.5 741.3,1104.6 742,1104.7 742.7,1104.8 743.4,1104.9 744.1,1105 744.7,1105.1 745.4,1105.2 746.1,1105.3 746.8,1105.4 747.5,1105.5 748.2,1105.6 748.9,1105.7 749.6,1105.8 750.2,1105.9 750.9,1106 751.6,1106.1 752.3,1106.2 753,1106.3 753.7,1106.4 754.4,1106.5 755,1106.6 755.7,1106.7 756.4,1106.8 757.1,1106.9 757.8,1107 758.5,1107.1 759.2,1107.2 759.8,1107.2 760.5,1107.3 761.2,1107.4 761.9,1107.5 762.6,1107.6 763.3,1107.7 764,1107.8 764.7,1107.9 765.3,1108 766,1108.1 766.7,1108.2 767.4,1108.3 768.1,1108.4 768.8,1108.5 769.5,1108.5 770.1,1108.6 770.8,1108.7 771.5,1108.8 772.2,1108.9 772.9,1109 773.6,1109.1 774.3,1109.2 774.9,1109.3 775.6,1109.4 776.3,1109.4 777,1109.5 777.7,1109.6 778.4,1109.7 779.1,1109.8 779.8,1109.9 780.4,1110 781.1,1110.1 781.8,1110.2 782.5,1110.2 783.2,1110.3 783.9,1110.4 784.6,1110.5 785.2,1110.6 785.9,1110.7 786.6,1110.8 787.3,1110.9 788,1110.9 788.7,1111 789.4,1111.1 790,1111.2 790.7,1111.3 791.4,1111.4 792.1,1111.5 792.8,1111.5 793.5,1111.6 794.2,1111.7 794.9,1111.8 795.5,1111.9 796.2,1112 796.9,1112 797.6,1112.1 798.3,1112.2 799,1112.3 799.7,1112.4 800.3,1112.5 801,1112.5 801.7,1112.6 802.4,1112.7 803.1,1112.8 803.8,1112.9 804.5,1113 805.2,1113 805.8,1113.1 806.5,1113.2 807.2,1113.3 807.9,1113.4 808.6,1113.4 809.3,1113.5 810,1113.6 810.6,1113.7 811.3,1113.8 812,1113.8 812.7,1113.9 813.4,1114 814.1,1114.1 814.8,1114.2 815.4,1114.2 816.1,1114.3 816.8,1114.4 817.5,1114.5 818.2,1114.6 818.9,1114.6 819.6,1114.7 820.3,1114.8 820.9,1114.9 821.6,1114.9 822.3,1115 823,1115.1 823.7,1115.2 824.4,1115.3 825.1,1115.3 825.7,1115.4 826.4,1115.5 827.1,1115.6 827.8,1115.6 828.5,1115.7 829.2,1115.8 829.9,1115.9 830.5,1115.9 831.2,1116 831.9,1116.1"/>
<polyline class="mp2" points="160.6,1189.6 161.3,1189.6 162,1189.6 162.7,1189.6 163.3,1189.5 164,1189.4 164.7,1189.2 165.4,1189 166.1,1188.7 166.8,1188.3 167.5,1187.9 168.2,1187.3 168.8,1186.6 169.5,1185.8"/>
<polyline class="mp2" points="238.2,713 238.9,712 239.5,711.2 240.2,710.4 240.9,709.8 241.6,709.3 242.3,709 243,708.7 243.7,708.6 244.3,708.5 245,708.6 245.7,708.7 246.4,709 247.1,709.3 247.8,709.7 248.5,710.3 249.1,710.9 249.8,711.6 250.5,712.3 251.2,713.2 251.9,714.1"/>
<polyline class="mp2" points="345.9,923.3 346.6,924.3 347.3,925.3 348,926.3 348.7,927.2 349.4,928.2 350.1,929.1 350.7,930.1 351.4,931 352.1,931.9 352.8,932.8 353.5,933.7 354.2,934.7 354.9,935.6 355.5,936.4 356.2,937.3 356.9,938.2 357.6,939.1 358.3,940 359,940.8 359.7,941.7 360.3,942.5 361,943.4 361.7,944.2 362.4,945.1 363.1,945.9 363.8,946.7 364.5,947.5 365.2,948.3 365.8,949.1 366.5,949.9 367.2,950.7 367.9,951.5 368.6,952.3 369.3,953.1 370,953.9 370.6,954.6 371.3,955.4 372,956.2 372.7,956.9 373.4,957.7 374.1,958.4 374.8,959.2 375.5,959.9 376.1,960.6 376.8,961.4 377.5,962.1 378.2,962.8 378.9,963.5 379.6,964.2 380.3,964.9 380.9,965.6 381.6,966.3 382.3,967 383,967.7 383.7,968.4 384.4,969.1 385.1,969.7 385.7,970.4 386.4,971.1 387.1,971.7 387.8,972.4 388.5,973 389.2,973.7 389.9,974.3 390.6,975 391.2,975.6 391.9,976.3 392.6,976.9 393.3,977.5 394,978.1 394.7,978.8 395.4,979.4 396,980 396.7,980.6 397.4,981.2 398.1,981.8 398.8,982.4 399.5,983 400.2,983.6 400.8,984.2 401.5,984.8 402.2,985.4 402.9,985.9 403.6,986.5 404.3,987.1 405,987.6 405.7,988.2 406.3,988.8 407,989.3 407.7,989.9 408.4,990.4 409.1,991 409.8,991.5 410.5,992.1 411.1,992.6 411.8,993.2 412.5,993.7 413.2,994.2 413.9,994.8 414.6,995.3 415.3,995.8 415.9,996.3 416.6,996.9 417.3,997.4 418,997.9 418.7,998.4 419.4,998.9 420.1,999.4 420.8,999.9 421.4,1000.4 422.1,1000.9 422.8,1001.4 423.5,1001.9 424.2,1002.4 424.9,1002.9 425.6,1003.3 426.2,1003.8 426.9,1004.3 427.6,1004.8 428.3,1005.3 429,1005.7 429.7,1006.2 430.4,1006.7 431.1,1007.1 431.7,1007.6 432.4,1008 433.1,1008.5 433.8,1009 434.5,1009.4 435.2,1009.9 435.9,1010.3 436.5,1010.8 437.2,1011.2 437.9,1011.6 438.6,1012.1 439.3,1012.5 440,1013 440.7,1013.4 441.3,1013.8 442,1014.2 442.7,1014.7 443.4,1015.1 444.1,1015.5 444.8,1015.9 445.5,1016.4 446.2,1016.8 446.8,1017.2 447.5,1017.6 448.2,1018 448.9,1018.4 449.6,1018.8 450.3,1019.2 451,1019.6 451.6,1020 452.3,1020.4 453,1020.8 453.7,1021.2 454.4,1021.6 455.1,1022 455.8,1022.4 456.4,1022.8 457.1,1023.2 457.8,1023.6 458.5,1023.9 459.2,1024.3 459.9,1024.7 460.6,1025.1 461.3,1025.5 461.9,1025.8 462.6,1026.2 463.3,1026.6 464,1026.9 464.7,1027.3 465.4,1027.7 466.1,1028 466.7,1028.4 467.4,1028.8 468.1,1029.1 468.8,1029.5 469.5,1029.8 470.2,1030.2 470.9,1030.5 471.5,1030.9 472.2,1031.2 472.9,1031.6 473.6,1031.9 474.3,1032.3 475,1032.6 475.7,1033 476.4,1033.3 477,1033.6 477.7,1034 478.4,1034.3 479.1,1034.7 479.8,1035 480.5,1035.3 481.2,1035.6 481.8,1036 482.5,1036.3 483.2,1036.6 483.9,1037 484.6,1037.3 485.3,1037.6 486,1037.9 486.7,1038.2 487.3,1038.6 488,1038.9 488.7,1039.2 489.4,1039.5 490.1,1039.8 490.8,1040.1 491.5,1040.4 492.1,1040.7 492.8,1041.1 493.5,1041.4 494.2,1041.7 494.9,1042 495.6,1042.3 496.3,1042.6 496.9,1042.9 497.6,1043.2 498.3,1043.5 499,1043.8 499.7,1044.1 500.4,1044.4 501.1,1044.7 501.8,1044.9 502.4,1045.2 503.1,1045.5 503.8,1045.8 504.5,1046.1 505.2,1046.4 505.9,1046.7 506.6,1047 507.2,1047.2 507.9,1047.5 508.6,1047.8 509.3,1048.1 510,1048.4 510.7,1048.6 511.4,1048.9 512,1049.2 512.7,1049.5 513.4,1049.7 514.1,1050 514.8,1050.3 515.5,1050.5 516.2,1050.8 516.9,1051.1 517.5,1051.3 518.2,1051.6 518.9,1051.9 519.6,1052.1 520.3,1052.4 521,1052.7 521.7,1052.9 522.3,1053.2 523,1053.4 523.7,1053.7 524.4,1053.9 525.1,1054.2 525.8,1054.5 526.5,1054.7 527.1,1055 527.8,1055.2 528.5,1055.5 529.2,1055.7 529.9,1056 530.6,1056.2 531.3,1056.5 532,1056.7 532.6,1057 533.3,1057.2 534,1057.4 534.7,1057.7 535.4,1057.9 536.1,1058.2 536.8,1058.4 537.4,1058.6 538.1,1058.9 538.8,1059.1 539.5,1059.4 540.2,1059.6 540.9,1059.8 541.6,1060.1 542.3,1060.3 542.9,1060.5 543.6,1060.8 544.3,1061 545,1061.2 545.7,1061.4 546.4,1061.7 547.1,1061.9 547.7,1062.1 548.4,1062.4 549.1,1062.6 549.8,1062.8 550.5,1063 551.2,1063.2 551.9,1063.5 552.5,1063.7 553.2,1063.9 553.9,1064.1 554.6,1064.3 555.3,1064.6 556,1064.8 556.7,1065 557.4,1065.2 558,1065.4 558.7,1065.6 559.4,1065.9 560.1,1066.1 560.8,1066.3 561.5,1066.5 562.2,1066.7 562.8,1066.9 563.5,1067.1 564.2,1067.3 564.9,1067.5 565.6,1067.7 566.3,1068 567,1068.2 567.6,1068.4 568.3,1068.6 569,1068.8 569.7,1069 570.4,1069.2 571.1,1069.4 571.8,1069.6 572.5,1069.8 573.1,1070 573.8,1070.2 574.5,1070.4 575.2,1070.6 575.9,1070.8 576.6,1071 577.3,1071.2 577.9,1071.4 578.6,1071.5 579.3,1071.7 580,1071.9 580.7,1072.1 581.4,1072.3 582.1,1072.5 582.7,1072.7 583.4,1072.9 584.1,1073.1 584.8,1073.3 585.5,1073.5 586.2,1073.6 586.9,1073.8 587.6,1074 588.2,1074.2 588.9,1074.4 589.6,1074.6 590.3,1074.8 591,1074.9 591.7,1075.1 592.4,1075.3 593,1075.5 593.7,1075.7 594.4,1075.8 595.1,1076 595.8,1076.2 596.5,1076.4 597.2,1076.6 597.9,1076.7 598.5,1076.9 599.2,1077.1 599.9,1077.3 600.6,1077.4 601.3,1077.6 602,1077.8 602.7,1078 603.3,1078.1 604,1078.3 604.7,1078.5 605.4,1078.7 606.1,1078.8 606.8,1079 607.5,1079.2 608.1,1079.3 608.8,1079.5 609.5,1079.7 610.2,1079.8 610.9,1080 611.6,1080.2 612.3,1080.3 613,1080.5 613.6,1080.7 614.3,1080.8 615,1081 615.7,1081.2 616.4,1081.3 617.1,1081.5 617.8,1081.6 618.4,1081.8 619.1,1082 619.8,1082.1 620.5,1082.3 621.2,1082.5 621.9,1082.6 622.6,1082.8 623.2,1082.9 623.9,1083.1 624.6,1083.2 625.3,1083.4 626,1083.6 626.7,1083.7 627.4,1083.9 628.1,1084 628.7,1084.2 629.4,1084.3 630.1,1084.5 630.8,1084.6 631.5,1084.8 632.2,1084.9 632.9,1085.1 633.5,1085.3 634.2,1085.4 634.9,1085.6 635.6,1085.7 636.3,1085.9 637,1086 637.7,1086.2 638.3,1086.3 639,1086.5 639.7,1086.6 640.4,1086.7 641.1,1086.9 641.8,1087 642.5,1087.2 643.2,1087.3 643.8,1087.5 644.5,1087.6 645.2,1087.8 645.9,1087.9 646.6,1088.1 647.3,1088.2 648,1088.3 648.6,1088.5 649.3,1088.6 650,1088.8 650.7,1088.9 651.4,1089 652.1,1089.2 652.8,1089.3 653.5,1089.5 654.1,1089.6 654.8,1089.7 655.5,1089.9 656.2,1090 656.9,1090.2 657.6,1090.3 658.3,1090.4 658.9,1090.6 659.6,1090.7 660.3,1090.8 661,1091 661.7,1091.1 662.4,1091.2 663.1,1091.4 663.7,1091.5 664.4,1091.7 665.1,1091.8 665.8,1091.9 666.5,1092 667.2,1092.2 667.9,1092.3 668.6,1092.4 669.2,1092.6 669.9,1092.7 670.6,1092.8 671.3,1093 672,1093.1 672.7,1093.2 673.4,1093.4 674,1093.5 674.7,1093.6 675.4,1093.7 676.1,1093.9 676.8,1094 677.5,1094.1 678.2,1094.2 678.8,1094.4 679.5,1094.5 680.2,1094.6 680.9,1094.8 681.6,1094.9 682.3,1095 683,1095.1 683.7,1095.2 684.3,1095.4 685,1095.5 685.7,1095.6 686.4,1095.7 687.1,1095.9 687.8,1096 688.5,1096.1 689.1,1096.2 689.8,1096.4 690.5,1096.5 691.2,1096.6 691.9,1096.7 692.6,1096.8 693.3,1097 693.9,1097.1 694.6,1097.2 695.3,1097.3 696,1097.4 696.7,1097.5 697.4,1097.7 698.1,1097.8 698.8,1097.9 699.4,1098 700.1,1098.1 700.8,1098.2 701.5,1098.4 702.2,1098.5 702.9,1098.6 703.6,1098.7 704.2,1098.8 704.9,1098.9 705.6,1099.1 706.3,1099.2 707,1099.3 707.7,1099.4 708.4,1099.5 709.1,1099.6 709.7,1099.7 710.4,1099.8 711.1,1100 711.8,1100.1 712.5,1100.2 713.2,1100.3 713.9,1100.4 714.5,1100.5 715.2,1100.6 715.9,1100.7 716.6,1100.8 717.3,1101 718,1101.1 718.7,1101.2 719.3,1101.3 720,1101.4 720.7,1101.5 721.4,1101.6 722.1,1101.7 722.8,1101.8 723.5,1101.9 724.2,1102 724.8,1102.1 725.5,1102.2 726.2,1102.3 726.9,1102.5 727.6,1102.6 728.3,1102.7 729,1102.8 729.6,1102.9 730.3,1103 731,1103.1 731.7,1103.2 732.4,1103.3 733.1,1103.4 733.8,1103.5 734.4,1103.6 735.1,1103.7 735.8,1103.8 736.5,1103.9 737.2,1104 737.9,1104.1 738.6,1104.2 739.3,1104.3 739.9,1104.4 740.6,1104.5 741.3,1104.6 742,1104.7 742.7,1104.8 743.4,1104.9 744.1,1105 744.7,1105.1 745.4,1105.2 746.1,1105.3 746.8,1105.4 747.5,1105.5 748.2,1105.6 748.9,1105.7 749.6,1105.8 750.2,1105.9 750.9,1106 751.6,1106.1 752.3,1106.2 753,1106.3 753.7,1106.4 754.4,1106.5 755,1106.6 755.7,1106.7 756.4,1106.8 757.1,1106.9 757.8,1107 758.5,1107.1 759.2,1107.2 759.8,1107.2 760.5,1107.3 761.2,1107.4 761.9,1107.5 762.6,1107.6 763.3,1107.7 764,1107.8 764.7,1107.9 765.3,1108 766,1108.1 766.7,1108.2 767.4,1108.3 768.1,1108.4 768.8,1108.5 769.5,1108.5 770.1,1108.6 770.8,1108.7 771.5,1108.8 772.2,1108.9 772.9,1109 773.6,1109.1 774.3,1109.2 774.9,1109.3 775.6,1109.4 776.3,1109.4 777,1109.5 777.7,1109.6 778.4,1109.7 779.1,1109.8 779.8,1109.9 780.4,1110 781.1,1110.1 781.8,1110.2 782.5,1110.2 783.2,1110.3 783.9,1110.4 784.6,1110.5 785.2,1110.6 785.9,1110.7 786.6,1110.8 787.3,1110.9 788,1110.9 788.7,1111 789.4,1111.1 790,1111.2 790.7,1111.3 791.4,1111.4 792.1,1111.5 792.8,1111.5 793.5,1111.6 794.2,1111.7 794.9,1111.8 795.5,1111.9 796.2,1112 796.9,1112 797.6,1112.1 798.3,1112.2 799,1112.3 799.7,1112.4 800.3,1112.5 801,1112.5 801.7,1112.6 802.4,1112.7 803.1,1112.8 803.8,1112.9 804.5,1113 805.2,1113 805.8,1113.1 806.5,1113.2 807.2,1113.3 807.9,1113.4 808.6,1113.4 809.3,1113.5 810,1113.6 810.6,1113.7 811.3,1113.8 812,1113.8 812.7,1113.9 813.4,1114 814.1,1114.1 814.8,1114.2 815.4,1114.2 816.1,1114.3 816.8,1114.4 817.5,1114.5 818.2,1114.6 818.9,1114.6 819.6,1114.7 820.3,1114.8 820.9,1114.9 821.6,1114.9 822.3,1115 823,1115.1 823.7,1115.2 824.4,1115.3 825.1,1115.3 825.7,1115.4 826.4,1115.5 827.1,1115.6 827.8,1115.6 828.5,1115.7 829.2,1115.8 829.9,1115.9 830.5,1115.9 831.2,1116"/>
<polyline class="mp3" points="170.2,1184.9 170.9,1183.8 171.6,1182.6 172.3,1181.3 173,1179.8 173.6,1178.1 174.3,1176.3 175,1174.3"/>
<polyline class="mp3" points="232,727.9 232.7,725.7 233.4,723.6 234,721.7 234.7,719.9 235.4,718.2 236.1,716.7 236.8,715.3 237.5,714.1"/>
<polyline class="mp3" points="252.6,715 253.3,716.1 254,717.2 254.6,718.4 255.3,719.6 256,720.9 256.7,722.2 257.4,723.6 258.1,725 258.8,726.5 259.4,728 260.1,729.6 260.8,731.1 261.5,732.8 262.2,734.4 262.9,736.1 263.6,737.8 264.2,739.6 264.9,741.4 265.6,743.1 266.3,745 267,746.8 267.7,748.7 268.4,750.5 269.1,752.4 269.7,754.3 270.4,756.2 271.1,758.1 271.8,760.1 272.5,762 273.2,763.9 273.9,765.9 274.5,767.8 275.2,769.8 275.9,771.7 276.6,773.7 277.3,775.7 278,777.6 278.7,779.6 279.4,781.5 280,783.5 280.7,785.4 281.4,787.4 282.1,789.3 282.8,791.2 283.5,793.2 284.2,795.1 284.8,797 285.5,798.9 286.2,800.8 286.9,802.7 287.6,804.6 288.3,806.4 289,808.3 289.6,810.1 290.3,812 291,813.8 291.7,815.6 292.4,817.4 293.1,819.2 293.8,821 294.5,822.8 295.1,824.5 295.8,826.3 296.5,828 297.2,829.8 297.9,831.5 298.6,833.2 299.3,834.9 299.9,836.5 300.6,838.2 301.3,839.8 302,841.5 302.7,843.1 303.4,844.7 304.1,846.3 304.7,847.9 305.4,849.5 306.1,851.1 306.8,852.6 307.5,854.1 308.2,855.7 308.9,857.2 309.6,858.7 310.2,860.2 310.9,861.7 311.6,863.1 312.3,864.6 313,866 313.7,867.5 314.4,868.9 315,870.3 315.7,871.7 316.4,873.1 317.1,874.4 317.8,875.8 318.5,877.2 319.2,878.5 319.8,879.8 320.5,881.2 321.2,882.5 321.9,883.8 322.6,885.1 323.3,886.3 324,887.6 324.7,888.9 325.3,890.1 326,891.3 326.7,892.6 327.4,893.8 328.1,895 328.8,896.2 329.5,897.4 330.1,898.6 330.8,899.7 331.5,900.9 332.2,902.1 332.9,903.2 333.6,904.3 334.3,905.5 335,906.6 335.6,907.7 336.3,908.8 337,909.9 337.7,911 338.4,912 339.1,913.1 339.8,914.2 340.4,915.2 341.1,916.2 341.8,917.3 342.5,918.3 343.2,919.3 343.9,920.3 344.6,921.3 345.2,922.3"/>
<use href="#gc" x="831.9" y="1116.1"/>
<path d="M160.2 1101.7C160.5 1104.1 161.3 1112.5 161.9 1116.3C162.5 1120.1 163.2 1122.3 164.0 1124.5C164.8 1126.7 165.7 1128.9 166.6 1129.6C167.5 1130.3 168.4 1129.5 169.3 1128.8C170.2 1128.1 170.6 1128.8 171.9 1125.6C173.2 1122.4 175.6 1115.7 177.2 1109.7C178.8 1103.7 180.0 1097.5 181.2 1089.8C182.4 1082.0 183.4 1073.2 184.5 1063.2C185.6 1053.2 186.4 1043.3 187.8 1030.0C189.2 1016.6 191.5 999.4 193.2 983.1C194.9 966.8 196.3 949.2 197.9 932.3C199.5 915.4 201.3 898.5 203.0 881.6C204.7 864.7 206.5 844.3 208.0 830.8C209.5 817.2 210.2 811.1 212.1 800.3C214.0 789.5 217.2 775.5 219.3 766.0C221.5 756.5 223.1 749.8 225.0 743.1C226.9 736.4 228.8 730.7 230.7 725.9C232.6 721.1 234.6 717.3 236.5 714.4C238.4 711.5 240.4 709.7 242.2 708.7C243.9 707.8 245.4 708.2 247.0 708.7C248.6 709.2 250.1 710.4 251.8 711.5C253.6 712.6 255.4 714.4 257.5 715.4C259.6 716.4 261.3 715.7 264.2 717.3C267.1 718.9 271.3 722.0 274.7 724.9C278.1 727.8 281.4 731.6 284.3 734.5C287.2 737.4 289.0 738.8 291.9 742.1C294.8 745.5 297.8 749.4 301.5 754.6C305.2 759.8 309.8 767.2 314.3 773.5C318.8 779.8 323.1 785.4 328.7 792.6C334.3 799.8 341.8 810.3 347.8 816.5C353.8 822.7 358.5 824.2 364.5 829.6C370.5 835.0 377.6 843.7 383.6 848.7C389.6 853.7 395.2 855.9 400.4 859.5C405.6 863.1 410.3 866.4 414.7 870.2C419.1 874.0 421.8 878.8 426.6 882.2C431.4 885.6 437.2 887.2 443.4 890.5C449.6 893.8 456.1 897.8 463.9 901.8C471.7 905.8 482.2 911.3 490.2 914.5C498.2 917.7 505.7 919.1 511.7 920.9C517.7 922.6 523.1 923.5 526.0 925.0C528.9 926.5 524.1 928.1 528.9 930.0C533.7 931.9 547.2 934.2 554.7 936.5C562.2 938.8 566.6 941.4 573.8 943.6C581.0 945.8 590.5 947.7 597.7 949.6C604.9 951.5 610.5 954.2 616.8 954.9C623.1 955.6 629.5 953.8 635.6 953.7C641.8 953.6 646.8 953.6 653.7 954.5C660.6 955.4 669.6 957.9 677.0 958.9C684.4 959.9 689.1 960.1 697.8 960.7C706.4 961.3 720.7 961.7 728.9 962.3C737.1 962.9 741.4 963.1 747.0 964.1C752.6 965.1 757.0 967.7 762.6 968.2C768.2 968.7 774.2 967.0 780.7 967.2C787.2 967.4 793.7 968.5 801.5 969.3C809.3 970.1 823.1 971.5 827.4 971.9" fill="none" stroke="#000" stroke-width="2.9" stroke-linejoin="round" stroke-linecap="round"/>
</g>
<text x="152.5" y="61.3" font-size="32" font-weight="bold">(a)</text>
<text x="142.9" y="719.5" font-size="32.5" font-weight="bold">(b)</text>
<rect x="647.2" y="34.9" width="119.5" height="90.6" fill="#fff" stroke="#333" stroke-width="1.1"/>
<use href="#star" x="666.0" y="38.3"/>
<circle cx="678.0" cy="80.3" r="8" fill="#fff" stroke="#f60" stroke-width="1.5"/>
<line x1="649.6" y1="111.5" x2="705.0" y2="111.5" stroke="#000" stroke-width="3.8" stroke-linecap="round"/>
<text x="712.6" y="57.8" font-size="24.5" stroke="#000" stroke-width="0.3">Int</text>
<text x="712.6" y="88.5" font-size="24.5" stroke="#000" stroke-width="0.3">Prog</text>
<text x="712.6" y="119.2" font-size="24.5" stroke="#000" stroke-width="0.3">Exp</text>
<rect x="626.9" y="688.3" width="120.2" height="90.7" fill="#fff" stroke="#333" stroke-width="1.1"/>
<use href="#star" x="645.7" y="691.7"/>
<circle cx="657.7" cy="733.7" r="8" fill="#fff" stroke="#f60" stroke-width="1.5"/>
<line x1="629.3" y1="764.9" x2="684.6999999999999" y2="764.9" stroke="#000" stroke-width="2.6" stroke-linecap="round"/>
<text x="692.3" y="711.2" font-size="24.5" stroke="#000" stroke-width="0.3">Inst</text>
<text x="692.3" y="741.9" font-size="24.5" stroke="#000" stroke-width="0.3">Prog</text>
<text x="692.3" y="772.6" font-size="24.5" stroke="#000" stroke-width="0.3">Exp</text>
<text x="448.2" y="610.2" font-size="26.5" stroke="#000" stroke-width="0.3">t/t</text>
<text x="470.6" y="620.6" font-size="17" letter-spacing="-0.9">max</text>
<text x="456.3" y="1265.7" font-size="26.5" stroke="#000" stroke-width="0.3">t/t</text>
<text x="478.8" y="1276.8" font-size="17">m</text>
<g transform="translate(30.4,308.2) rotate(-90)">
<text x="0" y="0" font-size="28">i</text>
<text x="6.8" y="-15.2" font-size="15.5">2</text>
<text x="15.3" y="0" font-size="28">/</text>
<text x="23.7" y="0" font-size="28">i</text>
<text x="30.3" y="-15.2" font-size="15.5">2</text>
<text x="30.6" y="10.6" font-size="17.5" letter-spacing="-0.9">max</text>
</g>
<g transform="translate(30.4,956.8) rotate(-90)">
<text x="0" y="0" font-size="28">i</text>
<text x="6.8" y="-15.2" font-size="15.5">2</text>
<text x="15.3" y="0" font-size="28">/</text>
<text x="23.7" y="0" font-size="28">i</text>
<text x="30.3" y="-15.2" font-size="15.5">2</text>
<text x="30.6" y="10.6" font-size="17.5" letter-spacing="-0.9">m</text>
</g>
</svg></body></html>
